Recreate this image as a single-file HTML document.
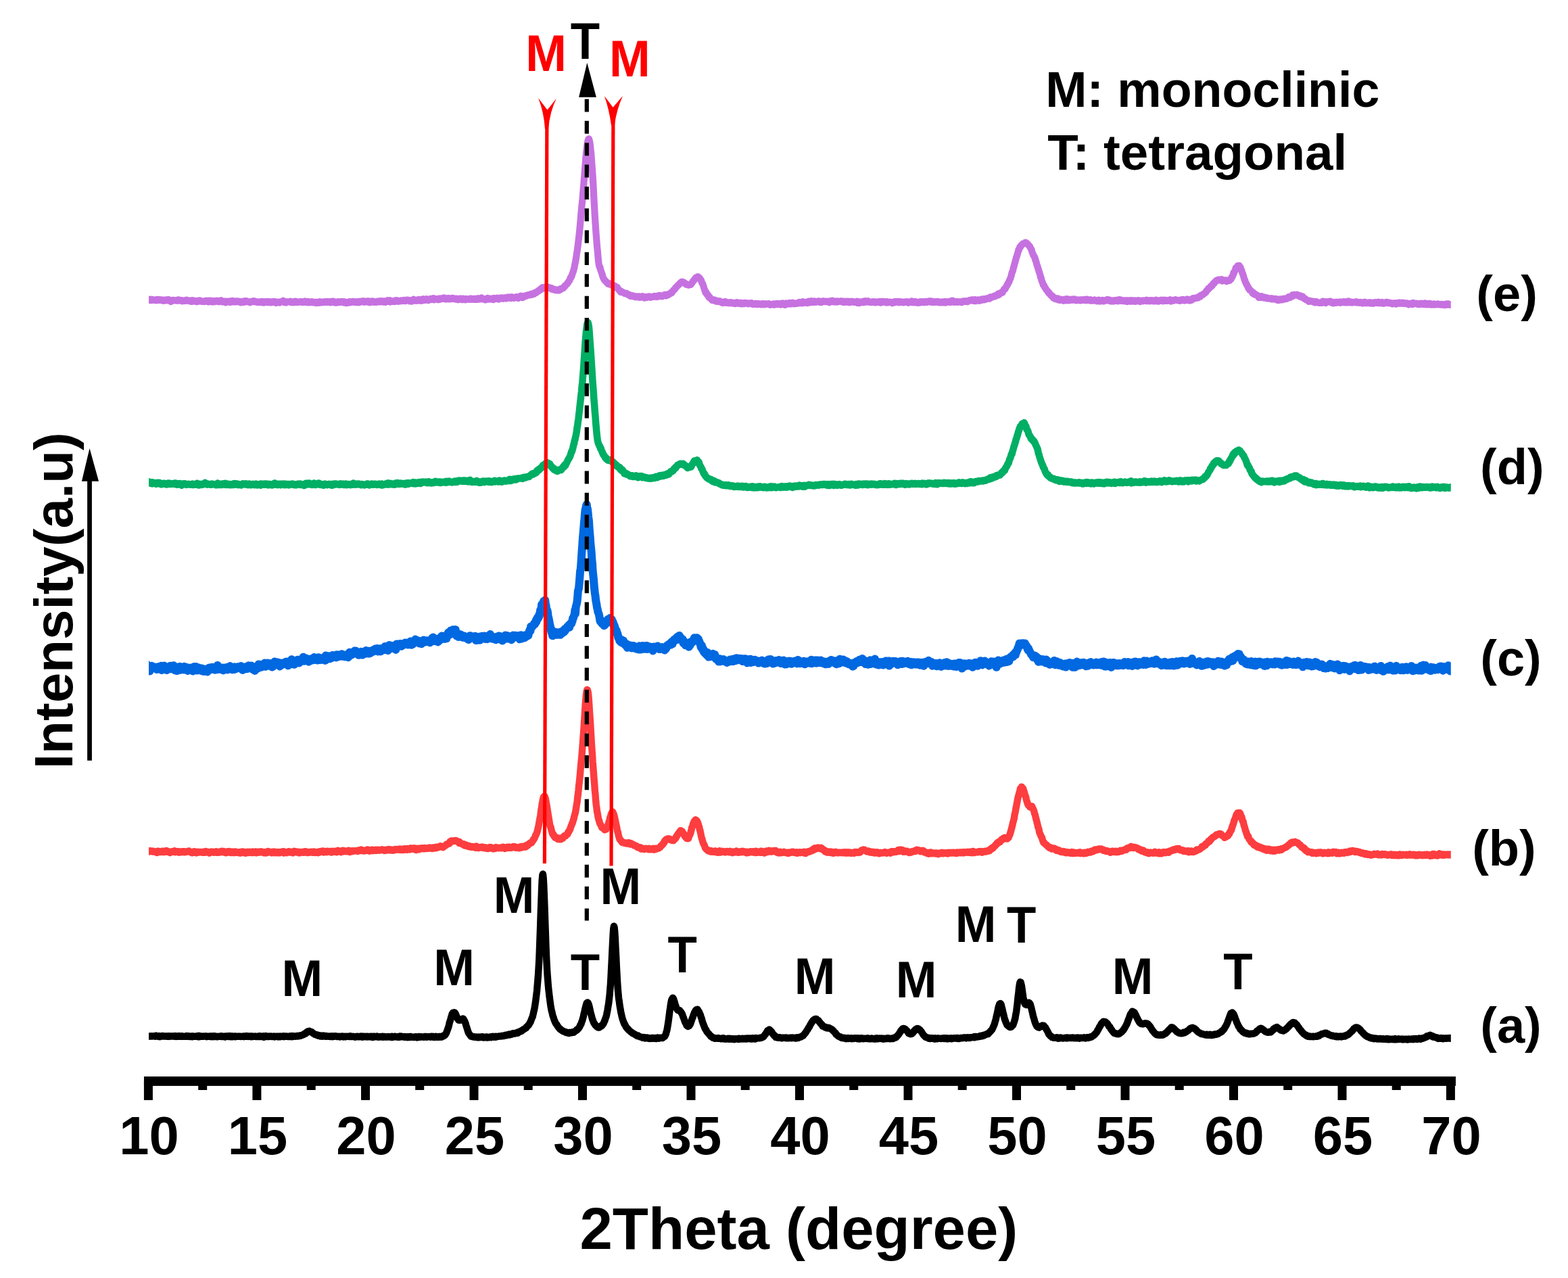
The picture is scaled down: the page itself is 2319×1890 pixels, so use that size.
<!DOCTYPE html>
<html lang="en"><head><meta charset="utf-8"><title>XRD patterns</title>
<style>html,body{margin:0;padding:0;background:#fff;}svg{display:block;}text{font-family:"Liberation Sans","Arial",sans-serif;font-weight:bold;}</style></head>
<body>
<svg width="2319" height="1890" viewBox="0 0 2319 1890">
<rect width="2319" height="1890" fill="#fff"/>
<defs><clipPath id="plotclip"><rect x="220" y="0" width="1925.8" height="1890"/></clipPath></defs>
<g fill="none" stroke-linejoin="round" stroke-linecap="butt" clip-path="url(#plotclip)">
<polyline stroke="#000000" stroke-width="10.4" points="215.5,1532.5 216.1,1532.6 216.8,1532.5 217.4,1532 218.1,1532.7 218.7,1532.5 219.3,1532.2 220,1532.6 220.6,1532.5 221.3,1532.5 221.9,1532.4 222.5,1532.6 223.2,1532.2 223.8,1532.4 224.5,1532.3 225.1,1532.6 225.7,1532.4 226.4,1532.3 227,1532.2 227.7,1532.4 228.3,1532.4 228.9,1532.4 229.6,1532.8 230.2,1532.7 230.9,1531.6 231.5,1531.9 232.1,1532.4 232.8,1532.3 233.4,1532.5 234.1,1532.5 234.7,1533.1 235.3,1532.1 236,1532.4 236.6,1533.1 237.3,1532.7 237.9,1532.7 238.5,1532.3 239.2,1532 239.8,1532.5 240.5,1532.5 241.1,1532.1 241.7,1532.3 242.4,1532.5 243,1532.2 243.7,1532.5 244.3,1532.5 244.9,1532.5 245.6,1532.3 246.2,1532.7 246.9,1532.8 247.5,1532.6 248.1,1532.3 248.8,1532.7 249.4,1532.4 250.1,1532.8 250.7,1532.2 251.3,1532.8 252,1532.5 252.6,1532.2 253.3,1532.4 253.9,1532.5 254.5,1532.6 255.2,1532.2 255.8,1532.2 256.5,1532.6 257.1,1532.4 257.7,1532.6 258.4,1532.8 259,1532.1 259.7,1532.6 260.3,1532.9 260.9,1532.5 261.6,1532.3 262.2,1532.8 262.9,1532.6 263.5,1532.8 264.1,1532.5 264.8,1532.1 265.4,1532.5 266.1,1532.4 266.7,1532.8 267.3,1532.6 268,1532.1 268.6,1532.2 269.3,1532.8 269.9,1532.8 270.5,1532.4 271.2,1532.6 271.8,1532.7 272.5,1532.7 273.1,1532.9 273.7,1532.7 274.4,1532.6 275,1532.5 275.7,1532.9 276.3,1531.9 276.9,1532.6 277.6,1532.6 278.2,1532.2 278.9,1532.7 279.5,1532.4 280.1,1532.9 280.8,1532.6 281.4,1532.8 282.1,1533 282.7,1532.7 283.3,1532.4 284,1532.2 284.6,1533.2 285.3,1532.6 285.9,1532.4 286.5,1532.7 287.2,1532.6 287.8,1532.9 288.5,1532.7 289.1,1532.6 289.7,1532.4 290.4,1532.8 291,1532.3 291.7,1532.9 292.3,1533.1 292.9,1532.2 293.6,1531.9 294.2,1532.8 294.9,1533.4 295.5,1532.4 296.1,1532.3 296.8,1532.8 297.4,1532.4 298.1,1532.5 298.7,1532.6 299.3,1532.8 300,1532.6 300.6,1532.8 301.3,1532.6 301.9,1532.4 302.5,1532.6 303.2,1532.4 303.8,1532.7 304.5,1532.3 305.1,1532.4 305.7,1533.1 306.4,1532.7 307,1532.7 307.7,1532.8 308.3,1532.6 308.9,1532.6 309.6,1532.8 310.2,1532.8 310.9,1532.4 311.5,1533 312.1,1532.5 312.8,1532.4 313.4,1532.4 314.1,1532.6 314.7,1533.2 315.3,1532.4 316,1532.8 316.6,1532.1 317.3,1532.7 317.9,1533 318.5,1532.6 319.2,1532.5 319.8,1532.8 320.5,1532.9 321.1,1532.9 321.7,1533.3 322.4,1532.8 323,1532.6 323.7,1532.7 324.3,1532.7 324.9,1532.8 325.6,1532.7 326.2,1532.8 326.9,1532.2 327.5,1533 328.1,1532.6 328.8,1532.4 329.4,1532.9 330.1,1533.1 330.7,1532.9 331.3,1532.8 332,1532.5 332.6,1533.6 333.3,1533 333.9,1532.4 334.5,1532.5 335.2,1532.8 335.8,1532.3 336.5,1532.8 337.1,1532.6 337.7,1533.1 338.4,1533.1 339,1532 339.7,1532.8 340.3,1532.3 340.9,1533.1 341.6,1532.8 342.2,1532.9 342.9,1532.5 343.5,1533.3 344.1,1533.4 344.8,1532.5 345.4,1532.9 346.1,1532.6 346.7,1532.8 347.3,1532.4 348,1533.3 348.6,1532.5 349.3,1532.7 349.9,1532.9 350.5,1532.6 351.2,1532.7 351.8,1532.6 352.5,1532.8 353.1,1532.4 353.7,1532.7 354.4,1532.7 355,1532.7 355.7,1532.8 356.3,1532.7 356.9,1533 357.6,1532.7 358.2,1532.8 358.9,1532.6 359.5,1532.6 360.1,1532.4 360.8,1533 361.4,1532.5 362.1,1532.6 362.7,1532.9 363.3,1532.9 364,1532.7 364.6,1532.2 365.3,1532.9 365.9,1532.9 366.5,1532.4 367.2,1533 367.8,1532.6 368.5,1532.5 369.1,1532.8 369.7,1532.8 370.4,1532.9 371,1532.3 371.7,1533.4 372.3,1532.6 372.9,1532.4 373.6,1533 374.2,1532.7 374.9,1532.9 375.5,1532.7 376.1,1532.8 376.8,1532.9 377.4,1532.6 378.1,1533 378.7,1532.7 379.3,1532.6 380,1532.9 380.6,1533 381.3,1532.8 381.9,1532.6 382.5,1533 383.2,1532.3 383.8,1532.5 384.5,1532.9 385.1,1532.4 385.7,1532.8 386.4,1532.8 387,1533.1 387.7,1532.6 388.3,1532.7 388.9,1532.9 389.6,1532.1 390.2,1533.8 390.9,1532.6 391.5,1532.6 392.1,1533.1 392.8,1532.8 393.4,1532.3 394.1,1533 394.7,1533.1 395.3,1532.7 396,1532.8 396.6,1533 397.3,1532.6 397.9,1533 398.5,1532.9 399.2,1532.6 399.8,1532.4 400.5,1532.8 401.1,1532.6 401.7,1533.1 402.4,1532.9 403,1533.1 403.7,1532.9 404.3,1532.9 404.9,1532.6 405.6,1533 406.2,1533.4 406.9,1532.7 407.5,1532.7 408.1,1532.8 408.8,1532.7 409.4,1532.6 410.1,1532.9 410.7,1532.7 411.3,1533.3 412,1532.8 412.6,1532.9 413.3,1533.1 413.9,1532.7 414.5,1533.3 415.2,1532.6 415.8,1532.6 416.5,1532.7 417.1,1532.8 417.7,1532.4 418.4,1532.8 419,1532.3 419.7,1533.2 420.3,1532.8 420.9,1532.6 421.6,1532.5 422.2,1532.7 422.9,1532.7 423.5,1532.5 424.1,1532.5 424.8,1532.7 425.4,1532.6 426.1,1533 426.7,1533.1 427.3,1532.7 428,1532.9 428.6,1532.3 429.3,1532.9 429.9,1532.7 430.5,1532.8 431.2,1533.2 431.8,1532 432.5,1532.7 433.1,1532.3 433.7,1532.8 434.4,1532.2 435,1532.4 435.7,1532.6 436.3,1532.7 436.9,1532.5 437.6,1532.2 438.2,1532.2 438.9,1532.6 439.5,1532.3 440.1,1531.7 440.8,1532.4 441.4,1532.2 442.1,1532.3 442.7,1531.8 443.3,1532 444,1531.3 444.6,1531.7 445.3,1531.2 445.9,1531.3 446.5,1531.2 447.2,1530.4 447.8,1530.4 448.5,1530.1 449.1,1530.1 449.7,1529.6 450.4,1528.6 451,1528.7 451.7,1528.3 452.3,1528.3 452.9,1526.7 453.6,1526.5 454.2,1526.7 454.9,1525.4 455.5,1525.2 456.1,1525.4 456.8,1525.4 457.4,1524.8 458.1,1525.2 458.7,1525.2 459.3,1525.9 460,1525.8 460.6,1526.5 461.3,1526.3 461.9,1527 462.5,1527.5 463.2,1528.3 463.8,1528.6 464.5,1528.6 465.1,1529.4 465.7,1529.8 466.4,1529.9 467,1530.2 467.7,1530.5 468.3,1530.3 468.9,1531.1 469.6,1531.3 470.2,1531.1 470.9,1531.7 471.5,1531.2 472.1,1531.6 472.8,1531.7 473.4,1532.5 474.1,1531.5 474.7,1532.2 475.3,1532.4 476,1532.3 476.6,1532.6 477.3,1531.9 477.9,1531.6 478.5,1532.5 479.2,1532 479.8,1532.3 480.5,1532 481.1,1532.7 481.7,1532.7 482.4,1532.2 483,1532.7 483.7,1532.5 484.3,1532.4 484.9,1532.5 485.6,1532.5 486.2,1532.7 486.9,1532.6 487.5,1532.4 488.1,1532.9 488.8,1532.4 489.4,1532.7 490.1,1532.7 490.7,1533 491.3,1532.5 492,1533.1 492.6,1532.7 493.3,1532.6 493.9,1532.4 494.5,1532.8 495.2,1532.7 495.8,1532.3 496.5,1532.3 497.1,1532.5 497.7,1532.5 498.4,1533 499,1533.1 499.7,1533 500.3,1532.8 500.9,1532.6 501.6,1532.8 502.2,1533 502.9,1533.4 503.5,1533 504.1,1532.7 504.8,1532.8 505.4,1532.6 506.1,1532.5 506.7,1532.7 507.3,1532.9 508,1533.4 508.6,1532.8 509.3,1533.2 509.9,1533.3 510.5,1532.8 511.2,1533.3 511.8,1533.1 512.5,1532.7 513.1,1532.9 513.7,1532.9 514.4,1532.8 515,1532.8 515.7,1532.9 516.3,1533 516.9,1532.6 517.6,1532.9 518.2,1532.4 518.9,1533 519.5,1533.1 520.1,1533 520.8,1533 521.4,1533.1 522.1,1532.7 522.7,1532.9 523.3,1533.1 524,1533.2 524.6,1533.1 525.3,1533.7 525.9,1532.9 526.5,1533.3 527.2,1533.4 527.8,1532.9 528.5,1532.7 529.1,1532.6 529.7,1533 530.4,1533.3 531,1533.1 531.7,1533.1 532.3,1532.9 532.9,1533.2 533.6,1532.4 534.2,1533.1 534.9,1533 535.5,1532.6 536.1,1533.7 536.8,1532.6 537.4,1532.7 538.1,1532.7 538.7,1533.4 539.3,1532.8 540,1533.3 540.6,1533.3 541.3,1533.2 541.9,1532.7 542.5,1532.9 543.2,1533.6 543.8,1532.7 544.5,1532.9 545.1,1533.1 545.7,1533.4 546.4,1533.2 547,1533.4 547.7,1532.8 548.3,1533.4 548.9,1533.3 549.6,1532.7 550.2,1533.6 550.9,1533.9 551.5,1532.9 552.1,1533.2 552.8,1533.6 553.4,1532.7 554.1,1532.6 554.7,1532.8 555.3,1533 556,1533 556.6,1533.4 557.3,1533.3 557.9,1532.8 558.5,1533.4 559.2,1533.8 559.8,1533.6 560.5,1533.5 561.1,1533.2 561.7,1533.5 562.4,1533 563,1533.5 563.7,1533.2 564.3,1533.6 564.9,1533.4 565.6,1532.9 566.2,1533.3 566.9,1533.6 567.5,1532.9 568.1,1533.1 568.8,1533.1 569.4,1532.9 570.1,1533.6 570.7,1533.7 571.3,1533.6 572,1533.4 572.6,1533.3 573.3,1533.4 573.9,1533.1 574.5,1533.6 575.2,1533.6 575.8,1533.6 576.5,1533.2 577.1,1533.4 577.7,1533.3 578.4,1533.9 579,1533.4 579.7,1532.8 580.3,1533.5 580.9,1533.9 581.6,1533.6 582.2,1533.6 582.9,1533.4 583.5,1532.8 584.1,1532.8 584.8,1533 585.4,1533.3 586.1,1533.5 586.7,1533.6 587.3,1533.3 588,1533.7 588.6,1533.3 589.3,1533.2 589.9,1533.7 590.5,1533.1 591.2,1532.6 591.8,1533.1 592.5,1533.4 593.1,1532.5 593.7,1533.3 594.4,1533.3 595,1533 595.7,1533 596.3,1533.3 596.9,1533.3 597.6,1533.8 598.2,1533.5 598.9,1533 599.5,1533.2 600.1,1533.6 600.8,1534 601.4,1533.5 602.1,1533.5 602.7,1534 603.3,1533.4 604,1533.3 604.6,1533 605.3,1533.3 605.9,1534.1 606.5,1533 607.2,1533.4 607.8,1533 608.5,1533.5 609.1,1533.7 609.7,1533.4 610.4,1533.7 611,1533.7 611.7,1533.6 612.3,1534 612.9,1533.7 613.6,1533.4 614.2,1533.2 614.9,1533.2 615.5,1533.6 616.1,1533.3 616.8,1534.3 617.4,1534 618.1,1533.4 618.7,1533.3 619.3,1534 620,1532.9 620.6,1533.3 621.3,1533.7 621.9,1533.2 622.5,1533.3 623.2,1533.3 623.8,1533.6 624.5,1533.5 625.1,1533.6 625.7,1533.6 626.4,1533.5 627,1533.8 627.7,1533.2 628.3,1533 628.9,1532.9 629.6,1533 630.2,1533.3 630.9,1533.8 631.5,1533.5 632.1,1533.3 632.8,1533.1 633.4,1533.3 634.1,1533.3 634.7,1533.3 635.3,1533 636,1533.3 636.6,1533.7 637.3,1532.8 637.9,1533.4 638.5,1532.8 639.2,1533.5 639.8,1533.2 640.5,1532.8 641.1,1533.5 641.7,1534 642.4,1533.5 643,1533.8 643.7,1533.4 644.3,1532.8 644.9,1533.6 645.6,1533.3 646.2,1533 646.9,1533.7 647.5,1533.5 648.1,1533.2 648.8,1533.7 649.4,1533.1 650.1,1533.6 650.7,1533.1 651.3,1533.5 652,1532.9 652.6,1533.6 653.3,1533.2 653.9,1533.4 654.5,1532.6 655.2,1532.4 655.8,1532.5 656.5,1531.1 657.1,1531.1 657.7,1531.2 658.4,1530.3 659,1529.6 659.7,1528.2 660.3,1527.2 660.9,1525.4 661.6,1523.6 662.2,1521.7 662.9,1520.1 663.5,1518 664.1,1515.7 664.8,1512.4 665.4,1510.5 666.1,1508.5 666.7,1506.4 667.3,1503.9 668,1501.9 668.6,1499.7 669.3,1499.6 669.9,1497.6 670.5,1497.8 671.2,1497.5 671.8,1497.2 672.5,1497.5 673.1,1498.5 673.7,1499.2 674.4,1500.9 675,1502.3 675.7,1503.9 676.3,1505.4 676.9,1506.9 677.6,1507.3 678.2,1508.6 678.9,1508.5 679.5,1508.7 680.1,1508.7 680.8,1508.4 681.4,1508.5 682.1,1508 682.7,1507.6 683.3,1506.8 684,1506.7 684.6,1506.5 685.3,1506.7 685.9,1507.9 686.5,1508.9 687.2,1509.9 687.8,1512 688.5,1513.2 689.1,1515.7 689.7,1517.6 690.4,1519.7 691,1521.6 691.7,1524.1 692.3,1525.7 692.9,1527.5 693.6,1528.5 694.2,1529.2 694.9,1530.4 695.5,1530.9 696.1,1532 696.8,1532.7 697.4,1532.8 698.1,1532.8 698.7,1533.1 699.3,1533.4 700,1533.1 700.6,1533.6 701.3,1533.7 701.9,1533.5 702.5,1533.6 703.2,1533.8 703.8,1533.5 704.5,1533.6 705.1,1534.1 705.7,1533.9 706.4,1534.4 707,1533.6 707.7,1533.4 708.3,1534.2 708.9,1534.2 709.6,1533.7 710.2,1533.5 710.9,1534 711.5,1533.5 712.1,1533.9 712.8,1533.4 713.4,1533.9 714.1,1533.4 714.7,1534 715.3,1534.5 716,1534 716.6,1534.3 717.3,1533.8 717.9,1533.8 718.5,1533.6 719.2,1534.3 719.8,1534 720.5,1534.5 721.1,1533.6 721.7,1533.9 722.4,1534 723,1534.3 723.7,1534.4 724.3,1533.7 724.9,1533.5 725.6,1533.3 726.2,1534.2 726.9,1533.7 727.5,1533.5 728.1,1533.6 728.8,1532.8 729.4,1533 730.1,1533.8 730.7,1533.6 731.3,1533.4 732,1533 732.6,1533.4 733.3,1533.7 733.9,1532.8 734.5,1533.1 735.2,1532.9 735.8,1533 736.5,1532.9 737.1,1532.7 737.7,1532.4 738.4,1532.6 739,1532.4 739.7,1532.4 740.3,1532.4 740.9,1532.5 741.6,1532 742.2,1532 742.9,1532.3 743.5,1531.8 744.1,1531.7 744.8,1532 745.4,1531.7 746.1,1531.5 746.7,1531.5 747.3,1530.9 748,1531.3 748.6,1531.4 749.3,1531.1 749.9,1530.3 750.5,1530.8 751.2,1530.3 751.8,1530.4 752.5,1530.3 753.1,1529.8 753.7,1530.4 754.4,1529.9 755,1530 755.7,1529.8 756.3,1529.8 756.9,1529.6 757.6,1528.7 758.2,1529 758.9,1528.2 759.5,1528.5 760.1,1528.7 760.8,1528.6 761.4,1528.5 762.1,1527.8 762.7,1527.8 763.3,1527.5 764,1527.7 764.6,1527.6 765.3,1526.8 765.9,1527.8 766.5,1526.4 767.2,1526 767.8,1526.1 768.5,1525.9 769.1,1525.5 769.7,1524.9 770.4,1525.2 771,1524.5 771.7,1524.6 772.3,1524.2 772.9,1523 773.6,1522.7 774.2,1522.3 774.9,1522.3 775.5,1521.8 776.1,1521.4 776.8,1520.6 777.4,1520.4 778.1,1520.1 778.7,1518.7 779.3,1518.4 780,1517.8 780.6,1517 781.3,1516.2 781.9,1515.9 782.5,1514.8 783.2,1513.6 783.8,1512.1 784.5,1511.8 785.1,1509.9 785.7,1508.1 786.4,1506.6 787,1504.8 787.7,1503.6 788.3,1500.9 788.9,1498.4 789.6,1495.1 790.2,1492.9 790.9,1488.9 791.5,1485 792.1,1481.1 792.8,1475.7 793.4,1470.6 794.1,1464.8 794.7,1457.5 795.3,1450.7 796,1441.7 796.6,1431.8 797.3,1419.7 797.9,1404.1 798.5,1387.8 799.2,1368.3 799.8,1348.6 800.5,1330.6 801.1,1314.5 801.7,1301 802.4,1293.9 803,1292.5 803.7,1298.8 804.3,1309.8 804.9,1325.1 805.6,1343.4 806.2,1361.9 806.9,1381.4 807.5,1399.9 808.1,1415 808.8,1428.6 809.4,1439.2 810.1,1448 810.7,1455.9 811.3,1462.6 812,1468.4 812.6,1474 813.3,1479.2 813.9,1483.6 814.5,1488.1 815.2,1491.7 815.8,1495 816.5,1497.1 817.1,1500.4 817.7,1502.5 818.4,1504.1 819,1506.4 819.7,1508.4 820.3,1509.8 820.9,1511.3 821.6,1512.7 822.2,1513.9 822.9,1514.7 823.5,1515.2 824.1,1516.5 824.8,1517.7 825.4,1518.3 826.1,1519.5 826.7,1520.2 827.3,1520.7 828,1521.9 828.6,1521.6 829.3,1522.8 829.9,1522.9 830.5,1523.3 831.2,1524.1 831.8,1524.2 832.5,1525 833.1,1524.8 833.7,1525.5 834.4,1525.5 835,1526 835.7,1526.2 836.3,1526.2 836.9,1526.9 837.6,1526.5 838.2,1526.7 838.9,1527.4 839.5,1527.5 840.1,1527.5 840.8,1527.4 841.4,1528 842.1,1527 842.7,1527.1 843.3,1526.9 844,1527.4 844.6,1527.2 845.3,1527.3 845.9,1527.1 846.5,1526.6 847.2,1526.3 847.8,1526 848.5,1526.8 849.1,1526.1 849.7,1525.7 850.4,1525.1 851,1524.8 851.7,1524.4 852.3,1523.9 852.9,1522.8 853.6,1523 854.2,1522.3 854.9,1521.8 855.5,1521 856.1,1520.4 856.8,1519.2 857.4,1518.4 858.1,1516.2 858.7,1515.4 859.3,1514.8 860,1512.3 860.6,1510.8 861.3,1509.1 861.9,1506.5 862.5,1504.6 863.2,1501.4 863.8,1498.5 864.5,1495.8 865.1,1492.8 865.7,1490.5 866.4,1487.8 867,1485.7 867.7,1483.5 868.3,1483.5 868.9,1482.5 869.6,1483 870.2,1484.4 870.9,1486.1 871.5,1488.3 872.1,1491.2 872.8,1494.2 873.4,1496.9 874.1,1499.7 874.7,1501.8 875.3,1504.1 876,1507.1 876.6,1508.3 877.3,1510.3 877.9,1511.9 878.5,1513.5 879.2,1513.8 879.8,1515.1 880.5,1516 881.1,1516.8 881.7,1516.9 882.4,1518.1 883,1517.7 883.7,1519 884.3,1519.3 884.9,1519.5 885.6,1519 886.2,1519.6 886.9,1518.9 887.5,1518.5 888.1,1518.2 888.8,1517.8 889.4,1517.6 890.1,1517.1 890.7,1515.5 891.3,1515.1 892,1514.6 892.6,1513.2 893.3,1512.1 893.9,1510.1 894.5,1509.3 895.2,1506.7 895.8,1505.3 896.5,1503.4 897.1,1501 897.7,1497.7 898.4,1494.5 899,1490.4 899.7,1486.6 900.3,1482.9 900.9,1477.6 901.6,1471.7 902.2,1464.1 902.9,1455.8 903.5,1445.4 904.1,1433 904.8,1419.9 905.4,1406.8 906.1,1393.1 906.7,1381.5 907.3,1373 908,1369.6 908.6,1371.4 909.3,1378.5 909.9,1388.3 910.5,1401.8 911.2,1414.6 911.8,1428.2 912.5,1441 913.1,1451.9 913.7,1461.3 914.4,1469.2 915,1475.7 915.7,1480.2 916.3,1485.1 916.9,1489 917.6,1492.8 918.2,1496.7 918.9,1499.5 919.5,1502.3 920.1,1504.9 920.8,1507.3 921.4,1509 922.1,1511.2 922.7,1512.1 923.3,1514.2 924,1514.8 924.6,1516.2 925.3,1517.4 925.9,1518.9 926.5,1519.5 927.2,1520 927.8,1521.3 928.5,1521.6 929.1,1522.1 929.7,1523.2 930.4,1523.7 931,1524.5 931.7,1524.6 932.3,1525.5 932.9,1526 933.6,1526.4 934.2,1526.8 934.9,1527.1 935.5,1528 936.1,1528.2 936.8,1528.7 937.4,1528.8 938.1,1529.3 938.7,1529.3 939.3,1530 940,1530.6 940.6,1530.7 941.3,1531.2 941.9,1531.4 942.5,1532 943.2,1531.8 943.8,1531.6 944.5,1532.5 945.1,1532.6 945.7,1532.6 946.4,1533.3 947,1533.4 947.7,1533.6 948.3,1533.6 948.9,1533.9 949.6,1534.1 950.2,1534.7 950.9,1534.1 951.5,1534.5 952.1,1534.7 952.8,1534.2 953.4,1534.3 954.1,1535.5 954.7,1534.4 955.3,1535.2 956,1534.8 956.6,1534.9 957.3,1534.6 957.9,1535 958.5,1535.5 959.2,1534.9 959.8,1535.5 960.5,1535.4 961.1,1536 961.7,1535.2 962.4,1535.8 963,1535.7 963.7,1535.3 964.3,1534.9 964.9,1535.8 965.6,1535 966.2,1535.2 966.9,1535.6 967.5,1535.7 968.1,1535.1 968.8,1535.3 969.4,1535.2 970.1,1535.7 970.7,1536 971.3,1534.7 972,1535.5 972.6,1534.4 973.3,1535.2 973.9,1534.8 974.5,1535.7 975.2,1535.2 975.8,1534.8 976.5,1534.9 977.1,1534.8 977.7,1535 978.4,1534.8 979,1535 979.7,1535.1 980.3,1534.7 980.9,1533.9 981.6,1533.5 982.2,1533.3 982.9,1533.2 983.5,1531.8 984.1,1530.6 984.8,1529.3 985.4,1526.8 986.1,1524.5 986.7,1522 987.3,1518.3 988,1514.2 988.6,1510 989.3,1505 989.9,1500 990.5,1495.1 991.2,1490.7 991.8,1486.2 992.5,1482.1 993.1,1479.4 993.7,1477.6 994.4,1476.8 995,1475.6 995.7,1476.6 996.3,1477.7 996.9,1479.8 997.6,1481.8 998.2,1484.3 998.9,1486.2 999.5,1487.9 1000.1,1489.7 1000.8,1491.4 1001.4,1492.5 1002.1,1493.8 1002.7,1494.1 1003.3,1493.6 1004,1494.3 1004.6,1494.1 1005.3,1494.3 1005.9,1495.5 1006.5,1496 1007.2,1496.4 1007.8,1498.2 1008.5,1498.7 1009.1,1500 1009.7,1502.2 1010.4,1503.8 1011,1505.4 1011.7,1507.3 1012.3,1509.2 1012.9,1510.8 1013.6,1512.4 1014.2,1513.3 1014.9,1514.7 1015.5,1516.3 1016.1,1516.7 1016.8,1517.6 1017.4,1518 1018.1,1517.4 1018.7,1517.3 1019.3,1517.2 1020,1515.9 1020.6,1515.1 1021.3,1513.7 1021.9,1511.9 1022.5,1510 1023.2,1508 1023.8,1506.1 1024.5,1504.7 1025.1,1502.8 1025.7,1500.9 1026.4,1499.5 1027,1497.5 1027.7,1496.6 1028.3,1495.1 1028.9,1494.2 1029.6,1493.5 1030.2,1493.1 1030.9,1493.7 1031.5,1492.7 1032.1,1493.7 1032.8,1494.8 1033.4,1495.7 1034.1,1496.6 1034.7,1498.7 1035.3,1499.6 1036,1501.3 1036.6,1503.8 1037.3,1505.2 1037.9,1506.9 1038.5,1509.9 1039.2,1511.8 1039.8,1513.7 1040.5,1515.2 1041.1,1517 1041.7,1518.3 1042.4,1520.5 1043,1521.5 1043.7,1522.7 1044.3,1523 1044.9,1524.8 1045.6,1525.9 1046.2,1526.7 1046.9,1527.4 1047.5,1528 1048.1,1528.7 1048.8,1529.7 1049.4,1530.4 1050.1,1531.1 1050.7,1531.6 1051.3,1532.8 1052,1532.5 1052.6,1533.3 1053.3,1533.6 1053.9,1534.4 1054.5,1534.9 1055.2,1535.1 1055.8,1535.1 1056.5,1534.7 1057.1,1535.8 1057.7,1535.5 1058.4,1535.4 1059,1535.5 1059.7,1535.4 1060.3,1535.7 1060.9,1535.7 1061.6,1535.5 1062.2,1534.9 1062.9,1535.7 1063.5,1535.9 1064.1,1535.9 1064.8,1535.8 1065.4,1536 1066.1,1536.2 1066.7,1535.8 1067.3,1536.4 1068,1535.4 1068.6,1535.6 1069.3,1535.7 1069.9,1535.3 1070.5,1535.8 1071.2,1536.5 1071.8,1536.5 1072.5,1536.2 1073.1,1536.7 1073.7,1536.3 1074.4,1536.1 1075,1536.3 1075.7,1536.2 1076.3,1536.5 1076.9,1535.8 1077.6,1536.6 1078.2,1536.2 1078.9,1536.6 1079.5,1535.9 1080.1,1536.2 1080.8,1536.4 1081.4,1536.7 1082.1,1536 1082.7,1536.9 1083.3,1536.5 1084,1536.2 1084.6,1536.8 1085.3,1536.4 1085.9,1536.7 1086.5,1537.1 1087.2,1536.6 1087.8,1536.2 1088.5,1536.3 1089.1,1536.6 1089.7,1536.5 1090.4,1536.1 1091,1536.2 1091.7,1536.6 1092.3,1537.1 1092.9,1535.6 1093.6,1536.6 1094.2,1536.3 1094.9,1536.6 1095.5,1536.6 1096.1,1536.3 1096.8,1536 1097.4,1535.9 1098.1,1535.7 1098.7,1536.6 1099.3,1536.2 1100,1536.1 1100.6,1536.1 1101.3,1535.8 1101.9,1536.3 1102.5,1536.6 1103.2,1536.5 1103.8,1535.7 1104.5,1536.5 1105.1,1535.9 1105.7,1535.5 1106.4,1535.7 1107,1535.7 1107.7,1536 1108.3,1535.7 1108.9,1535.5 1109.6,1535.9 1110.2,1536.5 1110.9,1535.7 1111.5,1536 1112.1,1535.9 1112.8,1536.6 1113.4,1535.2 1114.1,1536.1 1114.7,1535.4 1115.3,1535.5 1116,1535.7 1116.6,1536.6 1117.3,1535.4 1117.9,1535 1118.5,1535.9 1119.2,1535.3 1119.8,1535.4 1120.5,1535.4 1121.1,1535.4 1121.7,1535.3 1122.4,1535.3 1123,1535.3 1123.7,1535.3 1124.3,1534.8 1124.9,1534.6 1125.6,1534.4 1126.2,1534.7 1126.9,1534.2 1127.5,1534.1 1128.1,1533.7 1128.8,1533.6 1129.4,1532.7 1130.1,1532.2 1130.7,1531 1131.3,1530.2 1132,1529.6 1132.6,1528.4 1133.3,1528 1133.9,1526.4 1134.5,1525.8 1135.2,1524.2 1135.8,1523.8 1136.5,1523.4 1137.1,1523.1 1137.7,1522.5 1138.4,1523.2 1139,1523.8 1139.7,1524.4 1140.3,1524.8 1140.9,1525.7 1141.6,1526.5 1142.2,1528 1142.9,1529.2 1143.5,1529.5 1144.1,1529.9 1144.8,1531.3 1145.4,1532.1 1146.1,1531.6 1146.7,1533 1147.3,1534 1148,1533.9 1148.6,1534.1 1149.3,1534.3 1149.9,1534.6 1150.5,1534.2 1151.2,1534.3 1151.8,1534.8 1152.5,1534.5 1153.1,1534.8 1153.7,1534.2 1154.4,1535.1 1155,1535.1 1155.7,1534.9 1156.3,1534.9 1156.9,1535.4 1157.6,1534.6 1158.2,1534.7 1158.9,1534.6 1159.5,1534.8 1160.1,1534.7 1160.8,1535 1161.4,1534.8 1162.1,1534.5 1162.7,1534.5 1163.3,1535.4 1164,1535 1164.6,1534.9 1165.3,1535 1165.9,1535 1166.5,1535.2 1167.2,1535.2 1167.8,1534.8 1168.5,1534.8 1169.1,1534.7 1169.7,1534.6 1170.4,1535.4 1171,1534.7 1171.7,1534.4 1172.3,1534.7 1172.9,1534.7 1173.6,1535.1 1174.2,1534.7 1174.9,1535.1 1175.5,1535 1176.1,1535.2 1176.8,1535.5 1177.4,1535.6 1178.1,1535.1 1178.7,1534.3 1179.3,1534.5 1180,1534.6 1180.6,1535 1181.3,1534.4 1181.9,1534.4 1182.5,1533.8 1183.2,1533.9 1183.8,1533.7 1184.5,1533 1185.1,1533.1 1185.7,1532.8 1186.4,1532.1 1187,1532 1187.7,1531.7 1188.3,1530.7 1188.9,1530.1 1189.6,1529.3 1190.2,1528.5 1190.9,1528 1191.5,1527 1192.1,1526.1 1192.8,1525 1193.4,1523.8 1194.1,1523 1194.7,1522.3 1195.3,1520.7 1196,1519.7 1196.6,1519.3 1197.3,1518 1197.9,1516.3 1198.5,1515.5 1199.2,1514 1199.8,1513.6 1200.5,1511.9 1201.1,1511.1 1201.7,1510.6 1202.4,1509.1 1203,1509.1 1203.7,1507.9 1204.3,1507.7 1204.9,1507.2 1205.6,1507 1206.2,1507 1206.9,1507 1207.5,1506.9 1208.1,1507.8 1208.8,1508.2 1209.4,1508.8 1210.1,1509.5 1210.7,1509.3 1211.3,1510.9 1212,1511.6 1212.6,1511.9 1213.3,1513.2 1213.9,1514.1 1214.5,1514.3 1215.2,1514.8 1215.8,1515.9 1216.5,1517.5 1217.1,1517.3 1217.7,1517.4 1218.4,1518.2 1219,1518.4 1219.7,1518.9 1220.3,1519.3 1220.9,1518.7 1221.6,1519.8 1222.2,1520.2 1222.9,1519.8 1223.5,1519.9 1224.1,1520.4 1224.8,1519.8 1225.4,1519.9 1226.1,1520 1226.7,1520.5 1227.3,1520.9 1228,1521 1228.6,1521.5 1229.3,1522 1229.9,1522.4 1230.5,1522.5 1231.2,1523.2 1231.8,1524.3 1232.5,1524.3 1233.1,1525.2 1233.7,1525.9 1234.4,1526.7 1235,1527.1 1235.7,1527.8 1236.3,1529.6 1236.9,1529.9 1237.6,1530 1238.2,1530.8 1238.9,1531.6 1239.5,1531.9 1240.1,1532.6 1240.8,1532.7 1241.4,1533.2 1242.1,1533.6 1242.7,1533.8 1243.3,1533.5 1244,1534.5 1244.6,1534.8 1245.3,1535 1245.9,1534.7 1246.5,1535.2 1247.2,1535.3 1247.8,1534.8 1248.5,1534.7 1249.1,1535.6 1249.7,1535.2 1250.4,1535.8 1251,1536.2 1251.7,1535.4 1252.3,1535.4 1252.9,1535.6 1253.6,1535.8 1254.2,1535.3 1254.9,1536 1255.5,1535.9 1256.1,1535.9 1256.8,1535.5 1257.4,1535.9 1258.1,1535.9 1258.7,1535.3 1259.3,1536.3 1260,1535.6 1260.6,1535.8 1261.3,1535.5 1261.9,1535.8 1262.5,1536 1263.2,1535.5 1263.8,1535.2 1264.5,1535.6 1265.1,1535.3 1265.7,1535.5 1266.4,1535.7 1267,1535.7 1267.7,1536.1 1268.3,1535.4 1268.9,1535.8 1269.6,1535.6 1270.2,1536.2 1270.9,1536.5 1271.5,1535.8 1272.1,1536.3 1272.8,1535.6 1273.4,1535.3 1274.1,1535.4 1274.7,1535.3 1275.3,1535.5 1276,1535.7 1276.6,1536.2 1277.3,1536 1277.9,1536 1278.5,1535.7 1279.2,1535.6 1279.8,1535.9 1280.5,1535.9 1281.1,1535.9 1281.7,1536 1282.4,1535.8 1283,1535.3 1283.7,1535.6 1284.3,1535.6 1284.9,1536.4 1285.6,1535.8 1286.2,1536.1 1286.9,1536.4 1287.5,1536 1288.1,1535.8 1288.8,1535.9 1289.4,1535.6 1290.1,1536 1290.7,1536.3 1291.3,1536.1 1292,1536.2 1292.6,1536.2 1293.3,1536.6 1293.9,1535.8 1294.5,1536 1295.2,1536.2 1295.8,1536.4 1296.5,1535.3 1297.1,1535.8 1297.7,1535.9 1298.4,1535.7 1299,1536.3 1299.7,1536.1 1300.3,1535.9 1300.9,1535.5 1301.6,1535.6 1302.2,1535.7 1302.9,1536.1 1303.5,1535.6 1304.1,1535.4 1304.8,1535.6 1305.4,1535.8 1306.1,1536.5 1306.7,1536.7 1307.3,1535.8 1308,1536.2 1308.6,1536.4 1309.3,1536.3 1309.9,1535.9 1310.5,1535.6 1311.2,1535.8 1311.8,1535.4 1312.5,1536 1313.1,1536.1 1313.7,1535.3 1314.4,1535.9 1315,1536 1315.7,1536.2 1316.3,1536.3 1316.9,1536.1 1317.6,1535.6 1318.2,1535.7 1318.9,1536.1 1319.5,1535.5 1320.1,1535.6 1320.8,1536 1321.4,1535.4 1322.1,1534.8 1322.7,1535 1323.3,1535 1324,1534.5 1324.6,1534.5 1325.3,1534.2 1325.9,1533.1 1326.5,1532.6 1327.2,1532 1327.8,1531 1328.5,1530.6 1329.1,1529.6 1329.7,1528.9 1330.4,1527.5 1331,1526.4 1331.7,1526.3 1332.3,1524.5 1332.9,1523.6 1333.6,1522.8 1334.2,1522.2 1334.9,1521.4 1335.5,1521.3 1336.1,1520.9 1336.8,1520.9 1337.4,1521.2 1338.1,1521.6 1338.7,1522 1339.3,1522.2 1340,1523.2 1340.6,1523.8 1341.3,1524.6 1341.9,1524.9 1342.5,1526.4 1343.2,1526.9 1343.8,1528.1 1344.5,1528.4 1345.1,1528.3 1345.7,1528.5 1346.4,1529.3 1347,1528.7 1347.7,1529 1348.3,1528.4 1348.9,1528.7 1349.6,1527.5 1350.2,1527.3 1350.9,1526.5 1351.5,1525.2 1352.1,1524.5 1352.8,1524.3 1353.4,1523.1 1354.1,1522.2 1354.7,1522.3 1355.3,1522.3 1356,1521.2 1356.6,1521.4 1357.3,1521 1357.9,1521.6 1358.5,1521.4 1359.2,1522.3 1359.8,1522.6 1360.5,1523.1 1361.1,1524 1361.7,1524.6 1362.4,1525.3 1363,1526.3 1363.7,1527.5 1364.3,1528.1 1364.9,1529.4 1365.6,1530.3 1366.2,1531 1366.9,1531.5 1367.5,1532.3 1368.1,1532.8 1368.8,1533.7 1369.4,1533.5 1370.1,1534 1370.7,1534.4 1371.3,1534.7 1372,1534.7 1372.6,1534.9 1373.3,1535.6 1373.9,1535.2 1374.5,1535.7 1375.2,1536.1 1375.8,1536 1376.5,1535.1 1377.1,1535.9 1377.7,1535.8 1378.4,1535.9 1379,1535.2 1379.7,1536 1380.3,1535.4 1380.9,1536.1 1381.6,1536.1 1382.2,1536.5 1382.9,1535.7 1383.5,1535.3 1384.1,1536.1 1384.8,1536 1385.4,1535.7 1386.1,1536.2 1386.7,1536 1387.3,1535.4 1388,1535.7 1388.6,1535.7 1389.3,1535.8 1389.9,1535.9 1390.5,1535.6 1391.2,1535.7 1391.8,1536 1392.5,1535.8 1393.1,1535.7 1393.7,1535.7 1394.4,1535.8 1395,1535.2 1395.7,1535.9 1396.3,1535.5 1396.9,1535.8 1397.6,1535.4 1398.2,1536.1 1398.9,1535.9 1399.5,1535.4 1400.1,1535.8 1400.8,1535.5 1401.4,1536.3 1402.1,1535.9 1402.7,1535.5 1403.3,1535.8 1404,1535.7 1404.6,1536.1 1405.3,1535.8 1405.9,1535.9 1406.5,1535.4 1407.2,1535.9 1407.8,1536.3 1408.5,1535.8 1409.1,1535.6 1409.7,1535.7 1410.4,1535.3 1411,1535.6 1411.7,1535.2 1412.3,1535.6 1412.9,1535.4 1413.6,1535.3 1414.2,1535.7 1414.9,1535 1415.5,1535.4 1416.1,1535 1416.8,1536 1417.4,1536 1418.1,1535.6 1418.7,1535.9 1419.3,1535.5 1420,1535.4 1420.6,1535.1 1421.3,1535 1421.9,1535.2 1422.5,1535 1423.2,1535 1423.8,1535.3 1424.5,1535 1425.1,1534.6 1425.7,1534.9 1426.4,1534.7 1427,1534.9 1427.7,1534.6 1428.3,1535.2 1428.9,1535.4 1429.6,1534.5 1430.2,1534.9 1430.9,1534.9 1431.5,1534.3 1432.1,1534.6 1432.8,1535 1433.4,1534.8 1434.1,1535 1434.7,1534.1 1435.3,1534.1 1436,1534.4 1436.6,1534.4 1437.3,1534.2 1437.9,1534 1438.5,1534 1439.2,1533.8 1439.8,1534.1 1440.5,1533.1 1441.1,1534.3 1441.7,1533.6 1442.4,1533.2 1443,1533.8 1443.7,1533.1 1444.3,1533.5 1444.9,1533.2 1445.6,1533.4 1446.2,1533.4 1446.9,1533.4 1447.5,1532.8 1448.1,1532.8 1448.8,1532.7 1449.4,1532.2 1450.1,1532.7 1450.7,1532.4 1451.3,1531.8 1452,1532.4 1452.6,1532.3 1453.3,1531.3 1453.9,1531.7 1454.5,1531.7 1455.2,1531.4 1455.8,1530.6 1456.5,1530.3 1457.1,1530.4 1457.7,1530 1458.4,1529.9 1459,1529.6 1459.7,1529.4 1460.3,1528.7 1460.9,1528.5 1461.6,1529 1462.2,1527.6 1462.9,1527.3 1463.5,1526.7 1464.1,1526 1464.8,1525 1465.4,1524.7 1466.1,1523.7 1466.7,1523.1 1467.3,1522.5 1468,1520.8 1468.6,1519.7 1469.3,1517.8 1469.9,1516.6 1470.5,1515.4 1471.2,1513 1471.8,1510.7 1472.5,1508.6 1473.1,1506 1473.7,1503.2 1474.4,1500.2 1475,1497.9 1475.7,1494 1476.3,1491.2 1476.9,1488.4 1477.6,1486.7 1478.2,1484.7 1478.9,1484.3 1479.5,1484 1480.1,1484.7 1480.8,1485.9 1481.4,1488.9 1482.1,1491.2 1482.7,1494 1483.3,1496.7 1484,1499.4 1484.6,1501.8 1485.3,1504.9 1485.9,1507 1486.5,1508.8 1487.2,1510.5 1487.8,1512.3 1488.5,1513.6 1489.1,1515.3 1489.7,1516 1490.4,1516.5 1491,1517 1491.7,1517.8 1492.3,1518 1492.9,1518.6 1493.6,1518.9 1494.2,1519 1494.9,1518.9 1495.5,1518.4 1496.1,1518.3 1496.8,1517.3 1497.4,1516.8 1498.1,1516.1 1498.7,1514.7 1499.3,1512.7 1500,1510.9 1500.6,1508.5 1501.3,1506.8 1501.9,1502.6 1502.5,1499.3 1503.2,1495.7 1503.8,1490.7 1504.5,1485.4 1505.1,1479.1 1505.7,1473.5 1506.4,1468.2 1507,1461.7 1507.7,1457.1 1508.3,1453.6 1508.9,1452.2 1509.6,1452.6 1510.2,1455 1510.9,1457.7 1511.5,1461.7 1512.1,1466.6 1512.8,1471 1513.4,1475.3 1514.1,1478.5 1514.7,1480.9 1515.3,1483.4 1516,1485 1516.6,1485.6 1517.3,1485.8 1517.9,1486 1518.5,1485.3 1519.2,1484.2 1519.8,1484.5 1520.5,1483 1521.1,1482.9 1521.7,1482.8 1522.4,1483.2 1523,1484 1523.7,1485 1524.3,1487.3 1524.9,1489.3 1525.6,1491.8 1526.2,1494.7 1526.9,1497.4 1527.5,1500.2 1528.1,1503 1528.8,1505.1 1529.4,1506.9 1530.1,1509.7 1530.7,1511.6 1531.3,1513.4 1532,1514.8 1532.6,1516 1533.3,1517.5 1533.9,1518.4 1534.5,1518.4 1535.2,1519.3 1535.8,1519.3 1536.5,1519.3 1537.1,1519.6 1537.7,1519.1 1538.4,1518.6 1539,1518.4 1539.7,1517.4 1540.3,1517.4 1540.9,1517 1541.6,1516.5 1542.2,1516.8 1542.9,1516.8 1543.5,1516.8 1544.1,1517.3 1544.8,1518.1 1545.4,1519 1546.1,1519.4 1546.7,1520.7 1547.3,1522.1 1548,1523 1548.6,1524.1 1549.3,1525.3 1549.9,1526.7 1550.5,1527.7 1551.2,1529.6 1551.8,1529.8 1552.5,1531 1553.1,1531.7 1553.7,1532.4 1554.4,1532.6 1555,1532.8 1555.7,1534 1556.3,1533.8 1556.9,1534 1557.6,1534.2 1558.2,1534.7 1558.9,1534.7 1559.5,1534.9 1560.1,1534.9 1560.8,1534.7 1561.4,1534.8 1562.1,1534.5 1562.7,1534.2 1563.3,1534.8 1564,1534.6 1564.6,1535.7 1565.3,1535.4 1565.9,1535.3 1566.5,1534.8 1567.2,1535.6 1567.8,1534.5 1568.5,1534.6 1569.1,1534.8 1569.7,1534.7 1570.4,1535.1 1571,1535.1 1571.7,1535.6 1572.3,1535.3 1572.9,1535.4 1573.6,1535.2 1574.2,1535 1574.9,1534.8 1575.5,1534.6 1576.1,1534.8 1576.8,1534.9 1577.4,1535.3 1578.1,1534.5 1578.7,1534.6 1579.3,1535.1 1580,1534.7 1580.6,1535.1 1581.3,1534.9 1581.9,1534.8 1582.5,1534.6 1583.2,1535 1583.8,1534.8 1584.5,1534.8 1585.1,1534.8 1585.7,1535.1 1586.4,1535 1587,1534.5 1587.7,1535 1588.3,1535.1 1588.9,1535.3 1589.6,1535.2 1590.2,1535.1 1590.9,1534.7 1591.5,1534.8 1592.1,1535.3 1592.8,1534.8 1593.4,1535.3 1594.1,1535.4 1594.7,1534.7 1595.3,1535.1 1596,1534.9 1596.6,1535.6 1597.3,1535.2 1597.9,1534.8 1598.5,1535.1 1599.2,1534.7 1599.8,1534.9 1600.5,1535 1601.1,1535 1601.7,1535 1602.4,1534.6 1603,1534.3 1603.7,1534.8 1604.3,1534.6 1604.9,1534.6 1605.6,1535.5 1606.2,1535.1 1606.9,1534.7 1607.5,1534.3 1608.1,1534.3 1608.8,1534.7 1609.4,1534.9 1610.1,1534.4 1610.7,1534.4 1611.3,1534.3 1612,1534.4 1612.6,1533.4 1613.3,1533.8 1613.9,1533.6 1614.5,1533.5 1615.2,1533 1615.8,1532.2 1616.5,1532 1617.1,1531.2 1617.7,1531.2 1618.4,1530.6 1619,1530.1 1619.7,1528.9 1620.3,1528.1 1620.9,1528 1621.6,1526.7 1622.2,1526.2 1622.9,1524.8 1623.5,1523.2 1624.1,1522.7 1624.8,1521.7 1625.4,1520.1 1626.1,1518.5 1626.7,1518.2 1627.3,1516.9 1628,1515.9 1628.6,1514.1 1629.3,1514.1 1629.9,1512.4 1630.5,1512.2 1631.2,1512.2 1631.8,1510.9 1632.5,1510.6 1633.1,1510.9 1633.7,1511.5 1634.4,1511.6 1635,1511.2 1635.7,1512.1 1636.3,1512.5 1636.9,1513 1637.6,1513.8 1638.2,1514.3 1638.9,1515.6 1639.5,1516.6 1640.1,1518.1 1640.8,1518.6 1641.4,1518.6 1642.1,1520 1642.7,1521.4 1643.3,1522.3 1644,1522.7 1644.6,1524.1 1645.3,1524.8 1645.9,1525.6 1646.5,1526.3 1647.2,1527.2 1647.8,1527.9 1648.5,1528.1 1649.1,1528 1649.7,1528.3 1650.4,1528.6 1651,1529 1651.7,1529 1652.3,1529 1652.9,1528.8 1653.6,1529.3 1654.2,1529.2 1654.9,1529 1655.5,1528.4 1656.1,1528.3 1656.8,1527.5 1657.4,1527.1 1658.1,1526.7 1658.7,1526.5 1659.3,1525.7 1660,1524.7 1660.6,1524.3 1661.3,1523.6 1661.9,1522.6 1662.5,1521.4 1663.2,1520.6 1663.8,1519.3 1664.5,1518.2 1665.1,1517 1665.7,1515.9 1666.4,1514.8 1667,1513.2 1667.7,1511.4 1668.3,1509.4 1668.9,1507.8 1669.6,1506.2 1670.2,1505 1670.9,1502.2 1671.5,1501.6 1672.1,1499.5 1672.8,1498.8 1673.4,1498.2 1674.1,1496.6 1674.7,1495.7 1675.3,1496.4 1676,1496.5 1676.6,1496.5 1677.3,1497.2 1677.9,1497.4 1678.5,1499 1679.2,1500.3 1679.8,1501.3 1680.5,1502.6 1681.1,1504.3 1681.7,1505.6 1682.4,1506.4 1683,1508.3 1683.7,1509.3 1684.3,1510.3 1684.9,1511.6 1685.6,1512.3 1686.2,1513 1686.9,1513.2 1687.5,1514 1688.1,1513.7 1688.8,1514.2 1689.4,1513.8 1690.1,1513.8 1690.7,1514.4 1691.3,1514.1 1692,1514 1692.6,1513.9 1693.3,1513.7 1693.9,1513.2 1694.5,1513.5 1695.2,1513.5 1695.8,1513.4 1696.5,1513.8 1697.1,1514 1697.7,1514.4 1698.4,1515.1 1699,1515.9 1699.7,1517.2 1700.3,1517.2 1700.9,1518.5 1701.6,1518.8 1702.2,1520.7 1702.9,1521.2 1703.5,1522.3 1704.1,1523.6 1704.8,1524.5 1705.4,1524.6 1706.1,1526.1 1706.7,1526.6 1707.3,1527.6 1708,1528.1 1708.6,1528.9 1709.3,1529.2 1709.9,1529.5 1710.5,1530.3 1711.2,1529.7 1711.8,1530.3 1712.5,1530.3 1713.1,1530.7 1713.7,1530.7 1714.4,1530.9 1715,1530.8 1715.7,1530.8 1716.3,1530.4 1716.9,1530.8 1717.6,1530.8 1718.2,1530.4 1718.9,1530.2 1719.5,1530.1 1720.1,1530.5 1720.8,1529.9 1721.4,1529.7 1722.1,1529.1 1722.7,1528.7 1723.3,1528.2 1724,1528.5 1724.6,1527.1 1725.3,1527.2 1725.9,1526.5 1726.5,1525.8 1727.2,1524.7 1727.8,1524.1 1728.5,1523.9 1729.1,1522.6 1729.7,1522.3 1730.4,1521.5 1731,1520.8 1731.7,1520.3 1732.3,1519.3 1732.9,1519.4 1733.6,1519.7 1734.2,1519.4 1734.9,1520.6 1735.5,1520.5 1736.1,1521.3 1736.8,1521.7 1737.4,1522.8 1738.1,1523.2 1738.7,1524 1739.3,1524.4 1740,1525.6 1740.6,1525.3 1741.3,1526.4 1741.9,1526.7 1742.5,1527.1 1743.2,1527 1743.8,1527.8 1744.5,1528 1745.1,1527.9 1745.7,1528 1746.4,1528 1747,1528.2 1747.7,1527.8 1748.3,1528.2 1748.9,1528.1 1749.6,1527.4 1750.2,1526.9 1750.9,1527.5 1751.5,1527.3 1752.1,1527.4 1752.8,1526.8 1753.4,1526.3 1754.1,1525.7 1754.7,1525.7 1755.3,1525.1 1756,1524.5 1756.6,1524.3 1757.3,1524.2 1757.9,1523.3 1758.5,1522.5 1759.2,1522.3 1759.8,1521.4 1760.5,1520.7 1761.1,1520.9 1761.7,1520.3 1762.4,1520.5 1763,1520.1 1763.7,1519.8 1764.3,1520.2 1764.9,1520.7 1765.6,1520.5 1766.2,1520.7 1766.9,1521.3 1767.5,1521.8 1768.1,1522.2 1768.8,1522.8 1769.4,1523.9 1770.1,1524.6 1770.7,1524.8 1771.3,1525.6 1772,1526.2 1772.6,1526.9 1773.3,1526.8 1773.9,1527.1 1774.5,1527.7 1775.2,1528 1775.8,1528.4 1776.5,1528.9 1777.1,1528.7 1777.7,1529.1 1778.4,1529 1779,1529.4 1779.7,1529.4 1780.3,1529.6 1780.9,1529.9 1781.6,1529.9 1782.2,1530.3 1782.9,1530.5 1783.5,1529.9 1784.1,1530.7 1784.8,1529.8 1785.4,1530.6 1786.1,1530.8 1786.7,1530.4 1787.3,1530.6 1788,1530.4 1788.6,1530.9 1789.3,1529.7 1789.9,1530.4 1790.5,1530.1 1791.2,1530.7 1791.8,1531 1792.5,1530.9 1793.1,1530.7 1793.7,1530.5 1794.4,1530.1 1795,1530.6 1795.7,1530.3 1796.3,1529.7 1796.9,1529.5 1797.6,1529.5 1798.2,1529.9 1798.9,1529.8 1799.5,1529.7 1800.1,1528.8 1800.8,1528.7 1801.4,1529 1802.1,1528.4 1802.7,1528.2 1803.3,1527.3 1804,1527.2 1804.6,1527 1805.3,1526.5 1805.9,1526 1806.5,1525.2 1807.2,1525.6 1807.8,1524.6 1808.5,1523.5 1809.1,1523.5 1809.7,1522.4 1810.4,1521.8 1811,1520.6 1811.7,1519.4 1812.3,1518.3 1812.9,1517.5 1813.6,1516.3 1814.2,1514.9 1814.9,1513.4 1815.5,1512 1816.1,1510 1816.8,1508.5 1817.4,1506.8 1818.1,1504.8 1818.7,1503 1819.3,1501.3 1820,1499.6 1820.6,1498.4 1821.3,1498.4 1821.9,1497.6 1822.5,1497.4 1823.2,1498.4 1823.8,1498.9 1824.5,1499.7 1825.1,1501.3 1825.7,1502.5 1826.4,1504.3 1827,1506.5 1827.7,1508.1 1828.3,1509.4 1828.9,1511.4 1829.6,1513.1 1830.2,1514.2 1830.9,1515.6 1831.5,1517.5 1832.1,1518.1 1832.8,1518.9 1833.4,1520.4 1834.1,1521.9 1834.7,1522.3 1835.3,1523.1 1836,1522.9 1836.6,1524 1837.3,1525.1 1837.9,1525.2 1838.5,1526.2 1839.2,1526.4 1839.8,1526.7 1840.5,1527.5 1841.1,1527.1 1841.7,1527.4 1842.4,1527.9 1843,1528.1 1843.7,1527.8 1844.3,1528.8 1844.9,1528.7 1845.6,1528.7 1846.2,1529 1846.9,1528.8 1847.5,1529.4 1848.1,1529.1 1848.8,1529.3 1849.4,1528.8 1850.1,1529 1850.7,1529.1 1851.3,1528.6 1852,1528.6 1852.6,1528.7 1853.3,1528.9 1853.9,1528.6 1854.5,1528.4 1855.2,1527.9 1855.8,1527.8 1856.5,1527.6 1857.1,1526.8 1857.7,1526.4 1858.4,1525.9 1859,1524.6 1859.7,1524.6 1860.3,1524.1 1860.9,1523.6 1861.6,1522.7 1862.2,1522.5 1862.9,1521.5 1863.5,1521.3 1864.1,1521.6 1864.8,1520.6 1865.4,1521.1 1866.1,1521.3 1866.7,1521.7 1867.3,1522.1 1868,1523 1868.6,1523 1869.3,1523.5 1869.9,1524.6 1870.5,1524.6 1871.2,1525.5 1871.8,1525.7 1872.5,1525.8 1873.1,1526.2 1873.7,1526.5 1874.4,1526.8 1875,1526.5 1875.7,1526.7 1876.3,1526.3 1876.9,1526.5 1877.6,1525.9 1878.2,1526.3 1878.9,1525.9 1879.5,1526.3 1880.1,1525.7 1880.8,1524.8 1881.4,1524.7 1882.1,1523.9 1882.7,1522.9 1883.3,1521.9 1884,1522.4 1884.6,1521.5 1885.3,1520.3 1885.9,1520.5 1886.5,1520.2 1887.2,1519.5 1887.8,1519.8 1888.5,1519 1889.1,1519.6 1889.7,1520 1890.4,1520.6 1891,1520.9 1891.7,1521.4 1892.3,1522 1892.9,1522.1 1893.6,1523.2 1894.2,1523.1 1894.9,1523.8 1895.5,1523.8 1896.1,1523.9 1896.8,1524.3 1897.4,1524.3 1898.1,1524.5 1898.7,1524.2 1899.3,1523.5 1900,1523.6 1900.6,1523.1 1901.3,1522.4 1901.9,1521.8 1902.5,1521.7 1903.2,1520.8 1903.8,1519.9 1904.5,1519.6 1905.1,1519 1905.7,1518.3 1906.4,1517.1 1907,1516.6 1907.7,1516.5 1908.3,1515.1 1908.9,1514.6 1909.6,1514.8 1910.2,1513.7 1910.9,1513 1911.5,1512.3 1912.1,1512.7 1912.8,1512.1 1913.4,1512.5 1914.1,1512.4 1914.7,1512.4 1915.3,1513.8 1916,1513.7 1916.6,1514.6 1917.3,1515.2 1917.9,1515.5 1918.5,1516.5 1919.2,1517.3 1919.8,1518.5 1920.5,1519.3 1921.1,1520 1921.7,1521.5 1922.4,1522.1 1923,1522.9 1923.7,1523.4 1924.3,1524.6 1924.9,1524.9 1925.6,1526.2 1926.2,1526.5 1926.9,1527.5 1927.5,1528 1928.1,1528.8 1928.8,1529.4 1929.4,1529.7 1930.1,1530.2 1930.7,1530.2 1931.3,1530.4 1932,1531.7 1932.6,1531.8 1933.3,1531.4 1933.9,1532.7 1934.5,1532.1 1935.2,1532.6 1935.8,1532.7 1936.5,1532.7 1937.1,1533 1937.7,1532.5 1938.4,1532.9 1939,1532.9 1939.7,1533 1940.3,1532.9 1940.9,1532.8 1941.6,1532.8 1942.2,1533.2 1942.9,1532.7 1943.5,1533 1944.1,1532.9 1944.8,1532.7 1945.4,1532.8 1946.1,1532.7 1946.7,1532.3 1947.3,1532.4 1948,1532.7 1948.6,1531.7 1949.3,1531.7 1949.9,1531.4 1950.5,1532 1951.2,1530.8 1951.8,1530.9 1952.5,1530.9 1953.1,1530.1 1953.7,1530 1954.4,1529.5 1955,1529 1955.7,1529.1 1956.3,1529 1956.9,1528.4 1957.6,1528.4 1958.2,1528.4 1958.9,1528.4 1959.5,1527.6 1960.1,1528.2 1960.8,1527.9 1961.4,1527.7 1962.1,1528.3 1962.7,1529 1963.3,1529.1 1964,1529 1964.6,1530.1 1965.3,1530.1 1965.9,1530.2 1966.5,1530.4 1967.2,1530.9 1967.8,1531 1968.5,1531.6 1969.1,1531.6 1969.7,1531.9 1970.4,1531.8 1971,1531.6 1971.7,1532.3 1972.3,1532 1972.9,1532.4 1973.6,1532.5 1974.2,1532.4 1974.9,1532.9 1975.5,1532.3 1976.1,1533.2 1976.8,1532.7 1977.4,1533.2 1978.1,1533.3 1978.7,1532.7 1979.3,1532.8 1980,1533.3 1980.6,1533.1 1981.3,1533.1 1981.9,1532.5 1982.5,1532.5 1983.2,1533.1 1983.8,1533.4 1984.5,1532.7 1985.1,1532.6 1985.7,1532.8 1986.4,1532.8 1987,1532.8 1987.7,1532.3 1988.3,1531.7 1988.9,1532.6 1989.6,1531.8 1990.2,1532.1 1990.9,1530.9 1991.5,1531.3 1992.1,1530.7 1992.8,1530.2 1993.4,1530.5 1994.1,1530.1 1994.7,1529.1 1995.3,1529 1996,1528 1996.6,1527.5 1997.3,1527 1997.9,1526.4 1998.5,1526 1999.2,1524.8 1999.8,1524.8 2000.5,1524.1 2001.1,1523 2001.7,1522.1 2002.4,1521.1 2003,1521.2 2003.7,1520.4 2004.3,1520.2 2004.9,1519.5 2005.6,1519.6 2006.2,1519.5 2006.9,1519.5 2007.5,1519.8 2008.1,1520 2008.8,1520.6 2009.4,1520.6 2010.1,1521.6 2010.7,1522.1 2011.3,1522.6 2012,1523.1 2012.6,1524.6 2013.3,1525 2013.9,1525.5 2014.5,1526.4 2015.2,1527.1 2015.8,1527.7 2016.5,1528.1 2017.1,1529.2 2017.7,1529.7 2018.4,1530.2 2019,1531.1 2019.7,1530.9 2020.3,1531.5 2020.9,1532.2 2021.6,1532.8 2022.2,1533.1 2022.9,1533.5 2023.5,1532.9 2024.1,1534 2024.8,1534.2 2025.4,1534.5 2026.1,1534.3 2026.7,1534.8 2027.3,1535.1 2028,1535.5 2028.6,1535.2 2029.3,1534.8 2029.9,1535.4 2030.5,1535.6 2031.2,1535.7 2031.8,1536.2 2032.5,1535.7 2033.1,1535.5 2033.7,1535.7 2034.4,1536.1 2035,1535.8 2035.7,1535.7 2036.3,1535.9 2036.9,1536.5 2037.6,1536.3 2038.2,1536.1 2038.9,1536.5 2039.5,1536.5 2040.1,1536.1 2040.8,1536.6 2041.4,1536.5 2042.1,1535.9 2042.7,1536.1 2043.3,1536.6 2044,1536.7 2044.6,1536.5 2045.3,1536.3 2045.9,1536.7 2046.5,1536.1 2047.2,1536.8 2047.8,1536.6 2048.5,1536.7 2049.1,1536.5 2049.7,1537 2050.4,1536 2051,1536.5 2051.7,1536.9 2052.3,1536.5 2052.9,1537.2 2053.6,1536.9 2054.2,1536.5 2054.9,1537.1 2055.5,1536.8 2056.1,1537 2056.8,1536.6 2057.4,1536.6 2058.1,1537 2058.7,1536.8 2059.3,1536.6 2060,1536.6 2060.6,1537 2061.3,1537.3 2061.9,1536.6 2062.5,1537 2063.2,1536 2063.8,1536.4 2064.5,1537 2065.1,1537.3 2065.7,1536.8 2066.4,1537 2067,1536.9 2067.7,1537.1 2068.3,1536.5 2068.9,1537 2069.6,1536.7 2070.2,1536.7 2070.9,1536.8 2071.5,1536.7 2072.1,1536.6 2072.8,1536.7 2073.4,1536.5 2074.1,1537.2 2074.7,1537 2075.3,1536.7 2076,1537.3 2076.6,1537.2 2077.3,1536.9 2077.9,1536.6 2078.5,1536.8 2079.2,1536.9 2079.8,1537.2 2080.5,1536.7 2081.1,1536.6 2081.7,1537.4 2082.4,1537.1 2083,1536.8 2083.7,1536.4 2084.3,1536.8 2084.9,1537 2085.6,1536.9 2086.2,1536.9 2086.9,1536.7 2087.5,1537 2088.1,1536.4 2088.8,1536.5 2089.4,1536.5 2090.1,1536.4 2090.7,1537.2 2091.3,1536.1 2092,1536.6 2092.6,1536.2 2093.3,1536.2 2093.9,1536.5 2094.5,1536 2095.2,1536.4 2095.8,1537.1 2096.5,1536.4 2097.1,1536.5 2097.7,1536.1 2098.4,1536.5 2099,1535.8 2099.7,1536.3 2100.3,1536.1 2100.9,1536.7 2101.6,1536 2102.2,1535.8 2102.9,1535.6 2103.5,1535.3 2104.1,1535.7 2104.8,1535.7 2105.4,1534.9 2106.1,1535 2106.7,1534.5 2107.3,1534.4 2108,1534.1 2108.6,1533.3 2109.3,1533.2 2109.9,1533.4 2110.5,1532.2 2111.2,1532.5 2111.8,1532.2 2112.5,1531.8 2113.1,1531.9 2113.7,1531.8 2114.4,1531.8 2115,1530.8 2115.7,1532.1 2116.3,1531.5 2116.9,1532.1 2117.6,1531.9 2118.2,1532 2118.9,1532.3 2119.5,1533.6 2120.1,1533.3 2120.8,1533.1 2121.4,1533.5 2122.1,1534 2122.7,1534.1 2123.3,1534.2 2124,1534.4 2124.6,1534.3 2125.3,1535 2125.9,1535.3 2126.5,1535.8 2127.2,1535.1 2127.8,1535.5 2128.5,1535.4 2129.1,1535.8 2129.7,1535.5 2130.4,1535.4 2131,1535.1 2131.7,1535.8 2132.3,1535.6 2132.9,1535.9 2133.6,1535.4 2134.2,1536.4 2134.9,1535.4 2135.5,1535.7 2136.1,1535.7 2136.8,1535.9 2137.4,1535.5 2138.1,1535.2 2138.7,1535.2 2139.3,1535.7 2140,1535.5 2140.6,1535.5 2141.3,1535.2 2141.9,1535.5 2142.5,1535.5 2143.2,1535.6 2143.8,1534.9 2144.5,1535.1 2145.1,1535.8 2145.7,1535.2 2146.4,1535.3 2147,1535.2 2147.7,1534.9 2148.3,1535 2148.9,1535.4 2149.6,1535.1 2150.2,1535.9"/>
<polyline stroke="#FD3D3F" stroke-width="10.4" points="215.5,1259.8 216.1,1259.2 216.8,1259.3 217.4,1258.2 218.1,1260 218.7,1259.4 219.3,1258.5 220,1259 220.6,1258.9 221.3,1258.3 221.9,1259.2 222.5,1258.7 223.2,1258.7 223.8,1258.5 224.5,1259.1 225.1,1259.1 225.7,1259.5 226.4,1258.6 227,1259.1 227.7,1258.9 228.3,1259.8 228.9,1259.7 229.6,1259.9 230.2,1260.1 230.9,1259.6 231.5,1260.4 232.1,1261 232.8,1259 233.4,1258.6 234.1,1258.7 234.7,1259.7 235.3,1259.4 236,1260 236.6,1259.8 237.3,1259.7 237.9,1259.9 238.5,1259.4 239.2,1259.9 239.8,1258.6 240.5,1258.9 241.1,1259.3 241.7,1260.2 242.4,1259.1 243,1258.7 243.7,1259 244.3,1259.9 244.9,1259.1 245.6,1259.6 246.2,1258 246.9,1259.8 247.5,1259.8 248.1,1258.6 248.8,1259.5 249.4,1260.1 250.1,1259.9 250.7,1260.2 251.3,1261.1 252,1260.1 252.6,1259.8 253.3,1259.4 253.9,1259.8 254.5,1259.3 255.2,1259.2 255.8,1259.4 256.5,1259.7 257.1,1258.8 257.7,1258.8 258.4,1258.3 259,1260.2 259.7,1259.3 260.3,1260 260.9,1259.5 261.6,1259.2 262.2,1259.9 262.9,1259.7 263.5,1259.1 264.1,1259.3 264.8,1260.7 265.4,1260 266.1,1260 266.7,1259.6 267.3,1259.5 268,1260.3 268.6,1259.6 269.3,1259.2 269.9,1259.6 270.5,1259.3 271.2,1259.7 271.8,1260.2 272.5,1259.2 273.1,1260.4 273.7,1259.4 274.4,1259.8 275,1259.4 275.7,1259.5 276.3,1259.7 276.9,1259.3 277.6,1258.9 278.2,1258.7 278.9,1259 279.5,1258.7 280.1,1259.5 280.8,1259.7 281.4,1260.1 282.1,1260.2 282.7,1261 283.3,1260.2 284,1260 284.6,1261.2 285.3,1259.8 285.9,1260.8 286.5,1259.8 287.2,1260.5 287.8,1259.2 288.5,1260.9 289.1,1260.5 289.7,1260.1 290.4,1261.4 291,1260.7 291.7,1260.3 292.3,1259.8 292.9,1260 293.6,1259.9 294.2,1260.4 294.9,1260.5 295.5,1260 296.1,1260.2 296.8,1260.3 297.4,1259.9 298.1,1260.3 298.7,1260.6 299.3,1260.7 300,1260.7 300.6,1259.7 301.3,1260.4 301.9,1259.8 302.5,1260.9 303.2,1259.8 303.8,1260.1 304.5,1259.2 305.1,1259.5 305.7,1259.9 306.4,1260 307,1260.3 307.7,1259.6 308.3,1260.9 308.9,1260.1 309.6,1261.6 310.2,1260.1 310.9,1261.1 311.5,1259.9 312.1,1260.6 312.8,1259.6 313.4,1259.8 314.1,1260.2 314.7,1259.8 315.3,1260.1 316,1260.5 316.6,1260.8 317.3,1260.3 317.9,1259.9 318.5,1260.4 319.2,1260.5 319.8,1259.3 320.5,1260.7 321.1,1260.1 321.7,1260.1 322.4,1260.7 323,1260.5 323.7,1260.4 324.3,1259.6 324.9,1260.4 325.6,1260.1 326.2,1259.3 326.9,1260.2 327.5,1259.9 328.1,1258.7 328.8,1259.7 329.4,1258.9 330.1,1260.4 330.7,1260.1 331.3,1259.2 332,1259.5 332.6,1260.1 333.3,1260.4 333.9,1261.3 334.5,1261.1 335.2,1260.6 335.8,1260.9 336.5,1259.2 337.1,1260 337.7,1260.1 338.4,1259.6 339,1259.2 339.7,1259.9 340.3,1260.9 340.9,1260.2 341.6,1259.9 342.2,1261.1 342.9,1259.4 343.5,1260.8 344.1,1260.2 344.8,1260.9 345.4,1259.9 346.1,1261 346.7,1260.7 347.3,1259.5 348,1259.4 348.6,1260.3 349.3,1260.9 349.9,1260.2 350.5,1260.1 351.2,1260.2 351.8,1261 352.5,1260.7 353.1,1260.8 353.7,1260.1 354.4,1261.4 355,1261.3 355.7,1259.9 356.3,1261.5 356.9,1260.8 357.6,1260.3 358.2,1259.5 358.9,1260.9 359.5,1260.7 360.1,1260.3 360.8,1259.7 361.4,1261 362.1,1260.2 362.7,1260.2 363.3,1261.7 364,1261.6 364.6,1261 365.3,1260.6 365.9,1261.1 366.5,1259.7 367.2,1261 367.8,1260.3 368.5,1260 369.1,1259.8 369.7,1260.7 370.4,1260.4 371,1260.4 371.7,1261 372.3,1260.1 372.9,1259.8 373.6,1259.5 374.2,1260.3 374.9,1261 375.5,1260.3 376.1,1260.7 376.8,1259.8 377.4,1260.3 378.1,1259.9 378.7,1259.5 379.3,1261.4 380,1260.8 380.6,1260 381.3,1259.8 381.9,1260.4 382.5,1260.2 383.2,1260.6 383.8,1259.9 384.5,1260.3 385.1,1260 385.7,1260.2 386.4,1259.3 387,1259.6 387.7,1259.9 388.3,1259.9 388.9,1260.1 389.6,1260.2 390.2,1261.4 390.9,1260.9 391.5,1260.1 392.1,1260.8 392.8,1260.2 393.4,1261.5 394.1,1260.7 394.7,1259.6 395.3,1260.9 396,1260.6 396.6,1258.9 397.3,1260.1 397.9,1260.2 398.5,1259.7 399.2,1259.9 399.8,1260.2 400.5,1260.6 401.1,1260.1 401.7,1261.3 402.4,1259.8 403,1260.8 403.7,1260.6 404.3,1261 404.9,1260.1 405.6,1259.6 406.2,1260.2 406.9,1261 407.5,1261.2 408.1,1260.4 408.8,1260.8 409.4,1260 410.1,1261.1 410.7,1261.3 411.3,1260.2 412,1260.6 412.6,1260.1 413.3,1261.4 413.9,1260.7 414.5,1260.3 415.2,1260.3 415.8,1260.2 416.5,1259.9 417.1,1259.5 417.7,1259.6 418.4,1259.4 419,1260.7 419.7,1261.6 420.3,1259.5 420.9,1260.4 421.6,1260.8 422.2,1260.2 422.9,1260.7 423.5,1260.3 424.1,1261.2 424.8,1260.5 425.4,1260.5 426.1,1260.4 426.7,1260.1 427.3,1259.1 428,1259.9 428.6,1260.4 429.3,1260 429.9,1260.3 430.5,1259.6 431.2,1260.4 431.8,1260.6 432.5,1260.3 433.1,1261.4 433.7,1260.2 434.4,1259.4 435,1258.8 435.7,1260.1 436.3,1259.4 436.9,1259.7 437.6,1259.3 438.2,1260.2 438.9,1260.5 439.5,1259.7 440.1,1260.2 440.8,1260.7 441.4,1259.8 442.1,1261.4 442.7,1261.1 443.3,1261.3 444,1260.6 444.6,1260.7 445.3,1259.9 445.9,1260.5 446.5,1260.1 447.2,1260.3 447.8,1260 448.5,1260.5 449.1,1260.9 449.7,1259.4 450.4,1260.5 451,1259.2 451.7,1259.2 452.3,1260.4 452.9,1260.5 453.6,1260.8 454.2,1259.7 454.9,1260.3 455.5,1260.4 456.1,1260.9 456.8,1260.3 457.4,1260.6 458.1,1260 458.7,1260.2 459.3,1260.1 460,1260.6 460.6,1259.6 461.3,1259.7 461.9,1260.1 462.5,1260.9 463.2,1260 463.8,1259.8 464.5,1259.6 465.1,1260.4 465.7,1260.3 466.4,1261 467,1260.6 467.7,1260.2 468.3,1260.5 468.9,1260.2 469.6,1260.3 470.2,1261.2 470.9,1260.6 471.5,1259.4 472.1,1260.8 472.8,1259.9 473.4,1259.3 474.1,1259.9 474.7,1259.5 475.3,1259.1 476,1258.6 476.6,1259.8 477.3,1259.7 477.9,1258.5 478.5,1260.4 479.2,1260.5 479.8,1259.7 480.5,1259.9 481.1,1259.4 481.7,1259.2 482.4,1259.3 483,1260.2 483.7,1258.8 484.3,1259.8 484.9,1259.8 485.6,1259.4 486.2,1259.6 486.9,1259.1 487.5,1259.3 488.1,1259.6 488.8,1259.7 489.4,1258.9 490.1,1260.6 490.7,1258.9 491.3,1259.2 492,1258.8 492.6,1258.9 493.3,1259.8 493.9,1259 494.5,1259.6 495.2,1259.7 495.8,1258.8 496.5,1259.6 497.1,1258.8 497.7,1260.3 498.4,1258.9 499,1258.5 499.7,1257.8 500.3,1258.4 500.9,1258.8 501.6,1259.1 502.2,1259 502.9,1259.4 503.5,1259.5 504.1,1260.2 504.8,1258.4 505.4,1258.6 506.1,1258.3 506.7,1257.9 507.3,1258.4 508,1258.6 508.6,1259.2 509.3,1258.7 509.9,1258.4 510.5,1259 511.2,1258.8 511.8,1258.7 512.5,1259.3 513.1,1258.6 513.7,1259.3 514.4,1259 515,1258.4 515.7,1257.8 516.3,1259 516.9,1258.5 517.6,1260.1 518.2,1258.5 518.9,1259.2 519.5,1258.6 520.1,1258.9 520.8,1259.2 521.4,1258.3 522.1,1258.4 522.7,1258.6 523.3,1258.4 524,1258.4 524.6,1258.6 525.3,1258.4 525.9,1258.3 526.5,1258.3 527.2,1258 527.8,1258.4 528.5,1258.4 529.1,1258.8 529.7,1258.1 530.4,1257.5 531,1258.3 531.7,1257.5 532.3,1257.4 532.9,1257.8 533.6,1258.1 534.2,1256.5 534.9,1257.3 535.5,1258 536.1,1257.5 536.8,1257.4 537.4,1257.6 538.1,1258.6 538.7,1257.6 539.3,1258.2 540,1258.2 540.6,1257.6 541.3,1257.7 541.9,1257.1 542.5,1256.9 543.2,1256.4 543.8,1257.6 544.5,1257 545.1,1257 545.7,1257 546.4,1258.7 547,1258.4 547.7,1257.9 548.3,1257.3 548.9,1257 549.6,1258 550.2,1257.8 550.9,1256.7 551.5,1258 552.1,1258.1 552.8,1257.4 553.4,1257.3 554.1,1257.3 554.7,1257.8 555.3,1257.6 556,1256.7 556.6,1257.9 557.3,1257.3 557.9,1257.7 558.5,1257.6 559.2,1256.8 559.8,1257 560.5,1257.4 561.1,1257.6 561.7,1257.2 562.4,1256.9 563,1257.3 563.7,1257 564.3,1257.1 564.9,1256.3 565.6,1257.1 566.2,1256.5 566.9,1256.9 567.5,1257.2 568.1,1257.3 568.8,1258 569.4,1257.6 570.1,1256.9 570.7,1257.4 571.3,1257 572,1257.4 572.6,1256.7 573.3,1256.3 573.9,1256.3 574.5,1256.6 575.2,1256.1 575.8,1256.5 576.5,1257 577.1,1257.5 577.7,1256.7 578.4,1256.5 579,1257 579.7,1257.1 580.3,1257.6 580.9,1257.3 581.6,1256.9 582.2,1257.6 582.9,1257.4 583.5,1256.2 584.1,1256.6 584.8,1256 585.4,1256.4 586.1,1256.1 586.7,1256.6 587.3,1256.6 588,1256.4 588.6,1256.1 589.3,1256.6 589.9,1256.4 590.5,1255.8 591.2,1255.6 591.8,1256.9 592.5,1257.1 593.1,1256.3 593.7,1256.8 594.4,1255.8 595,1255.6 595.7,1256.3 596.3,1257.1 596.9,1255.6 597.6,1255.4 598.2,1256.7 598.9,1255 599.5,1256.2 600.1,1255.9 600.8,1255.5 601.4,1255.7 602.1,1256.8 602.7,1255 603.3,1255.3 604,1255.4 604.6,1255.2 605.3,1254.9 605.9,1256.5 606.5,1255.6 607.2,1254.5 607.8,1254.8 608.5,1255.5 609.1,1255.6 609.7,1254.4 610.4,1255.2 611,1255.5 611.7,1255.6 612.3,1255.4 612.9,1254.3 613.6,1256.4 614.2,1255.7 614.9,1256.3 615.5,1257 616.1,1255.5 616.8,1254.8 617.4,1255.8 618.1,1255.2 618.7,1255.4 619.3,1254.8 620,1256.2 620.6,1255.4 621.3,1254.7 621.9,1255.1 622.5,1254.4 623.2,1255.1 623.8,1254.8 624.5,1254.3 625.1,1254.9 625.7,1254.4 626.4,1255 627,1255.2 627.7,1254.2 628.3,1254 628.9,1254.7 629.6,1255.1 630.2,1254.7 630.9,1254.8 631.5,1254.7 632.1,1254.9 632.8,1254.9 633.4,1254 634.1,1253.9 634.7,1254.1 635.3,1253.7 636,1254.3 636.6,1254.5 637.3,1254.1 637.9,1253.9 638.5,1253.7 639.2,1255 639.8,1254.5 640.5,1253.5 641.1,1253.5 641.7,1254.6 642.4,1254.4 643,1254 643.7,1254.2 644.3,1252.7 644.9,1253.5 645.6,1254.1 646.2,1252.9 646.9,1252.8 647.5,1253.4 648.1,1253.2 648.8,1252.2 649.4,1252.3 650.1,1252.5 650.7,1251.5 651.3,1251.1 652,1252 652.6,1251.8 653.3,1252.7 653.9,1252 654.5,1251.6 655.2,1253.2 655.8,1251.4 656.5,1251.7 657.1,1251.5 657.7,1251.3 658.4,1250.6 659,1250.3 659.7,1249.5 660.3,1248.4 660.9,1248.8 661.6,1248.8 662.2,1248.1 662.9,1247.8 663.5,1247.1 664.1,1247.7 664.8,1247.2 665.4,1244.8 666.1,1245.6 666.7,1244.7 667.3,1243.5 668,1244.6 668.6,1243.7 669.3,1243.5 669.9,1243.4 670.5,1244 671.2,1243.9 671.8,1243.4 672.5,1243.7 673.1,1243.1 673.7,1243.4 674.4,1243.2 675,1243.8 675.7,1243.6 676.3,1244.6 676.9,1245 677.6,1244.8 678.2,1245.6 678.9,1246.9 679.5,1245 680.1,1246.4 680.8,1246.8 681.4,1247.2 682.1,1247.2 682.7,1248.1 683.3,1248.2 684,1248.1 684.6,1248.7 685.3,1248.9 685.9,1248.2 686.5,1250.2 687.2,1249.8 687.8,1249.7 688.5,1250.5 689.1,1250.1 689.7,1249.6 690.4,1251.2 691,1250.2 691.7,1250.9 692.3,1251.4 692.9,1252.1 693.6,1252.2 694.2,1251.8 694.9,1251.3 695.5,1251.7 696.1,1252.2 696.8,1252.7 697.4,1252.2 698.1,1252 698.7,1252.7 699.3,1252 700,1252.3 700.6,1252.4 701.3,1252.9 701.9,1252.6 702.5,1253.3 703.2,1253.7 703.8,1253 704.5,1251.5 705.1,1251.8 705.7,1253.1 706.4,1252.9 707,1254.1 707.7,1253.1 708.3,1253 708.9,1253.7 709.6,1253.5 710.2,1253 710.9,1253.3 711.5,1252.7 712.1,1252.8 712.8,1253.7 713.4,1252.4 714.1,1253.6 714.7,1253.8 715.3,1253.9 716,1254.2 716.6,1254.2 717.3,1253.2 717.9,1253.8 718.5,1254 719.2,1254.9 719.8,1253.9 720.5,1254.2 721.1,1254.3 721.7,1255.1 722.4,1253.7 723,1253.5 723.7,1254.3 724.3,1253 724.9,1254.2 725.6,1253.6 726.2,1253.2 726.9,1254 727.5,1253.9 728.1,1254.2 728.8,1254.5 729.4,1255.4 730.1,1254.6 730.7,1254.5 731.3,1254.1 732,1254.5 732.6,1254.8 733.3,1253 733.9,1254.1 734.5,1253.4 735.2,1253.7 735.8,1253.9 736.5,1254.3 737.1,1253.9 737.7,1253.8 738.4,1254 739,1253.9 739.7,1253.6 740.3,1253.7 740.9,1254.2 741.6,1253.6 742.2,1253.9 742.9,1252.8 743.5,1253.3 744.1,1252.6 744.8,1253.9 745.4,1253.2 746.1,1254 746.7,1255 747.3,1253.4 748,1254.1 748.6,1253.6 749.3,1253.2 749.9,1252.9 750.5,1253.6 751.2,1253.9 751.8,1253.4 752.5,1252.4 753.1,1252.4 753.7,1253 754.4,1253.9 755,1253.3 755.7,1253.5 756.3,1253.7 756.9,1253.1 757.6,1252.9 758.2,1252.8 758.9,1252 759.5,1253 760.1,1252.9 760.8,1253.1 761.4,1252.2 762.1,1252.5 762.7,1253.8 763.3,1253.3 764,1253.8 764.6,1252.9 765.3,1253.6 765.9,1253.5 766.5,1253.6 767.2,1253.7 767.8,1254.3 768.5,1254.2 769.1,1253.8 769.7,1252.1 770.4,1253.5 771,1252.9 771.7,1251.8 772.3,1252.3 772.9,1252.9 773.6,1253 774.2,1252.2 774.9,1251.7 775.5,1252.4 776.1,1251.8 776.8,1252.7 777.4,1250.4 778.1,1252.1 778.7,1251 779.3,1250.2 780,1250.6 780.6,1249.3 781.3,1249.5 781.9,1248.1 782.5,1248.4 783.2,1247.5 783.8,1246.7 784.5,1247 785.1,1246.3 785.7,1246.4 786.4,1246.1 787,1244.5 787.7,1243.8 788.3,1243.1 788.9,1241.2 789.6,1241.4 790.2,1240.1 790.9,1238.9 791.5,1237.1 792.1,1235.1 792.8,1234.5 793.4,1233 794.1,1231.3 794.7,1229.1 795.3,1226.8 796,1223.4 796.6,1221 797.3,1216.9 797.9,1213.8 798.5,1210.1 799.2,1207.1 799.8,1201.8 800.5,1196.6 801.1,1193.9 801.7,1188.6 802.4,1185.3 803,1182 803.7,1179.1 804.3,1178.6 804.9,1177.5 805.6,1177.6 806.2,1179.3 806.9,1181.6 807.5,1185.1 808.1,1188.5 808.8,1192.2 809.4,1196.1 810.1,1200.6 810.7,1205 811.3,1208.3 812,1212.3 812.6,1216.1 813.3,1220.4 813.9,1222.5 814.5,1222.9 815.2,1226.6 815.8,1228.5 816.5,1230.9 817.1,1233.1 817.7,1233.9 818.4,1233.7 819,1235.9 819.7,1236.9 820.3,1237.6 820.9,1238.7 821.6,1237.8 822.2,1239.3 822.9,1238.4 823.5,1239.7 824.1,1239.8 824.8,1241 825.4,1240 826.1,1239.5 826.7,1240.9 827.3,1240 828,1241.3 828.6,1240 829.3,1239.8 829.9,1241 830.5,1240 831.2,1240.2 831.8,1238.5 832.5,1239.7 833.1,1237.9 833.7,1238.1 834.4,1236.4 835,1235.8 835.7,1236.2 836.3,1236.1 836.9,1236.1 837.6,1234.8 838.2,1234.3 838.9,1233.4 839.5,1233.6 840.1,1230.7 840.8,1230.9 841.4,1229.2 842.1,1228.5 842.7,1226.6 843.3,1226.3 844,1223.3 844.6,1221.7 845.3,1220.6 845.9,1218.2 846.5,1217.5 847.2,1215.5 847.8,1212.8 848.5,1211.4 849.1,1208.2 849.7,1206 850.4,1203.4 851,1201.7 851.7,1197.4 852.3,1193.6 852.9,1189.4 853.6,1185.9 854.2,1179.7 854.9,1174.7 855.5,1169.3 856.1,1162.1 856.8,1156.8 857.4,1150.9 858.1,1143.3 858.7,1135.6 859.3,1129.2 860,1122.2 860.6,1115.7 861.3,1106.8 861.9,1099 862.5,1090.6 863.2,1081.2 863.8,1071.5 864.5,1061.2 865.1,1051.1 865.7,1041.5 866.4,1033.8 867,1026.7 867.7,1022.1 868.3,1020 868.9,1020.3 869.6,1023 870.2,1027.5 870.9,1035.7 871.5,1045.1 872.1,1054.6 872.8,1064.2 873.4,1074.5 874.1,1086.4 874.7,1096.9 875.3,1106.7 876,1115.7 876.6,1126.3 877.3,1135.1 877.9,1143.2 878.5,1151.8 879.2,1159.4 879.8,1168.6 880.5,1175 881.1,1183.5 881.7,1189.6 882.4,1194.6 883,1200 883.7,1203 884.3,1207 884.9,1210 885.6,1212.6 886.2,1214.3 886.9,1217.1 887.5,1218.4 888.1,1219.4 888.8,1220.7 889.4,1221.7 890.1,1223.9 890.7,1223.4 891.3,1224.1 892,1224.6 892.6,1225 893.3,1225.5 893.9,1227 894.5,1227.2 895.2,1226.7 895.8,1226.2 896.5,1226.2 897.1,1224.7 897.7,1223.1 898.4,1222.6 899,1220.8 899.7,1218.5 900.3,1216.8 900.9,1214.1 901.6,1212.8 902.2,1209.1 902.9,1207.5 903.5,1205.6 904.1,1203.3 904.8,1202.5 905.4,1200.8 906.1,1200.5 906.7,1201.8 907.3,1202.9 908,1205.4 908.6,1207.2 909.3,1210.2 909.9,1213.1 910.5,1216.1 911.2,1219.4 911.8,1222 912.5,1225.2 913.1,1229.3 913.7,1230.2 914.4,1233.5 915,1236.5 915.7,1238.4 916.3,1240.8 916.9,1241.8 917.6,1242.1 918.2,1243.4 918.9,1243.4 919.5,1245.2 920.1,1245.8 920.8,1245.5 921.4,1246.4 922.1,1246.4 922.7,1246 923.3,1246.8 924,1246.2 924.6,1246.5 925.3,1246.9 925.9,1247.1 926.5,1247.6 927.2,1246.8 927.8,1247.2 928.5,1247.4 929.1,1247.6 929.7,1246.1 930.4,1247.2 931,1248.3 931.7,1247.5 932.3,1248.2 932.9,1248.6 933.6,1247.3 934.2,1248.2 934.9,1248.5 935.5,1248.9 936.1,1248.5 936.8,1249.7 937.4,1249.6 938.1,1250.5 938.7,1250.6 939.3,1250.2 940,1251.1 940.6,1251 941.3,1251.3 941.9,1251.4 942.5,1252.5 943.2,1253.2 943.8,1253 944.5,1253.2 945.1,1253.1 945.7,1253.4 946.4,1254.1 947,1253.2 947.7,1255.2 948.3,1254.2 948.9,1255.6 949.6,1255.1 950.2,1254.4 950.9,1255.2 951.5,1255.1 952.1,1255.6 952.8,1255.9 953.4,1255.2 954.1,1255.3 954.7,1255.3 955.3,1254.6 956,1255.2 956.6,1255.4 957.3,1255.6 957.9,1255.6 958.5,1255.4 959.2,1256.3 959.8,1254.7 960.5,1255.6 961.1,1255.5 961.7,1256 962.4,1256.2 963,1256 963.7,1255.8 964.3,1256.1 964.9,1255.1 965.6,1255.9 966.2,1254.6 966.9,1256.6 967.5,1256.5 968.1,1255.5 968.8,1255.5 969.4,1254.7 970.1,1255 970.7,1255.7 971.3,1255.4 972,1254.7 972.6,1254.6 973.3,1254.4 973.9,1254.6 974.5,1254.4 975.2,1253.5 975.8,1253.1 976.5,1252.9 977.1,1251 977.7,1251.4 978.4,1250.5 979,1250.4 979.7,1248.4 980.3,1248.8 980.9,1247.1 981.6,1246.8 982.2,1246.5 982.9,1243.9 983.5,1243.1 984.1,1243.4 984.8,1241.8 985.4,1241.3 986.1,1241.6 986.7,1240.8 987.3,1241 988,1240.4 988.6,1240.3 989.3,1240.8 989.9,1241.4 990.5,1240.7 991.2,1241.8 991.8,1242.1 992.5,1241.9 993.1,1242.5 993.7,1242 994.4,1242.2 995,1242.8 995.7,1242.7 996.3,1243 996.9,1241.3 997.6,1241.3 998.2,1240.6 998.9,1239.9 999.5,1239.4 1000.1,1237.2 1000.8,1237.2 1001.4,1235.4 1002.1,1234.3 1002.7,1233.9 1003.3,1232.5 1004,1232.2 1004.6,1230.8 1005.3,1229.9 1005.9,1229.2 1006.5,1228.3 1007.2,1228.4 1007.8,1229.1 1008.5,1229.6 1009.1,1229.6 1009.7,1231.8 1010.4,1232.6 1011,1232.9 1011.7,1234 1012.3,1236.3 1012.9,1236 1013.6,1237.5 1014.2,1238.4 1014.9,1239.1 1015.5,1239.8 1016.1,1240 1016.8,1239.2 1017.4,1239.1 1018.1,1240.1 1018.7,1237.2 1019.3,1236.4 1020,1235.3 1020.6,1233.5 1021.3,1232.2 1021.9,1229.4 1022.5,1227.6 1023.2,1223.7 1023.8,1223.1 1024.5,1221 1025.1,1218.2 1025.7,1217.2 1026.4,1215.1 1027,1214.2 1027.7,1214.1 1028.3,1212.7 1028.9,1212.3 1029.6,1213.2 1030.2,1213.2 1030.9,1214.3 1031.5,1215.5 1032.1,1216.8 1032.8,1219.4 1033.4,1221.3 1034.1,1222.9 1034.7,1226.6 1035.3,1227.8 1036,1231.1 1036.6,1234 1037.3,1237.6 1037.9,1239.7 1038.5,1241.5 1039.2,1244.2 1039.8,1246.1 1040.5,1248.2 1041.1,1248.7 1041.7,1249.8 1042.4,1251.9 1043,1254 1043.7,1254.4 1044.3,1255.6 1044.9,1256 1045.6,1256.8 1046.2,1257.3 1046.9,1256.9 1047.5,1258.4 1048.1,1257.5 1048.8,1258.5 1049.4,1257.9 1050.1,1259.2 1050.7,1258.1 1051.3,1259.7 1052,1258.5 1052.6,1259.1 1053.3,1259.2 1053.9,1258.8 1054.5,1259.9 1055.2,1258.9 1055.8,1259.9 1056.5,1258.8 1057.1,1258.8 1057.7,1258.4 1058.4,1260 1059,1260.3 1059.7,1259.9 1060.3,1259.8 1060.9,1259.5 1061.6,1260.9 1062.2,1260 1062.9,1258.7 1063.5,1259.4 1064.1,1258.3 1064.8,1260.3 1065.4,1260.6 1066.1,1260.3 1066.7,1259.5 1067.3,1259.5 1068,1258.8 1068.6,1259.9 1069.3,1259.4 1069.9,1259.7 1070.5,1259.4 1071.2,1259.3 1071.8,1260.1 1072.5,1260.5 1073.1,1259.4 1073.7,1259.4 1074.4,1259.1 1075,1259 1075.7,1259.1 1076.3,1259.9 1076.9,1259.5 1077.6,1260.1 1078.2,1259.7 1078.9,1259.3 1079.5,1258.7 1080.1,1259.5 1080.8,1259.3 1081.4,1260.8 1082.1,1260 1082.7,1259.9 1083.3,1261.2 1084,1259.9 1084.6,1260.1 1085.3,1259.8 1085.9,1260.3 1086.5,1259.7 1087.2,1260.1 1087.8,1260.4 1088.5,1259.1 1089.1,1258.5 1089.7,1260.2 1090.4,1259.8 1091,1260.2 1091.7,1259.6 1092.3,1260.8 1092.9,1260.8 1093.6,1259.5 1094.2,1260.2 1094.9,1259.7 1095.5,1259.3 1096.1,1259.9 1096.8,1260.1 1097.4,1258.9 1098.1,1258.7 1098.7,1259.9 1099.3,1259.2 1100,1259.4 1100.6,1259.2 1101.3,1259.6 1101.9,1260.3 1102.5,1260.4 1103.2,1260.5 1103.8,1261.4 1104.5,1260.6 1105.1,1259.6 1105.7,1260.1 1106.4,1260.4 1107,1261 1107.7,1259.7 1108.3,1259.6 1108.9,1259.7 1109.6,1259.3 1110.2,1259.2 1110.9,1259.6 1111.5,1260.4 1112.1,1260.3 1112.8,1260 1113.4,1260.1 1114.1,1259.2 1114.7,1260.5 1115.3,1260.2 1116,1259.9 1116.6,1259.1 1117.3,1261.1 1117.9,1258.7 1118.5,1259.5 1119.2,1259.8 1119.8,1260.7 1120.5,1259.5 1121.1,1260.6 1121.7,1260.2 1122.4,1259.9 1123,1260.4 1123.7,1260.7 1124.3,1260.2 1124.9,1259.7 1125.6,1258.6 1126.2,1260.8 1126.9,1259.6 1127.5,1259 1128.1,1260.2 1128.8,1260.7 1129.4,1260.1 1130.1,1259.5 1130.7,1261.6 1131.3,1260.6 1132,1260.1 1132.6,1260.2 1133.3,1258.5 1133.9,1259.4 1134.5,1259 1135.2,1260 1135.8,1258.6 1136.5,1258.5 1137.1,1257.9 1137.7,1258.2 1138.4,1258.3 1139,1258.6 1139.7,1258.3 1140.3,1259.7 1140.9,1258.8 1141.6,1258.7 1142.2,1259.3 1142.9,1258.7 1143.5,1258.5 1144.1,1257.9 1144.8,1258.8 1145.4,1258.4 1146.1,1259.5 1146.7,1258.9 1147.3,1257.9 1148,1259.5 1148.6,1260.6 1149.3,1259.9 1149.9,1260.5 1150.5,1260.5 1151.2,1261.5 1151.8,1260.6 1152.5,1260.4 1153.1,1260.3 1153.7,1259.6 1154.4,1261.3 1155,1261.2 1155.7,1260.3 1156.3,1261 1156.9,1260.8 1157.6,1260.3 1158.2,1260.3 1158.9,1260.9 1159.5,1259.8 1160.1,1260.2 1160.8,1260.8 1161.4,1260.8 1162.1,1260.8 1162.7,1261 1163.3,1261.4 1164,1260.9 1164.6,1261.2 1165.3,1261.1 1165.9,1262 1166.5,1260.5 1167.2,1261 1167.8,1261.3 1168.5,1260.6 1169.1,1260.4 1169.7,1260.3 1170.4,1260.7 1171,1259.8 1171.7,1260.4 1172.3,1260.5 1172.9,1259.8 1173.6,1260.7 1174.2,1260.5 1174.9,1260.8 1175.5,1261 1176.1,1261.1 1176.8,1260.4 1177.4,1261.3 1178.1,1260.2 1178.7,1260.6 1179.3,1261.9 1180,1260.8 1180.6,1261.3 1181.3,1260.5 1181.9,1260.8 1182.5,1260.2 1183.2,1261.2 1183.8,1260.3 1184.5,1260.9 1185.1,1260.8 1185.7,1260.8 1186.4,1260.7 1187,1260.7 1187.7,1260.8 1188.3,1260.4 1188.9,1259.7 1189.6,1261 1190.2,1261.9 1190.9,1261.3 1191.5,1262 1192.1,1260.9 1192.8,1259.8 1193.4,1259.7 1194.1,1260.3 1194.7,1259.9 1195.3,1259.6 1196,1260 1196.6,1259.1 1197.3,1259.4 1197.9,1258.6 1198.5,1258.6 1199.2,1258.6 1199.8,1257.8 1200.5,1258.3 1201.1,1257.8 1201.7,1256.5 1202.4,1257.6 1203,1255.6 1203.7,1255.9 1204.3,1256 1204.9,1254.3 1205.6,1255.8 1206.2,1255.7 1206.9,1254.7 1207.5,1254.3 1208.1,1254.2 1208.8,1253.8 1209.4,1254.3 1210.1,1253.6 1210.7,1253.8 1211.3,1254.3 1212,1254.7 1212.6,1255 1213.3,1253.9 1213.9,1253.7 1214.5,1255.1 1215.2,1255.3 1215.8,1254.8 1216.5,1255.9 1217.1,1256.6 1217.7,1256.6 1218.4,1257.7 1219,1257 1219.7,1258.1 1220.3,1259.4 1220.9,1259.2 1221.6,1258.7 1222.2,1259.5 1222.9,1260.3 1223.5,1260.7 1224.1,1259.9 1224.8,1260.3 1225.4,1259.4 1226.1,1260.1 1226.7,1260.9 1227.3,1259.9 1228,1260.4 1228.6,1259.4 1229.3,1261.3 1229.9,1260.4 1230.5,1260.8 1231.2,1259.9 1231.8,1260.3 1232.5,1261.8 1233.1,1260.7 1233.7,1260.7 1234.4,1260.9 1235,1261 1235.7,1259.7 1236.3,1260.5 1236.9,1260.9 1237.6,1260.8 1238.2,1261.3 1238.9,1260.9 1239.5,1260.8 1240.1,1261.2 1240.8,1260.6 1241.4,1260.6 1242.1,1260.7 1242.7,1260.8 1243.3,1261 1244,1260.6 1244.6,1260.8 1245.3,1260.8 1245.9,1261 1246.5,1261.4 1247.2,1260.4 1247.8,1261.4 1248.5,1260.2 1249.1,1261.3 1249.7,1260.8 1250.4,1261.3 1251,1261.6 1251.7,1260.3 1252.3,1261.5 1252.9,1261.3 1253.6,1260.9 1254.2,1261.4 1254.9,1260.7 1255.5,1261.1 1256.1,1260.4 1256.8,1261.4 1257.4,1261.2 1258.1,1261.2 1258.7,1260.7 1259.3,1261.9 1260,1261.9 1260.6,1261.1 1261.3,1260.9 1261.9,1260.9 1262.5,1261.6 1263.2,1261.8 1263.8,1260.9 1264.5,1260 1265.1,1261.2 1265.7,1260.9 1266.4,1260.8 1267,1260.8 1267.7,1260.1 1268.3,1260.5 1268.9,1260.4 1269.6,1260.6 1270.2,1260.9 1270.9,1260.2 1271.5,1259.6 1272.1,1260.5 1272.8,1259.7 1273.4,1258.7 1274.1,1257.5 1274.7,1257.7 1275.3,1257.6 1276,1257.3 1276.6,1256.7 1277.3,1257.2 1277.9,1256.6 1278.5,1256.7 1279.2,1257.6 1279.8,1257.7 1280.5,1258.3 1281.1,1258.8 1281.7,1259.3 1282.4,1258.6 1283,1258.8 1283.7,1258.4 1284.3,1258.6 1284.9,1259.7 1285.6,1259.1 1286.2,1258.9 1286.9,1260.6 1287.5,1260.1 1288.1,1260.4 1288.8,1260.7 1289.4,1260.9 1290.1,1260.9 1290.7,1259.7 1291.3,1261 1292,1260.5 1292.6,1260.2 1293.3,1260.1 1293.9,1261.6 1294.5,1261.2 1295.2,1261.1 1295.8,1261.3 1296.5,1260.8 1297.1,1260.1 1297.7,1261.4 1298.4,1261.6 1299,1261.5 1299.7,1262.1 1300.3,1262.4 1300.9,1260.9 1301.6,1260.8 1302.2,1261.5 1302.9,1261.1 1303.5,1261.1 1304.1,1261.6 1304.8,1261.4 1305.4,1261 1306.1,1261.3 1306.7,1260.6 1307.3,1261.1 1308,1260.5 1308.6,1260.2 1309.3,1261.1 1309.9,1260.8 1310.5,1261.7 1311.2,1261.8 1311.8,1261.2 1312.5,1261.4 1313.1,1260.6 1313.7,1260.7 1314.4,1261.1 1315,1261.1 1315.7,1261 1316.3,1260.8 1316.9,1261.7 1317.6,1260.4 1318.2,1259.3 1318.9,1260.1 1319.5,1259.6 1320.1,1260.1 1320.8,1260.2 1321.4,1259.2 1322.1,1259.8 1322.7,1260.2 1323.3,1259.4 1324,1259.8 1324.6,1259.9 1325.3,1259.8 1325.9,1259.4 1326.5,1258.8 1327.2,1258.6 1327.8,1257.7 1328.5,1256.9 1329.1,1257.7 1329.7,1259 1330.4,1258.2 1331,1256.7 1331.7,1257.3 1332.3,1257.7 1332.9,1256.6 1333.6,1257.8 1334.2,1256.9 1334.9,1258.4 1335.5,1258.4 1336.1,1259.8 1336.8,1257.8 1337.4,1258.8 1338.1,1258.3 1338.7,1259.7 1339.3,1258.9 1340,1259.5 1340.6,1259.3 1341.3,1258.8 1341.9,1259.3 1342.5,1259.4 1343.2,1259.5 1343.8,1260.4 1344.5,1261 1345.1,1261 1345.7,1260.6 1346.4,1260 1347,1260.5 1347.7,1259.8 1348.3,1260.1 1348.9,1260 1349.6,1259.5 1350.2,1259 1350.9,1259.1 1351.5,1259.3 1352.1,1258.7 1352.8,1258.1 1353.4,1258.4 1354.1,1257.8 1354.7,1258.8 1355.3,1257.7 1356,1256.7 1356.6,1257.4 1357.3,1257.5 1357.9,1257.3 1358.5,1257.2 1359.2,1257.7 1359.8,1257.9 1360.5,1258.3 1361.1,1258.1 1361.7,1259.4 1362.4,1258.1 1363,1259.1 1363.7,1258.6 1364.3,1257.8 1364.9,1258.3 1365.6,1258.1 1366.2,1258.7 1366.9,1260.4 1367.5,1259.7 1368.1,1260.6 1368.8,1260.2 1369.4,1260.8 1370.1,1260.5 1370.7,1261.8 1371.3,1261.5 1372,1261.4 1372.6,1261.5 1373.3,1262.7 1373.9,1261.6 1374.5,1261.8 1375.2,1260.6 1375.8,1261.1 1376.5,1261.6 1377.1,1260.5 1377.7,1262.3 1378.4,1261.5 1379,1261.6 1379.7,1261.4 1380.3,1261.5 1380.9,1261.5 1381.6,1262.3 1382.2,1262.2 1382.9,1262.2 1383.5,1261.6 1384.1,1261.4 1384.8,1262.6 1385.4,1261.6 1386.1,1262.1 1386.7,1262.9 1387.3,1263.1 1388,1261.8 1388.6,1262.3 1389.3,1262.2 1389.9,1261.9 1390.5,1261.4 1391.2,1262.2 1391.8,1262 1392.5,1262 1393.1,1260.8 1393.7,1261.8 1394.4,1261.1 1395,1262.3 1395.7,1261.7 1396.3,1261.3 1396.9,1261.8 1397.6,1261.8 1398.2,1261.6 1398.9,1261.7 1399.5,1261.5 1400.1,1261.5 1400.8,1261 1401.4,1262.6 1402.1,1261.5 1402.7,1261.5 1403.3,1261.7 1404,1260.8 1404.6,1261 1405.3,1261.2 1405.9,1261.5 1406.5,1261.5 1407.2,1260.8 1407.8,1261.4 1408.5,1261.2 1409.1,1261.4 1409.7,1260.7 1410.4,1260.6 1411,1261.1 1411.7,1261 1412.3,1260.9 1412.9,1261.3 1413.6,1262.1 1414.2,1261.3 1414.9,1261.7 1415.5,1260.5 1416.1,1261.7 1416.8,1261.4 1417.4,1260.8 1418.1,1261 1418.7,1260.6 1419.3,1260.8 1420,1260.5 1420.6,1261.3 1421.3,1260.6 1421.9,1260.3 1422.5,1261 1423.2,1261.2 1423.8,1260.6 1424.5,1261.3 1425.1,1260.3 1425.7,1260.1 1426.4,1261.2 1427,1260.5 1427.7,1260.7 1428.3,1260.5 1428.9,1260.5 1429.6,1260.2 1430.2,1260 1430.9,1260.6 1431.5,1260.1 1432.1,1260.5 1432.8,1260.7 1433.4,1260.5 1434.1,1259.6 1434.7,1260.8 1435.3,1261 1436,1260.4 1436.6,1259.5 1437.3,1260.2 1437.9,1261.3 1438.5,1259.6 1439.2,1259 1439.8,1260.3 1440.5,1260.5 1441.1,1261 1441.7,1260.8 1442.4,1260.3 1443,1260.6 1443.7,1260.4 1444.3,1260.3 1444.9,1260 1445.6,1259.8 1446.2,1260.3 1446.9,1259.8 1447.5,1259.4 1448.1,1260 1448.8,1259.1 1449.4,1259.5 1450.1,1259.7 1450.7,1259 1451.3,1259.9 1452,1260.7 1452.6,1260.7 1453.3,1259.6 1453.9,1259.4 1454.5,1259.2 1455.2,1259.3 1455.8,1259.3 1456.5,1258.6 1457.1,1259.5 1457.7,1259.6 1458.4,1259.3 1459,1258.9 1459.7,1259 1460.3,1258.1 1460.9,1258.8 1461.6,1258.4 1462.2,1257.9 1462.9,1257.2 1463.5,1258.1 1464.1,1257.3 1464.8,1255.5 1465.4,1256.3 1466.1,1255.9 1466.7,1254 1467.3,1254.9 1468,1254.7 1468.6,1254.3 1469.3,1253.1 1469.9,1251.9 1470.5,1251.6 1471.2,1251.4 1471.8,1250.9 1472.5,1249.3 1473.1,1249.1 1473.7,1249 1474.4,1246.9 1475,1247.5 1475.7,1246.7 1476.3,1245.3 1476.9,1246.3 1477.6,1244.9 1478.2,1245.2 1478.9,1245.1 1479.5,1243.2 1480.1,1242.6 1480.8,1242.7 1481.4,1241.2 1482.1,1242.1 1482.7,1241.2 1483.3,1241.2 1484,1239.4 1484.6,1239.9 1485.3,1240 1485.9,1238.8 1486.5,1240.2 1487.2,1239.2 1487.8,1240.2 1488.5,1239.4 1489.1,1240.4 1489.7,1240.6 1490.4,1239.7 1491,1239.2 1491.7,1238.8 1492.3,1236.8 1492.9,1235.4 1493.6,1234 1494.2,1231.5 1494.9,1229.6 1495.5,1227.3 1496.1,1225.3 1496.8,1222.1 1497.4,1220.2 1498.1,1216.6 1498.7,1214.7 1499.3,1212.1 1500,1209.7 1500.6,1204.7 1501.3,1201.9 1501.9,1199.2 1502.5,1195.1 1503.2,1192.4 1503.8,1188.8 1504.5,1185.1 1505.1,1182.1 1505.7,1178.8 1506.4,1176.6 1507,1174.4 1507.7,1171.6 1508.3,1170.5 1508.9,1166.5 1509.6,1165.4 1510.2,1164.9 1510.9,1163.6 1511.5,1164.3 1512.1,1165.1 1512.8,1165.7 1513.4,1166.9 1514.1,1169.2 1514.7,1171 1515.3,1173.3 1516,1175.4 1516.6,1177.2 1517.3,1179.4 1517.9,1182.3 1518.5,1184.5 1519.2,1186.3 1519.8,1188.7 1520.5,1189.7 1521.1,1191.2 1521.7,1191.5 1522.4,1191.9 1523,1193.2 1523.7,1193.1 1524.3,1192.7 1524.9,1193.1 1525.6,1194.8 1526.2,1192.2 1526.9,1194.8 1527.5,1195.5 1528.1,1196.6 1528.8,1198.2 1529.4,1200 1530.1,1203.5 1530.7,1204.3 1531.3,1206.9 1532,1209.9 1532.6,1212.2 1533.3,1214.6 1533.9,1217.3 1534.5,1219.4 1535.2,1223 1535.8,1224.5 1536.5,1226.4 1537.1,1230.3 1537.7,1231.9 1538.4,1233.6 1539,1234.7 1539.7,1237.1 1540.3,1237.5 1540.9,1238.5 1541.6,1241.3 1542.2,1243.4 1542.9,1244.4 1543.5,1246.4 1544.1,1246.6 1544.8,1246.8 1545.4,1247.5 1546.1,1248.4 1546.7,1248.9 1547.3,1249.4 1548,1249.4 1548.6,1250.5 1549.3,1250.8 1549.9,1252.1 1550.5,1252.4 1551.2,1252.9 1551.8,1253.7 1552.5,1253.3 1553.1,1254.2 1553.7,1253.2 1554.4,1254.1 1555,1254.9 1555.7,1255.5 1556.3,1254.3 1556.9,1254.9 1557.6,1255.2 1558.2,1255.1 1558.9,1254.5 1559.5,1254.7 1560.1,1255.2 1560.8,1256.1 1561.4,1255.8 1562.1,1257.6 1562.7,1257.9 1563.3,1256.3 1564,1256.9 1564.6,1258.1 1565.3,1258.2 1565.9,1258.4 1566.5,1257.4 1567.2,1258.3 1567.8,1259.4 1568.5,1259 1569.1,1259.3 1569.7,1260 1570.4,1260 1571,1259.6 1571.7,1259.5 1572.3,1260.1 1572.9,1259.1 1573.6,1259.3 1574.2,1260.7 1574.9,1259.8 1575.5,1261 1576.1,1260.5 1576.8,1261.2 1577.4,1260 1578.1,1261.2 1578.7,1260.8 1579.3,1260.6 1580,1260.5 1580.6,1261 1581.3,1261 1581.9,1260.6 1582.5,1261.8 1583.2,1261.7 1583.8,1261.8 1584.5,1260.6 1585.1,1260.1 1585.7,1260.6 1586.4,1262.1 1587,1261.8 1587.7,1260.4 1588.3,1262 1588.9,1261.2 1589.6,1260.8 1590.2,1261.1 1590.9,1261.7 1591.5,1261.5 1592.1,1261.4 1592.8,1261.1 1593.4,1260.9 1594.1,1261.4 1594.7,1260.7 1595.3,1261.6 1596,1260.7 1596.6,1261.9 1597.3,1260.3 1597.9,1262 1598.5,1260.9 1599.2,1260.9 1599.8,1261.7 1600.5,1261.8 1601.1,1261.4 1601.7,1261.2 1602.4,1262.4 1603,1261.5 1603.7,1260.6 1604.3,1261.2 1604.9,1262.1 1605.6,1261.3 1606.2,1261.3 1606.9,1261.9 1607.5,1260.5 1608.1,1260.8 1608.8,1260 1609.4,1260.4 1610.1,1260.8 1610.7,1259.8 1611.3,1260.3 1612,1260.1 1612.6,1260.6 1613.3,1259.5 1613.9,1259 1614.5,1259.5 1615.2,1258.7 1615.8,1259.2 1616.5,1259.3 1617.1,1258.3 1617.7,1258.4 1618.4,1257.9 1619,1256.5 1619.7,1257.2 1620.3,1256.5 1620.9,1257.4 1621.6,1256.6 1622.2,1256.8 1622.9,1256.8 1623.5,1256.7 1624.1,1255.8 1624.8,1255.5 1625.4,1255.8 1626.1,1256.4 1626.7,1255.4 1627.3,1256.1 1628,1255.9 1628.6,1255.9 1629.3,1255.6 1629.9,1256.2 1630.5,1256.6 1631.2,1256.7 1631.8,1257.9 1632.5,1256.9 1633.1,1257.2 1633.7,1257.4 1634.4,1258.2 1635,1257.6 1635.7,1258.9 1636.3,1258.1 1636.9,1259 1637.6,1259.1 1638.2,1258.6 1638.9,1259.2 1639.5,1259.3 1640.1,1259.3 1640.8,1259.3 1641.4,1260 1642.1,1260.8 1642.7,1259.7 1643.3,1260.2 1644,1258.9 1644.6,1259.8 1645.3,1258.8 1645.9,1259.2 1646.5,1259.6 1647.2,1259 1647.8,1259.7 1648.5,1260.1 1649.1,1259.9 1649.7,1259.4 1650.4,1258.9 1651,1259.3 1651.7,1260.1 1652.3,1259.7 1652.9,1259.4 1653.6,1259.8 1654.2,1259.9 1654.9,1259.8 1655.5,1258.9 1656.1,1258.4 1656.8,1257.9 1657.4,1258.3 1658.1,1258.4 1658.7,1258.8 1659.3,1258.4 1660,1257.8 1660.6,1258.2 1661.3,1257.1 1661.9,1256.9 1662.5,1256.9 1663.2,1256.7 1663.8,1256.8 1664.5,1256.1 1665.1,1255.8 1665.7,1256.7 1666.4,1254.6 1667,1254.3 1667.7,1254.4 1668.3,1254.6 1668.9,1254.4 1669.6,1253.5 1670.2,1253.4 1670.9,1253.5 1671.5,1254 1672.1,1252.9 1672.8,1251.8 1673.4,1253 1674.1,1252.6 1674.7,1253 1675.3,1253.6 1676,1253.1 1676.6,1254.1 1677.3,1252.6 1677.9,1253.3 1678.5,1253.3 1679.2,1253.7 1679.8,1253.1 1680.5,1254 1681.1,1254.2 1681.7,1254.5 1682.4,1254.3 1683,1254.6 1683.7,1256.2 1684.3,1256.2 1684.9,1256.3 1685.6,1256.9 1686.2,1257.3 1686.9,1256.5 1687.5,1257.7 1688.1,1258.4 1688.8,1258.1 1689.4,1258.2 1690.1,1258.5 1690.7,1257.5 1691.3,1258.2 1692,1259.4 1692.6,1260.2 1693.3,1260.1 1693.9,1259.7 1694.5,1259.9 1695.2,1260.5 1695.8,1261.2 1696.5,1260.8 1697.1,1260.2 1697.7,1261.1 1698.4,1261.2 1699,1262.2 1699.7,1261.3 1700.3,1261.1 1700.9,1261.1 1701.6,1260.5 1702.2,1260.9 1702.9,1261.1 1703.5,1261.1 1704.1,1261.4 1704.8,1261.4 1705.4,1261.7 1706.1,1261.7 1706.7,1260.8 1707.3,1260.4 1708,1259.8 1708.6,1260.7 1709.3,1261.3 1709.9,1260.8 1710.5,1261 1711.2,1260.9 1711.8,1261.8 1712.5,1261.7 1713.1,1261.7 1713.7,1260.2 1714.4,1262.4 1715,1260.8 1715.7,1260.8 1716.3,1261.5 1716.9,1261.1 1717.6,1262.4 1718.2,1260.9 1718.9,1260.6 1719.5,1261.3 1720.1,1261.1 1720.8,1259.9 1721.4,1260.2 1722.1,1260.3 1722.7,1260.2 1723.3,1261.2 1724,1260.7 1724.6,1260.8 1725.3,1260.7 1725.9,1259.9 1726.5,1260.2 1727.2,1259.8 1727.8,1259.7 1728.5,1260.8 1729.1,1258.9 1729.7,1259.8 1730.4,1259.1 1731,1258.2 1731.7,1258.4 1732.3,1258.1 1732.9,1258.1 1733.6,1257.2 1734.2,1257.8 1734.9,1257.5 1735.5,1257.4 1736.1,1256.1 1736.8,1256.7 1737.4,1256.3 1738.1,1256.8 1738.7,1255.8 1739.3,1255.8 1740,1255.2 1740.6,1254.9 1741.3,1255.1 1741.9,1255.9 1742.5,1255 1743.2,1254.9 1743.8,1256.6 1744.5,1256.6 1745.1,1257.1 1745.7,1257.2 1746.4,1257.1 1747,1257.1 1747.7,1257.1 1748.3,1257.5 1748.9,1257.3 1749.6,1258.2 1750.2,1258.9 1750.9,1257.9 1751.5,1258.2 1752.1,1258.3 1752.8,1258.9 1753.4,1258.8 1754.1,1259.2 1754.7,1258.7 1755.3,1258.6 1756,1258.9 1756.6,1258.2 1757.3,1259.2 1757.9,1259.1 1758.5,1260.3 1759.2,1260 1759.8,1258.8 1760.5,1259 1761.1,1259.9 1761.7,1258.4 1762.4,1259 1763,1259.5 1763.7,1259.7 1764.3,1259.4 1764.9,1260 1765.6,1259.2 1766.2,1259.3 1766.9,1259 1767.5,1258.3 1768.1,1258.8 1768.8,1258.1 1769.4,1258 1770.1,1256.5 1770.7,1257.6 1771.3,1257 1772,1256.6 1772.6,1256.6 1773.3,1256 1773.9,1256.2 1774.5,1255.9 1775.2,1255.2 1775.8,1254.7 1776.5,1254 1777.1,1253.2 1777.7,1252 1778.4,1252 1779,1252.6 1779.7,1251.8 1780.3,1250.8 1780.9,1250.6 1781.6,1250.5 1782.2,1249.5 1782.9,1249.6 1783.5,1247.7 1784.1,1248 1784.8,1247.4 1785.4,1246.8 1786.1,1246.2 1786.7,1245.7 1787.3,1243.8 1788,1244.6 1788.6,1244.6 1789.3,1243.5 1789.9,1243 1790.5,1241.2 1791.2,1241.3 1791.8,1240.6 1792.5,1239.3 1793.1,1239.3 1793.7,1238.5 1794.4,1237.7 1795,1237.8 1795.7,1237.6 1796.3,1236.6 1796.9,1236.7 1797.6,1236.1 1798.2,1235.4 1798.9,1234.4 1799.5,1235.2 1800.1,1234.6 1800.8,1234.2 1801.4,1234.1 1802.1,1233.9 1802.7,1233.1 1803.3,1232.9 1804,1233.4 1804.6,1233.1 1805.3,1233.5 1805.9,1233.5 1806.5,1234.4 1807.2,1235.6 1807.8,1235.6 1808.5,1236.2 1809.1,1236.6 1809.7,1237 1810.4,1237.1 1811,1238.8 1811.7,1237.6 1812.3,1237.1 1812.9,1238 1813.6,1237.6 1814.2,1236.8 1814.9,1235.8 1815.5,1235.3 1816.1,1236.1 1816.8,1234.4 1817.4,1233.1 1818.1,1233.5 1818.7,1231.2 1819.3,1230.1 1820,1229.3 1820.6,1228 1821.3,1227.4 1821.9,1224 1822.5,1223.1 1823.2,1220.1 1823.8,1219.3 1824.5,1216.6 1825.1,1214.6 1825.7,1212.5 1826.4,1211.5 1827,1209.9 1827.7,1207.4 1828.3,1205.8 1828.9,1204.3 1829.6,1203.9 1830.2,1202.3 1830.9,1204.3 1831.5,1202 1832.1,1202.9 1832.8,1202.3 1833.4,1202 1834.1,1202.8 1834.7,1204.6 1835.3,1206 1836,1207.7 1836.6,1208.9 1837.3,1212.7 1837.9,1214.6 1838.5,1214.4 1839.2,1217.8 1839.8,1220.7 1840.5,1222.5 1841.1,1224.4 1841.7,1227.3 1842.4,1229.2 1843,1230.3 1843.7,1233.4 1844.3,1234 1844.9,1236.9 1845.6,1236.7 1846.2,1237 1846.9,1239.5 1847.5,1241.1 1848.1,1241.7 1848.8,1242.6 1849.4,1243 1850.1,1245 1850.7,1244.3 1851.3,1246.3 1852,1246.1 1852.6,1246.7 1853.3,1247 1853.9,1247.7 1854.5,1249.5 1855.2,1248.7 1855.8,1250 1856.5,1249.9 1857.1,1251 1857.7,1250.2 1858.4,1251.1 1859,1251.8 1859.7,1252.8 1860.3,1251.4 1860.9,1251.9 1861.6,1252.5 1862.2,1253.5 1862.9,1252.5 1863.5,1253.7 1864.1,1253.2 1864.8,1253.2 1865.4,1253.3 1866.1,1254.3 1866.7,1255.2 1867.3,1255 1868,1254.3 1868.6,1255.2 1869.3,1256.2 1869.9,1256.2 1870.5,1256.1 1871.2,1256.7 1871.8,1255.4 1872.5,1255.7 1873.1,1257.7 1873.7,1257.2 1874.4,1256.8 1875,1256.6 1875.7,1255.8 1876.3,1257.5 1876.9,1256.3 1877.6,1256.1 1878.2,1257.4 1878.9,1258.3 1879.5,1257.3 1880.1,1257.9 1880.8,1257.3 1881.4,1258.1 1882.1,1256.7 1882.7,1258.8 1883.3,1257.4 1884,1258.1 1884.6,1256.6 1885.3,1258.5 1885.9,1257.9 1886.5,1258.4 1887.2,1256.7 1887.8,1257.4 1888.5,1256.7 1889.1,1256.7 1889.7,1257.3 1890.4,1256.1 1891,1257 1891.7,1257.6 1892.3,1257.4 1892.9,1256.9 1893.6,1256.3 1894.2,1255.5 1894.9,1256.8 1895.5,1255.3 1896.1,1256.2 1896.8,1254.9 1897.4,1254.9 1898.1,1254.4 1898.7,1254.2 1899.3,1253.8 1900,1253.7 1900.6,1253.2 1901.3,1253.3 1901.9,1253 1902.5,1252.8 1903.2,1251.4 1903.8,1251.5 1904.5,1250.7 1905.1,1250.6 1905.7,1249.9 1906.4,1248.7 1907,1249.2 1907.7,1247.9 1908.3,1248.2 1908.9,1246.5 1909.6,1247.2 1910.2,1246.8 1910.9,1245.4 1911.5,1246.1 1912.1,1245.5 1912.8,1246.2 1913.4,1246 1914.1,1245.1 1914.7,1245.6 1915.3,1244.8 1916,1245.5 1916.6,1245.9 1917.3,1246 1917.9,1245.9 1918.5,1246.3 1919.2,1246.8 1919.8,1246.7 1920.5,1247.7 1921.1,1248.9 1921.7,1249 1922.4,1249.9 1923,1249.5 1923.7,1250.4 1924.3,1251.4 1924.9,1252.8 1925.6,1252.8 1926.2,1253.4 1926.9,1253.3 1927.5,1254.6 1928.1,1253.5 1928.8,1255.3 1929.4,1254.8 1930.1,1257.1 1930.7,1257.2 1931.3,1258.1 1932,1258.4 1932.6,1258.3 1933.3,1258.2 1933.9,1259 1934.5,1260.2 1935.2,1260.1 1935.8,1259.6 1936.5,1259.8 1937.1,1260 1937.7,1260.4 1938.4,1260.5 1939,1260.6 1939.7,1260.8 1940.3,1260.3 1940.9,1261.9 1941.6,1261.1 1942.2,1261.7 1942.9,1261 1943.5,1261 1944.1,1261 1944.8,1261.2 1945.4,1261.2 1946.1,1261 1946.7,1262.2 1947.3,1261.7 1948,1260.8 1948.6,1261.4 1949.3,1260.7 1949.9,1261.8 1950.5,1260.4 1951.2,1261.2 1951.8,1260.8 1952.5,1260.9 1953.1,1260.3 1953.7,1260.9 1954.4,1260.8 1955,1260.9 1955.7,1261.4 1956.3,1262.3 1956.9,1261 1957.6,1261.5 1958.2,1261 1958.9,1260.7 1959.5,1261.5 1960.1,1261.5 1960.8,1261.8 1961.4,1261.4 1962.1,1261.4 1962.7,1260.9 1963.3,1261.7 1964,1262.3 1964.6,1260.3 1965.3,1261.5 1965.9,1261.9 1966.5,1261.5 1967.2,1261.4 1967.8,1260.9 1968.5,1261.6 1969.1,1261.5 1969.7,1260.9 1970.4,1261.7 1971,1260.5 1971.7,1259.6 1972.3,1261 1972.9,1261 1973.6,1260.6 1974.2,1260.7 1974.9,1260.7 1975.5,1260 1976.1,1261.4 1976.8,1260.8 1977.4,1262.4 1978.1,1261.3 1978.7,1261.5 1979.3,1260.8 1980,1262.2 1980.6,1261.5 1981.3,1262.2 1981.9,1262.3 1982.5,1262.2 1983.2,1261.2 1983.8,1260.9 1984.5,1261.5 1985.1,1261.6 1985.7,1261.5 1986.4,1260.8 1987,1260.7 1987.7,1261.8 1988.3,1260.3 1988.9,1260.7 1989.6,1260.6 1990.2,1259.9 1990.9,1260 1991.5,1260.6 1992.1,1260.6 1992.8,1260.9 1993.4,1260.1 1994.1,1259.9 1994.7,1260 1995.3,1259.6 1996,1258.6 1996.6,1259.1 1997.3,1260 1997.9,1258.5 1998.5,1259 1999.2,1258.6 1999.8,1258.9 2000.5,1257.9 2001.1,1257.9 2001.7,1258.9 2002.4,1258.5 2003,1258.8 2003.7,1258.7 2004.3,1260 2004.9,1259.5 2005.6,1259.4 2006.2,1259.1 2006.9,1258.9 2007.5,1259.5 2008.1,1259.9 2008.8,1260 2009.4,1260.2 2010.1,1259.8 2010.7,1259.9 2011.3,1261.1 2012,1261 2012.6,1261.5 2013.3,1260.9 2013.9,1261.3 2014.5,1261.9 2015.2,1262.2 2015.8,1261.5 2016.5,1262.2 2017.1,1261.6 2017.7,1262.8 2018.4,1262.4 2019,1263.5 2019.7,1263.1 2020.3,1262.1 2020.9,1262.6 2021.6,1262.6 2022.2,1263.4 2022.9,1263.9 2023.5,1263.6 2024.1,1263.7 2024.8,1263.3 2025.4,1264.1 2026.1,1264 2026.7,1264.2 2027.3,1264.6 2028,1264.1 2028.6,1264.5 2029.3,1264 2029.9,1264.3 2030.5,1263.8 2031.2,1263.3 2031.8,1263.5 2032.5,1262.9 2033.1,1263.2 2033.7,1263.5 2034.4,1263.6 2035,1263.6 2035.7,1263.5 2036.3,1263.5 2036.9,1262.4 2037.6,1263.5 2038.2,1264.1 2038.9,1264.4 2039.5,1264.4 2040.1,1263.9 2040.8,1264.2 2041.4,1264.1 2042.1,1263.9 2042.7,1264.1 2043.3,1264.5 2044,1262.9 2044.6,1263.5 2045.3,1263.7 2045.9,1263.1 2046.5,1263.8 2047.2,1263.1 2047.8,1263.7 2048.5,1263.1 2049.1,1264.1 2049.7,1263.7 2050.4,1264.4 2051,1264.3 2051.7,1264 2052.3,1264.4 2052.9,1264.8 2053.6,1264.5 2054.2,1264.1 2054.9,1263.8 2055.5,1263.8 2056.1,1264.2 2056.8,1263.6 2057.4,1264.1 2058.1,1263.5 2058.7,1265 2059.3,1264.8 2060,1264.4 2060.6,1264.5 2061.3,1263.9 2061.9,1265 2062.5,1264.4 2063.2,1263.7 2063.8,1264.4 2064.5,1264.9 2065.1,1264.6 2065.7,1264.1 2066.4,1264.1 2067,1265.2 2067.7,1264.7 2068.3,1264.7 2068.9,1265.4 2069.6,1263.5 2070.2,1264.1 2070.9,1264.3 2071.5,1263.8 2072.1,1264.7 2072.8,1263.9 2073.4,1265 2074.1,1264.4 2074.7,1264 2075.3,1263.8 2076,1264.2 2076.6,1264.1 2077.3,1264.3 2077.9,1264.1 2078.5,1264.5 2079.2,1264.2 2079.8,1264.6 2080.5,1263.7 2081.1,1264.8 2081.7,1264.9 2082.4,1264 2083,1263.8 2083.7,1264.1 2084.3,1264.5 2084.9,1263.3 2085.6,1264.3 2086.2,1264.6 2086.9,1264.1 2087.5,1264.5 2088.1,1264.3 2088.8,1263.9 2089.4,1264.5 2090.1,1264.5 2090.7,1263.7 2091.3,1264.6 2092,1264.9 2092.6,1264 2093.3,1265.2 2093.9,1264.7 2094.5,1264.2 2095.2,1264.5 2095.8,1264.5 2096.5,1265.2 2097.1,1264.5 2097.7,1264.4 2098.4,1263.9 2099,1264.5 2099.7,1263.8 2100.3,1264.1 2100.9,1264.8 2101.6,1264.8 2102.2,1264.2 2102.9,1264.4 2103.5,1265 2104.1,1264.5 2104.8,1265.1 2105.4,1265 2106.1,1264.4 2106.7,1263.8 2107.3,1264 2108,1265 2108.6,1264.6 2109.3,1264.7 2109.9,1264.5 2110.5,1263.7 2111.2,1264.1 2111.8,1264.4 2112.5,1264.4 2113.1,1264.9 2113.7,1264.3 2114.4,1264.1 2115,1265.8 2115.7,1265.2 2116.3,1265 2116.9,1265.2 2117.6,1265.1 2118.2,1265.5 2118.9,1262.9 2119.5,1264.3 2120.1,1264.9 2120.8,1263 2121.4,1263.2 2122.1,1263.9 2122.7,1265 2123.3,1264.7 2124,1264.9 2124.6,1264.4 2125.3,1265 2125.9,1265.5 2126.5,1264.8 2127.2,1264.3 2127.8,1264.4 2128.5,1262.3 2129.1,1264.1 2129.7,1263 2130.4,1263.5 2131,1264.3 2131.7,1264.1 2132.3,1263.1 2132.9,1264.7 2133.6,1264.6 2134.2,1264.5 2134.9,1264.8 2135.5,1264.6 2136.1,1263.5 2136.8,1264.1 2137.4,1264.4 2138.1,1263.7 2138.7,1264 2139.3,1263.7 2140,1263.8 2140.6,1263.5 2141.3,1264.1 2141.9,1264.5 2142.5,1263.5 2143.2,1264.1 2143.8,1264.1 2144.5,1264.2 2145.1,1264.2 2145.7,1263.4 2146.4,1264.8 2147,1264.7 2147.7,1264.5 2148.3,1264.9 2148.9,1264.8 2149.6,1265.2 2150.2,1264.8"/>
<polyline stroke="#0068E0" stroke-width="12.0" points="215.5,988 216.1,981.6 216.8,985.7 217.4,984.9 218.1,985 218.7,986.3 219.3,984.2 220,987.4 220.6,986.5 221.3,992.6 221.9,988.6 222.5,986.6 223.2,986.3 223.8,985.9 224.5,984.9 225.1,985.2 225.7,986.8 226.4,986.2 227,987.5 227.7,986.5 228.3,986.9 228.9,988.4 229.6,987.8 230.2,986.6 230.9,986.9 231.5,987.7 232.1,990 232.8,986.8 233.4,987.1 234.1,988.8 234.7,985.9 235.3,986.3 236,988.5 236.6,988.7 237.3,988.5 237.9,990.2 238.5,984.7 239.2,991 239.8,987.5 240.5,986.6 241.1,988.6 241.7,988 242.4,986.1 243,984.6 243.7,987.1 244.3,987.3 244.9,990.2 245.6,989.2 246.2,989 246.9,991.1 247.5,989.3 248.1,987.9 248.8,989.5 249.4,989 250.1,988.1 250.7,987.8 251.3,989.3 252,984.7 252.6,989.2 253.3,988.5 253.9,985.4 254.5,987.9 255.2,985.6 255.8,988.1 256.5,984.2 257.1,987.3 257.7,989.6 258.4,991.2 259,986 259.7,988.2 260.3,990 260.9,989.3 261.6,992.1 262.2,986.8 262.9,989.5 263.5,987.2 264.1,990.4 264.8,989.2 265.4,988.3 266.1,985.8 266.7,990.9 267.3,989.9 268,989.9 268.6,990.2 269.3,990.1 269.9,988 270.5,987.7 271.2,987.1 271.8,990.6 272.5,985.8 273.1,987.1 273.7,987.7 274.4,988 275,989.2 275.7,986.9 276.3,986.9 276.9,989.6 277.6,991.9 278.2,990.8 278.9,989.7 279.5,989.4 280.1,989.9 280.8,988.9 281.4,990.5 282.1,987.5 282.7,988.7 283.3,988.1 284,989.4 284.6,989 285.3,992.5 285.9,990.6 286.5,990.6 287.2,985.9 287.8,988.7 288.5,989 289.1,990.7 289.7,986 290.4,991.2 291,991.5 291.7,987.8 292.3,987.9 292.9,987.3 293.6,987.7 294.2,988.4 294.9,991.2 295.5,987.8 296.1,989.3 296.8,988.2 297.4,991.6 298.1,990.7 298.7,992.2 299.3,988.7 300,990 300.6,989.4 301.3,992.9 301.9,992.1 302.5,989.8 303.2,989.8 303.8,991.6 304.5,990 305.1,989.5 305.7,991.1 306.4,993.6 307,989.1 307.7,989.4 308.3,988.4 308.9,987.6 309.6,990 310.2,990.1 310.9,989.8 311.5,990.3 312.1,989.9 312.8,989.3 313.4,986.7 314.1,988.1 314.7,989.3 315.3,988.8 316,988.2 316.6,988 317.3,988.6 317.9,990.8 318.5,988.6 319.2,989.3 319.8,990.3 320.5,988.9 321.1,990.2 321.7,984 322.4,988 323,985.6 323.7,987.2 324.3,987.6 324.9,988.5 325.6,989.1 326.2,988 326.9,990.1 327.5,987.8 328.1,988.3 328.8,989.2 329.4,987.5 330.1,991.4 330.7,989.1 331.3,991.1 332,988.2 332.6,988.1 333.3,988.3 333.9,989 334.5,987.1 335.2,988.3 335.8,988 336.5,990.4 337.1,986.7 337.7,988.6 338.4,986.7 339,985.9 339.7,986.5 340.3,985.1 340.9,987.9 341.6,989.5 342.2,988.1 342.9,989.1 343.5,990.4 344.1,989 344.8,989 345.4,989.2 346.1,986.6 346.7,990 347.3,986.3 348,989.4 348.6,988.1 349.3,989 349.9,987.5 350.5,986.5 351.2,987.8 351.8,986.3 352.5,987 353.1,986.6 353.7,986.4 354.4,986.9 355,985.9 355.7,987 356.3,985 356.9,987.9 357.6,986.6 358.2,990.4 358.9,991.1 359.5,986.6 360.1,988.6 360.8,987.9 361.4,986.6 362.1,989.5 362.7,988.2 363.3,986.3 364,988.3 364.6,988 365.3,989.3 365.9,986.8 366.5,988.7 367.2,987.6 367.8,984.3 368.5,985.4 369.1,986 369.7,985.2 370.4,988.1 371,986.5 371.7,984.5 372.3,985.4 372.9,986.4 373.6,989.9 374.2,986.8 374.9,987.7 375.5,988.4 376.1,987.6 376.8,991.9 377.4,987.7 378.1,989.6 378.7,988.1 379.3,988.3 380,985 380.6,988.8 381.3,985.3 381.9,984.5 382.5,982.5 383.2,982.5 383.8,984.9 384.5,985.3 385.1,985.3 385.7,986.9 386.4,986.4 387,985.5 387.7,986.3 388.3,985.7 388.9,984.2 389.6,984.7 390.2,984.7 390.9,981.9 391.5,980.4 392.1,982.9 392.8,985.8 393.4,982.5 394.1,982.7 394.7,982.7 395.3,984.7 396,980.6 396.6,984 397.3,984.4 397.9,980.9 398.5,984.5 399.2,983.6 399.8,982.1 400.5,984 401.1,981.3 401.7,982.7 402.4,986.6 403,981.7 403.7,985.6 404.3,982.2 404.9,983.8 405.6,982.1 406.2,978.4 406.9,980.3 407.5,981.1 408.1,979.6 408.8,979.2 409.4,982.1 410.1,980.9 410.7,979.4 411.3,981.4 412,983.8 412.6,982.6 413.3,984.3 413.9,985.5 414.5,983 415.2,981.1 415.8,980.5 416.5,981.8 417.1,983.3 417.7,981.6 418.4,982.7 419,980.7 419.7,981.8 420.3,980.6 420.9,980.7 421.6,979.3 422.2,978.9 422.9,979.9 423.5,978.4 424.1,978.9 424.8,980.9 425.4,979.7 426.1,984.3 426.7,981.1 427.3,979.1 428,981.5 428.6,981.7 429.3,979.5 429.9,982.1 430.5,978.7 431.2,975.2 431.8,981.6 432.5,979.1 433.1,982.2 433.7,978.8 434.4,978.6 435,982.8 435.7,979 436.3,980.2 436.9,981.6 437.6,980 438.2,979.4 438.9,978.4 439.5,979.1 440.1,975.8 440.8,978.4 441.4,978.2 442.1,980.5 442.7,975.7 443.3,975.6 444,978.6 444.6,976.1 445.3,977.3 445.9,976.5 446.5,977.8 447.2,975.1 447.8,975.6 448.5,971.7 449.1,974.3 449.7,977.7 450.4,975 451,975 451.7,974.6 452.3,977.1 452.9,976.2 453.6,973.7 454.2,976.1 454.9,976.7 455.5,977.7 456.1,975.2 456.8,978.7 457.4,977.2 458.1,975.7 458.7,974.7 459.3,975.1 460,976.9 460.6,974.4 461.3,976.4 461.9,975.5 462.5,976.2 463.2,976.2 463.8,975 464.5,972.1 465.1,974.5 465.7,975.6 466.4,974.4 467,974.9 467.7,973.4 468.3,973.7 468.9,972.8 469.6,976.5 470.2,974.8 470.9,973.5 471.5,972.2 472.1,974.1 472.8,976.1 473.4,974.5 474.1,973.3 474.7,975.8 475.3,975.5 476,974.8 476.6,974.6 477.3,975.7 477.9,974.8 478.5,974.9 479.2,972.1 479.8,975.8 480.5,974.4 481.1,976.7 481.7,969.6 482.4,973 483,973 483.7,971.4 484.3,972.3 484.9,972.3 485.6,971.6 486.2,970.2 486.9,971.3 487.5,973 488.1,974.2 488.8,971.6 489.4,972.4 490.1,972.7 490.7,973 491.3,970 492,969 492.6,971.2 493.3,969.7 493.9,970.9 494.5,970.8 495.2,970.9 495.8,969.3 496.5,972.2 497.1,968.6 497.7,972.3 498.4,968.3 499,968.3 499.7,971.4 500.3,970.6 500.9,969.4 501.6,968.9 502.2,970.8 502.9,969.8 503.5,969.2 504.1,970.5 504.8,967.4 505.4,967.2 506.1,967.4 506.7,970.7 507.3,970.3 508,970.4 508.6,968.9 509.3,969.1 509.9,971.2 510.5,969.1 511.2,971.2 511.8,970.7 512.5,968.2 513.1,969.3 513.7,969 514.4,971.2 515,972.2 515.7,968.7 516.3,969.2 516.9,964.8 517.6,968.6 518.2,967.6 518.9,965.9 519.5,968.7 520.1,965 520.8,966.1 521.4,966 522.1,964.4 522.7,967 523.3,966.9 524,962.9 524.6,962.5 525.3,965.7 525.9,964.5 526.5,962.7 527.2,963.9 527.8,964.8 528.5,965.1 529.1,967.2 529.7,966.8 530.4,968.7 531,968.7 531.7,967 532.3,967.7 532.9,968.2 533.6,967.2 534.2,963.8 534.9,967.5 535.5,966.2 536.1,968.6 536.8,965.9 537.4,966.4 538.1,965.3 538.7,967.3 539.3,965.5 540,964 540.6,964.6 541.3,962 541.9,963.9 542.5,964 543.2,964.5 543.8,966.6 544.5,962.7 545.1,963.7 545.7,963.6 546.4,966.5 547,963.1 547.7,962.8 548.3,963.8 548.9,965.2 549.6,963.9 550.2,962.8 550.9,961.7 551.5,962.5 552.1,963.7 552.8,961.7 553.4,961.3 554.1,961.3 554.7,959.5 555.3,960.1 556,960 556.6,960.6 557.3,959.7 557.9,958.9 558.5,963.2 559.2,963.4 559.8,959.8 560.5,961.3 561.1,961 561.7,962.4 562.4,959.3 563,963.4 563.7,959.5 564.3,962.2 564.9,960 565.6,959.1 566.2,959.6 566.9,960.6 567.5,957.7 568.1,958.6 568.8,957.7 569.4,955.9 570.1,961.1 570.7,959.5 571.3,958.8 572,960.2 572.6,957.4 573.3,958.5 573.9,962 574.5,960.7 575.2,955.7 575.8,953.9 576.5,956.5 577.1,959.6 577.7,956.7 578.4,957.1 579,957.2 579.7,954.9 580.3,956.4 580.9,957.6 581.6,957.7 582.2,958.3 582.9,956.5 583.5,957.6 584.1,956.4 584.8,959.3 585.4,960.9 586.1,955.1 586.7,952.4 587.3,953.8 588,955.5 588.6,956 589.3,955.8 589.9,952.9 590.5,952.9 591.2,955.6 591.8,952 592.5,955.6 593.1,953.2 593.7,955.7 594.4,955.5 595,954.7 595.7,953.9 596.3,951.9 596.9,953.7 597.6,952.9 598.2,952.7 598.9,953.2 599.5,950.6 600.1,950.6 600.8,950.7 601.4,951.2 602.1,953 602.7,950.4 603.3,953.6 604,952.9 604.6,952 605.3,950 605.9,952.8 606.5,952.8 607.2,948.4 607.8,952.8 608.5,953.7 609.1,950.9 609.7,951.1 610.4,952.9 611,951.1 611.7,948.3 612.3,949.3 612.9,950 613.6,948.9 614.2,945.6 614.9,949.7 615.5,949.3 616.1,949.2 616.8,947.9 617.4,949.4 618.1,947.3 618.7,947.6 619.3,949.7 620,951.4 620.6,948.5 621.3,951.6 621.9,950.4 622.5,950 623.2,952.2 623.8,948 624.5,950.9 625.1,948.8 625.7,948.9 626.4,946.6 627,947.6 627.7,949.7 628.3,949 628.9,949 629.6,947.6 630.2,949.2 630.9,947.2 631.5,947.9 632.1,948.5 632.8,947.6 633.4,947.5 634.1,948.4 634.7,948.4 635.3,947.4 636,950.3 636.6,948.4 637.3,948.6 637.9,946.4 638.5,945.4 639.2,943.3 639.8,944.7 640.5,942.5 641.1,944.1 641.7,946.2 642.4,948.1 643,946.7 643.7,944.5 644.3,947 644.9,944.7 645.6,946.6 646.2,945.1 646.9,947.2 647.5,949.4 648.1,947.2 648.8,948.4 649.4,944.3 650.1,943.8 650.7,945.7 651.3,946.2 652,942 652.6,942.6 653.3,940.5 653.9,942.6 654.5,944.7 655.2,942.9 655.8,942.7 656.5,941.5 657.1,944.4 657.7,945 658.4,943.7 659,942.3 659.7,939.7 660.3,944.3 660.9,940.5 661.6,940.2 662.2,940.6 662.9,935.4 663.5,938.6 664.1,938.1 664.8,937.8 665.4,938.4 666.1,936.7 666.7,932.4 667.3,934.5 668,934.3 668.6,933.7 669.3,932.1 669.9,931.3 670.5,934.7 671.2,934.4 671.8,933.2 672.5,931.2 673.1,937.9 673.7,931.3 674.4,934.9 675,940.2 675.7,937.6 676.3,939 676.9,938.2 677.6,941.9 678.2,937.7 678.9,940.7 679.5,940.9 680.1,939.1 680.8,941.8 681.4,938.4 682.1,939.3 682.7,940.6 683.3,940.7 684,942.1 684.6,942.8 685.3,941.2 685.9,940.7 686.5,940.6 687.2,941.1 687.8,943.1 688.5,941.6 689.1,942.6 689.7,942.7 690.4,941.8 691,944.6 691.7,942.4 692.3,944 692.9,946.1 693.6,942.3 694.2,943.6 694.9,940.3 695.5,941.6 696.1,940.2 696.8,941.6 697.4,941.3 698.1,941.8 698.7,943.2 699.3,941.5 700,942.9 700.6,942.1 701.3,941.9 701.9,941.7 702.5,940.7 703.2,943.9 703.8,947.1 704.5,945.2 705.1,943.6 705.7,946.9 706.4,944 707,943.1 707.7,941.8 708.3,942.4 708.9,943.6 709.6,946.7 710.2,943 710.9,941.3 711.5,942 712.1,942.5 712.8,940.8 713.4,943.1 714.1,943.9 714.7,943.5 715.3,943.9 716,941.7 716.6,940.6 717.3,945 717.9,944.7 718.5,941 719.2,943.8 719.8,944.6 720.5,945.3 721.1,944.5 721.7,943.1 722.4,943.9 723,943.8 723.7,943.6 724.3,940.5 724.9,938.1 725.6,941.3 726.2,939.6 726.9,943.3 727.5,944.5 728.1,944 728.8,942.9 729.4,943.7 730.1,945 730.7,942.4 731.3,945.4 732,944.9 732.6,944.6 733.3,946.2 733.9,941.9 734.5,944.1 735.2,941.4 735.8,942 736.5,941.6 737.1,943.5 737.7,940.6 738.4,941.7 739,940.7 739.7,944.5 740.3,945.9 740.9,943.2 741.6,945.6 742.2,944.9 742.9,947.5 743.5,944.5 744.1,942.1 744.8,945.8 745.4,942.9 746.1,941.2 746.7,941.5 747.3,939.5 748,942 748.6,940.4 749.3,944.6 749.9,943.5 750.5,940.1 751.2,941.1 751.8,942.8 752.5,940.9 753.1,944.1 753.7,944.8 754.4,943.2 755,943.8 755.7,945.2 756.3,946.2 756.9,945.6 757.6,942.8 758.2,942.9 758.9,939.6 759.5,942.2 760.1,940.6 760.8,942.6 761.4,939.7 762.1,940.2 762.7,941.1 763.3,942.2 764,939.9 764.6,940.5 765.3,941.6 765.9,942.2 766.5,940.4 767.2,942.2 767.8,942.6 768.5,945.3 769.1,944 769.7,941.3 770.4,939.2 771,942.4 771.7,944.6 772.3,943 772.9,944.1 773.6,942 774.2,940.4 774.9,942.8 775.5,942.2 776.1,943.2 776.8,939.2 777.4,941 778.1,939.3 778.7,941.2 779.3,939.2 780,938.4 780.6,937.6 781.3,940 781.9,937.4 782.5,934.3 783.2,932.6 783.8,931.1 784.5,932.9 785.1,926.7 785.7,926.6 786.4,927.6 787,927.3 787.7,925 788.3,925.6 788.9,924.8 789.6,924.1 790.2,921.7 790.9,923.2 791.5,920.3 792.1,921.4 792.8,917.2 793.4,919.3 794.1,914.9 794.7,913.5 795.3,915.6 796,913.5 796.6,913.3 797.3,909 797.9,910.5 798.5,906.1 799.2,902 799.8,901.5 800.5,899.9 801.1,894.1 801.7,894 802.4,894.9 803,892.5 803.7,890 804.3,888.8 804.9,890.9 805.6,888.3 806.2,887.5 806.9,893.3 807.5,895 808.1,901.1 808.8,901.6 809.4,902.9 810.1,906.1 810.7,912.3 811.3,913.6 812,916.9 812.6,920.8 813.3,924.1 813.9,926.4 814.5,929.2 815.2,933.3 815.8,936.1 816.5,932.2 817.1,940.2 817.7,937.2 818.4,939.2 819,936.8 819.7,938 820.3,937.5 820.9,937 821.6,938.8 822.2,937.5 822.9,935.1 823.5,936.7 824.1,938.4 824.8,938.7 825.4,937.5 826.1,938.1 826.7,937.3 827.3,936 828,934.9 828.6,938.8 829.3,935.1 829.9,935.5 830.5,933.9 831.2,936 831.8,936.5 832.5,933.3 833.1,934.3 833.7,931.9 834.4,934.7 835,933 835.7,929.9 836.3,932.3 836.9,930.6 837.6,929.4 838.2,928.7 838.9,926.9 839.5,926.6 840.1,927.9 840.8,925.8 841.4,924.2 842.1,927.8 842.7,923.9 843.3,922.7 844,921.7 844.6,922.9 845.3,922 845.9,919.4 846.5,918.6 847.2,914 847.8,914.3 848.5,911.8 849.1,910.2 849.7,908.7 850.4,902 851,907.3 851.7,897.2 852.3,895.3 852.9,892.9 853.6,889.2 854.2,882.9 854.9,873.7 855.5,872.2 856.1,869.2 856.8,861.2 857.4,854 858.1,844.3 858.7,842.2 859.3,834.4 860,823.8 860.6,814.8 861.3,805.8 861.9,795.8 862.5,789.3 863.2,781.6 863.8,773.6 864.5,767 865.1,758.8 865.7,753.2 866.4,751.3 867,747.7 867.7,746 868.3,751.3 868.9,752.5 869.6,758.2 870.2,765.1 870.9,769.7 871.5,779.5 872.1,787.8 872.8,795.3 873.4,804.3 874.1,811.1 874.7,816.8 875.3,827.3 876,833.4 876.6,843.8 877.3,850.5 877.9,856.3 878.5,864 879.2,871.8 879.8,877 880.5,881.2 881.1,887.2 881.7,890.4 882.4,894.1 883,898.5 883.7,900.7 884.3,904.7 884.9,906.1 885.6,907.8 886.2,910.5 886.9,914.7 887.5,918.5 888.1,919.6 888.8,917.8 889.4,917.7 890.1,922.2 890.7,922.1 891.3,919.6 892,923.5 892.6,922.9 893.3,925.2 893.9,923.6 894.5,924.5 895.2,922.8 895.8,920.7 896.5,921.4 897.1,920 897.7,921.4 898.4,917.8 899,915.9 899.7,918.2 900.3,918.3 900.9,919 901.6,918.2 902.2,914 902.9,915.6 903.5,916.4 904.1,918.1 904.8,916.1 905.4,919.8 906.1,921.1 906.7,919.9 907.3,923 908,925.7 908.6,924.9 909.3,927.2 909.9,929.2 910.5,931.1 911.2,931.9 911.8,932.5 912.5,937.3 913.1,936.4 913.7,938.5 914.4,943.5 915,942.4 915.7,945.4 916.3,948 916.9,947.5 917.6,947.8 918.2,949.6 918.9,950.2 919.5,946.3 920.1,947.1 920.8,951 921.4,949.8 922.1,947.4 922.7,949.1 923.3,951.9 924,951 924.6,954 925.3,953.2 925.9,954.7 926.5,952.3 927.2,955.2 927.8,957.8 928.5,954.1 929.1,956.9 929.7,956.5 930.4,956.6 931,955 931.7,954.3 932.3,954.6 932.9,956.8 933.6,957.8 934.2,958.4 934.9,957.7 935.5,957.8 936.1,956.2 936.8,954.9 937.4,958 938.1,958.6 938.7,958 939.3,956.2 940,958.8 940.6,957.3 941.3,959.7 941.9,957.8 942.5,958.6 943.2,959.8 943.8,959.7 944.5,960.6 945.1,956.7 945.7,955.3 946.4,960.1 947,960.5 947.7,960.5 948.3,957.8 948.9,958 949.6,957.6 950.2,955.1 950.9,955.9 951.5,957.7 952.1,955.9 952.8,959.8 953.4,955.3 954.1,957.1 954.7,959.8 955.3,957.2 956,955.8 956.6,955.1 957.3,957 957.9,959.9 958.5,957.9 959.2,957.5 959.8,956.1 960.5,957.6 961.1,957.8 961.7,956.6 962.4,957 963,958.2 963.7,960.5 964.3,958.6 964.9,959.5 965.6,962.4 966.2,957.2 966.9,956.4 967.5,959.8 968.1,959 968.8,957.4 969.4,958.2 970.1,956.8 970.7,957.7 971.3,957 972,958.4 972.6,955.5 973.3,956.5 973.9,958.5 974.5,958 975.2,960 975.8,959.5 976.5,958.4 977.1,960 977.7,958.5 978.4,957.2 979,957.1 979.7,957.3 980.3,957.6 980.9,958.5 981.6,960.2 982.2,959.1 982.9,961.6 983.5,960.4 984.1,957.8 984.8,960 985.4,958.6 986.1,955 986.7,955.5 987.3,955.9 988,953.7 988.6,953.7 989.3,952.7 989.9,953.5 990.5,951.9 991.2,953.1 991.8,951.8 992.5,953.4 993.1,949.2 993.7,951.9 994.4,952.6 995,950.4 995.7,948.9 996.3,948.8 996.9,945.7 997.6,945.4 998.2,945.6 998.9,945.6 999.5,946.6 1000.1,943.6 1000.8,946.3 1001.4,942 1002.1,942.1 1002.7,942.8 1003.3,944.6 1004,942.2 1004.6,939.9 1005.3,944.1 1005.9,943 1006.5,942.4 1007.2,943.5 1007.8,944.9 1008.5,946.4 1009.1,947.4 1009.7,945.5 1010.4,951.1 1011,948.4 1011.7,948.2 1012.3,950.3 1012.9,950.1 1013.6,954.3 1014.2,953.1 1014.9,950.9 1015.5,951.8 1016.1,952.3 1016.8,953.2 1017.4,955.3 1018.1,953.1 1018.7,956.7 1019.3,953.9 1020,953.8 1020.6,954.4 1021.3,949.4 1021.9,950 1022.5,951.6 1023.2,950.4 1023.8,948.9 1024.5,949.1 1025.1,946.8 1025.7,947.2 1026.4,944.3 1027,943.2 1027.7,947.7 1028.3,943.5 1028.9,943.6 1029.6,945.9 1030.2,945.5 1030.9,943.2 1031.5,944.4 1032.1,945.4 1032.8,944.9 1033.4,948 1034.1,948.1 1034.7,949.7 1035.3,951.8 1036,954 1036.6,956.9 1037.3,958.2 1037.9,954.7 1038.5,960 1039.2,958.2 1039.8,958.9 1040.5,963.6 1041.1,961.9 1041.7,963.4 1042.4,965.9 1043,963.4 1043.7,964 1044.3,966.6 1044.9,968.6 1045.6,968.2 1046.2,964.8 1046.9,966.3 1047.5,967.4 1048.1,971.6 1048.8,970.2 1049.4,970.3 1050.1,971.3 1050.7,969 1051.3,970.4 1052,970.7 1052.6,968 1053.3,968.4 1053.9,969.1 1054.5,966.8 1055.2,968.9 1055.8,969.5 1056.5,970.3 1057.1,968 1057.7,970.4 1058.4,974.3 1059,973.8 1059.7,972.6 1060.3,974.8 1060.9,976.2 1061.6,974.5 1062.2,975 1062.9,978.4 1063.5,974.7 1064.1,975.7 1064.8,974.3 1065.4,975 1066.1,978.2 1066.7,976.3 1067.3,975.5 1068,976.2 1068.6,977 1069.3,977.3 1069.9,975.1 1070.5,977.8 1071.2,976.9 1071.8,977.8 1072.5,978.3 1073.1,978.7 1073.7,978 1074.4,979.5 1075,980 1075.7,976.9 1076.3,978.6 1076.9,979.1 1077.6,978.7 1078.2,977.1 1078.9,976.3 1079.5,976.4 1080.1,975.4 1080.8,977 1081.4,977.9 1082.1,977.9 1082.7,977.4 1083.3,977.4 1084,974.7 1084.6,978 1085.3,976.4 1085.9,977 1086.5,974.3 1087.2,975.1 1087.8,975 1088.5,976.9 1089.1,973.2 1089.7,976.5 1090.4,973.7 1091,973.8 1091.7,975.8 1092.3,974.8 1092.9,974.9 1093.6,973.7 1094.2,975.5 1094.9,975.7 1095.5,975.9 1096.1,974 1096.8,974.7 1097.4,976.7 1098.1,978.1 1098.7,976.4 1099.3,977.8 1100,975.5 1100.6,974.3 1101.3,976.9 1101.9,974.3 1102.5,976 1103.2,977.1 1103.8,974.6 1104.5,976 1105.1,980.4 1105.7,977.5 1106.4,977.4 1107,978.8 1107.7,977.9 1108.3,978.3 1108.9,979 1109.6,974.7 1110.2,980 1110.9,976.2 1111.5,976.4 1112.1,978.7 1112.8,978.5 1113.4,976.7 1114.1,979 1114.7,976.2 1115.3,977.5 1116,975.7 1116.6,976.8 1117.3,978.5 1117.9,977.7 1118.5,977.4 1119.2,978.3 1119.8,977.8 1120.5,977.3 1121.1,978 1121.7,980.6 1122.4,978 1123,978.6 1123.7,978.7 1124.3,979 1124.9,978.4 1125.6,977.3 1126.2,977.1 1126.9,976.4 1127.5,977.5 1128.1,979.5 1128.8,979.9 1129.4,981.1 1130.1,980.3 1130.7,979.1 1131.3,981.6 1132,981.3 1132.6,978.1 1133.3,981 1133.9,980.5 1134.5,981 1135.2,976.5 1135.8,975.6 1136.5,978.6 1137.1,975.2 1137.7,976.7 1138.4,976 1139,976.2 1139.7,975.1 1140.3,977.7 1140.9,980 1141.6,979.3 1142.2,979.1 1142.9,977.5 1143.5,981.6 1144.1,980.2 1144.8,981.2 1145.4,977.2 1146.1,980.4 1146.7,978 1147.3,980.2 1148,979.7 1148.6,976.9 1149.3,978.5 1149.9,979.4 1150.5,978.3 1151.2,977.9 1151.8,976 1152.5,976.5 1153.1,976.7 1153.7,979.3 1154.4,981 1155,980 1155.7,980.2 1156.3,978.3 1156.9,981 1157.6,980.1 1158.2,976.7 1158.9,976.6 1159.5,979.4 1160.1,979 1160.8,982.5 1161.4,980.3 1162.1,978.5 1162.7,978.7 1163.3,982.3 1164,978.1 1164.6,979.9 1165.3,978.9 1165.9,980.8 1166.5,979.1 1167.2,977.6 1167.8,978.7 1168.5,977.8 1169.1,979.3 1169.7,978.1 1170.4,981.8 1171,978.7 1171.7,980 1172.3,978.2 1172.9,979.7 1173.6,979.2 1174.2,979.1 1174.9,980.1 1175.5,978 1176.1,977.5 1176.8,980.3 1177.4,978.6 1178.1,978.3 1178.7,981.4 1179.3,981.1 1180,976 1180.6,979 1181.3,980.1 1181.9,980 1182.5,977.4 1183.2,981.2 1183.8,978.2 1184.5,978.8 1185.1,979 1185.7,978.9 1186.4,980 1187,980.9 1187.7,979.6 1188.3,980.9 1188.9,977.7 1189.6,979.1 1190.2,982.3 1190.9,980.2 1191.5,981.6 1192.1,978.7 1192.8,978.6 1193.4,978.5 1194.1,978.8 1194.7,978.4 1195.3,978.4 1196,978.9 1196.6,980.6 1197.3,979.1 1197.9,980.2 1198.5,980.9 1199.2,977.8 1199.8,975.8 1200.5,981.3 1201.1,981.2 1201.7,979.1 1202.4,979.4 1203,977.4 1203.7,977.2 1204.3,979.3 1204.9,976.6 1205.6,979.1 1206.2,976.4 1206.9,977.6 1207.5,980.7 1208.1,980.3 1208.8,976.4 1209.4,979.1 1210.1,976.7 1210.7,977.7 1211.3,979.2 1212,980.1 1212.6,976.8 1213.3,979.4 1213.9,979.5 1214.5,976.6 1215.2,978.1 1215.8,980.6 1216.5,978.5 1217.1,979.9 1217.7,980.6 1218.4,978.3 1219,981 1219.7,981.9 1220.3,982.1 1220.9,982.3 1221.6,979.3 1222.2,979.3 1222.9,978.7 1223.5,978.6 1224.1,978.7 1224.8,981.4 1225.4,981.9 1226.1,978 1226.7,980.2 1227.3,977.3 1228,978.6 1228.6,977 1229.3,975.9 1229.9,978.4 1230.5,978.7 1231.2,978.4 1231.8,978 1232.5,976.9 1233.1,979.6 1233.7,979 1234.4,980.6 1235,978.4 1235.7,979.9 1236.3,980.8 1236.9,982.2 1237.6,981.9 1238.2,979.6 1238.9,978.2 1239.5,976.4 1240.1,978.5 1240.8,981.1 1241.4,981.2 1242.1,974.7 1242.7,977.2 1243.3,977.3 1244,976.7 1244.6,977.9 1245.3,977.6 1245.9,977.1 1246.5,977.6 1247.2,975.5 1247.8,976.7 1248.5,977.3 1249.1,980 1249.7,976.9 1250.4,978.9 1251,980.4 1251.7,978.5 1252.3,980.4 1252.9,978.2 1253.6,980 1254.2,980.5 1254.9,982.1 1255.5,980.9 1256.1,981.8 1256.8,981 1257.4,980.8 1258.1,983.3 1258.7,982.5 1259.3,984.1 1260,983.3 1260.6,984.7 1261.3,985.7 1261.9,980.6 1262.5,984.9 1263.2,982.5 1263.8,981.5 1264.5,979.9 1265.1,981.5 1265.7,979 1266.4,979.2 1267,977.9 1267.7,979.5 1268.3,980.3 1268.9,979.3 1269.6,978.6 1270.2,976.9 1270.9,975.7 1271.5,977.8 1272.1,977.7 1272.8,977.7 1273.4,979 1274.1,977.4 1274.7,977.4 1275.3,974.1 1276,977.4 1276.6,977.3 1277.3,976.4 1277.9,978.1 1278.5,976.5 1279.2,977.7 1279.8,981.9 1280.5,980.7 1281.1,980.9 1281.7,980.7 1282.4,981.1 1283,980.5 1283.7,982.7 1284.3,978.9 1284.9,979.9 1285.6,978.7 1286.2,979.1 1286.9,976.3 1287.5,976.5 1288.1,981.9 1288.8,981.8 1289.4,978.4 1290.1,979.1 1290.7,978.6 1291.3,976.6 1292,980.5 1292.6,977.2 1293.3,977 1293.9,974.6 1294.5,981.6 1295.2,979.4 1295.8,982.6 1296.5,978.6 1297.1,980.3 1297.7,979.4 1298.4,980.3 1299,983.5 1299.7,983.5 1300.3,982.2 1300.9,979.2 1301.6,981.2 1302.2,982.9 1302.9,981.2 1303.5,980.7 1304.1,980.4 1304.8,978.9 1305.4,980.5 1306.1,983.5 1306.7,980.1 1307.3,980.1 1308,982 1308.6,979.3 1309.3,981.1 1309.9,977.6 1310.5,979.6 1311.2,977.5 1311.8,977.9 1312.5,979.5 1313.1,979.3 1313.7,979.9 1314.4,977.4 1315,984.6 1315.7,981.7 1316.3,981 1316.9,981.3 1317.6,982.4 1318.2,980.1 1318.9,980.4 1319.5,979 1320.1,980.2 1320.8,977.8 1321.4,979.4 1322.1,979.1 1322.7,978.1 1323.3,980.5 1324,978.4 1324.6,977.9 1325.3,980 1325.9,980.1 1326.5,980.1 1327.2,980.2 1327.8,983.2 1328.5,980.1 1329.1,981 1329.7,979.3 1330.4,981.6 1331,979.7 1331.7,978.1 1332.3,978.3 1332.9,981.7 1333.6,982.1 1334.2,977.8 1334.9,979.2 1335.5,980.9 1336.1,981.4 1336.8,978.3 1337.4,979.3 1338.1,981 1338.7,979 1339.3,979.3 1340,978.8 1340.6,978.4 1341.3,980.2 1341.9,980.4 1342.5,977.8 1343.2,980.2 1343.8,981.8 1344.5,980.2 1345.1,982.4 1345.7,979.3 1346.4,982.7 1347,979.1 1347.7,983.3 1348.3,979.3 1348.9,979.6 1349.6,980.1 1350.2,979.6 1350.9,980.4 1351.5,979.3 1352.1,980.1 1352.8,981.8 1353.4,982.4 1354.1,980.4 1354.7,982.6 1355.3,979.7 1356,979.5 1356.6,980.1 1357.3,982.6 1357.9,979.4 1358.5,979.7 1359.2,982.7 1359.8,983.1 1360.5,983.7 1361.1,979.9 1361.7,981.6 1362.4,983.3 1363,982.3 1363.7,979.7 1364.3,982.4 1364.9,980.3 1365.6,980 1366.2,984.7 1366.9,983 1367.5,979.5 1368.1,978.9 1368.8,981.5 1369.4,979.3 1370.1,981.3 1370.7,979.5 1371.3,979.5 1372,980.9 1372.6,978.5 1373.3,976.8 1373.9,978.2 1374.5,979.5 1375.2,980 1375.8,980.4 1376.5,980.4 1377.1,980.3 1377.7,979 1378.4,983.2 1379,984.7 1379.7,981.7 1380.3,982.3 1380.9,984.2 1381.6,983.8 1382.2,983.6 1382.9,982.9 1383.5,981.8 1384.1,981.1 1384.8,984.9 1385.4,985.3 1386.1,981.7 1386.7,983.4 1387.3,983.2 1388,982.9 1388.6,982.6 1389.3,983.4 1389.9,980.3 1390.5,983 1391.2,982.5 1391.8,985.9 1392.5,984.4 1393.1,982.2 1393.7,982.7 1394.4,984.4 1395,984.5 1395.7,982.7 1396.3,982.3 1396.9,980.1 1397.6,981.9 1398.2,981.4 1398.9,980.5 1399.5,984.6 1400.1,979.3 1400.8,981.7 1401.4,982.7 1402.1,983.2 1402.7,984.9 1403.3,980.8 1404,982.6 1404.6,983.7 1405.3,983.5 1405.9,982.9 1406.5,982 1407.2,984.8 1407.8,982 1408.5,982.6 1409.1,984.6 1409.7,985.4 1410.4,984.2 1411,981.5 1411.7,981.6 1412.3,981.8 1412.9,981.4 1413.6,982.7 1414.2,986 1414.9,984.2 1415.5,983.1 1416.1,982.8 1416.8,982.6 1417.4,984.8 1418.1,980.1 1418.7,983.2 1419.3,979.9 1420,980.9 1420.6,980.2 1421.3,984.6 1421.9,983.3 1422.5,988.5 1423.2,983 1423.8,983 1424.5,986.5 1425.1,986.3 1425.7,984.5 1426.4,981.3 1427,985.7 1427.7,983.9 1428.3,983.9 1428.9,982.5 1429.6,984 1430.2,981.6 1430.9,982.5 1431.5,982.9 1432.1,984.6 1432.8,981.8 1433.4,980.8 1434.1,982.6 1434.7,981.8 1435.3,981.4 1436,981.7 1436.6,983.6 1437.3,981.6 1437.9,983.5 1438.5,986.7 1439.2,984.7 1439.8,981.4 1440.5,980.7 1441.1,982.9 1441.7,979.9 1442.4,979.7 1443,981.6 1443.7,980.8 1444.3,983.4 1444.9,980.3 1445.6,984.8 1446.2,980.5 1446.9,981.5 1447.5,981.9 1448.1,980.8 1448.8,981.9 1449.4,979.2 1450.1,977.2 1450.7,981.1 1451.3,979.1 1452,981.2 1452.6,983.4 1453.3,981.8 1453.9,980.5 1454.5,979.7 1455.2,980.8 1455.8,979.8 1456.5,977.5 1457.1,979.9 1457.7,978.6 1458.4,980 1459,979.9 1459.7,982.3 1460.3,982.7 1460.9,982.3 1461.6,981.7 1462.2,983.5 1462.9,984.5 1463.5,984.2 1464.1,981.9 1464.8,982.1 1465.4,983 1466.1,978.3 1466.7,982 1467.3,979.5 1468,982.7 1468.6,979.9 1469.3,980.6 1469.9,978.6 1470.5,981.2 1471.2,981.7 1471.8,983.2 1472.5,978.6 1473.1,980 1473.7,986.8 1474.4,982.8 1475,981.4 1475.7,981.3 1476.3,976.4 1476.9,982.5 1477.6,980 1478.2,977.7 1478.9,981.7 1479.5,978.6 1480.1,977.9 1480.8,980.6 1481.4,980.4 1482.1,979.3 1482.7,979.7 1483.3,977.1 1484,976.5 1484.6,979.4 1485.3,979.7 1485.9,978.1 1486.5,977.7 1487.2,976.4 1487.8,976.6 1488.5,974.8 1489.1,979 1489.7,976.1 1490.4,977.1 1491,975.8 1491.7,973.7 1492.3,978 1492.9,973.5 1493.6,973.3 1494.2,973.7 1494.9,971.2 1495.5,972.8 1496.1,970.7 1496.8,971.8 1497.4,970.5 1498.1,968.5 1498.7,971.1 1499.3,969.4 1500,966.7 1500.6,968 1501.3,967.2 1501.9,968.6 1502.5,963.7 1503.2,964.7 1503.8,962 1504.5,961.7 1505.1,959.1 1505.7,957.7 1506.4,957.2 1507,954.2 1507.7,951.5 1508.3,954.6 1508.9,953 1509.6,953 1510.2,953.3 1510.9,951.8 1511.5,953.5 1512.1,951.3 1512.8,951.3 1513.4,951.9 1514.1,951.7 1514.7,951.5 1515.3,951.7 1516,951.6 1516.6,952.9 1517.3,954.2 1517.9,955.9 1518.5,955.4 1519.2,958.3 1519.8,960.1 1520.5,961.7 1521.1,959 1521.7,961.9 1522.4,962.1 1523,963.8 1523.7,964.9 1524.3,965.9 1524.9,967.7 1525.6,967.6 1526.2,968.2 1526.9,969.8 1527.5,970.7 1528.1,972.1 1528.8,970 1529.4,971.1 1530.1,972.2 1530.7,969.5 1531.3,971 1532,972 1532.6,972.5 1533.3,971.6 1533.9,975.6 1534.5,974.7 1535.2,974.2 1535.8,978.8 1536.5,974 1537.1,976.5 1537.7,975.2 1538.4,976.7 1539,978.3 1539.7,975.5 1540.3,976.2 1540.9,976.9 1541.6,975.1 1542.2,978.7 1542.9,977.6 1543.5,976.8 1544.1,975.8 1544.8,976.9 1545.4,978.2 1546.1,977.3 1546.7,980.6 1547.3,975.4 1548,976.3 1548.6,979.6 1549.3,977.8 1549.9,980.7 1550.5,980.3 1551.2,982 1551.8,981.7 1552.5,982.8 1553.1,981.7 1553.7,982.6 1554.4,981.1 1555,981.5 1555.7,980.3 1556.3,979.5 1556.9,978.4 1557.6,979.1 1558.2,981.5 1558.9,977 1559.5,981.8 1560.1,980.7 1560.8,983.3 1561.4,981.6 1562.1,979.8 1562.7,980.7 1563.3,978.3 1564,982.7 1564.6,983 1565.3,979.5 1565.9,983.7 1566.5,981.7 1567.2,982.7 1567.8,980.2 1568.5,983.4 1569.1,983.7 1569.7,982.7 1570.4,981.5 1571,983.9 1571.7,985.4 1572.3,984.3 1572.9,985.2 1573.6,982.8 1574.2,983.2 1574.9,982.4 1575.5,981.5 1576.1,986.6 1576.8,983.6 1577.4,982 1578.1,983.9 1578.7,980.9 1579.3,983.3 1580,984.6 1580.6,982.4 1581.3,981.2 1581.9,979.9 1582.5,981.9 1583.2,980.9 1583.8,984.8 1584.5,983.1 1585.1,981.8 1585.7,980.8 1586.4,986.8 1587,985.4 1587.7,984.7 1588.3,983.8 1588.9,983.5 1589.6,982.7 1590.2,986.7 1590.9,983.8 1591.5,980.7 1592.1,982 1592.8,978.6 1593.4,984.2 1594.1,983.2 1594.7,984.3 1595.3,984.3 1596,980.5 1596.6,982.8 1597.3,983.7 1597.9,983.1 1598.5,980.2 1599.2,983.4 1599.8,982.2 1600.5,983.3 1601.1,980.8 1601.7,980.5 1602.4,979.7 1603,980.2 1603.7,980.4 1604.3,980.9 1604.9,983.4 1605.6,983.8 1606.2,985.3 1606.9,985.1 1607.5,984.9 1608.1,982.2 1608.8,984.7 1609.4,984.5 1610.1,980.3 1610.7,980.2 1611.3,980.3 1612,979.6 1612.6,980.6 1613.3,979.1 1613.9,981.3 1614.5,980.2 1615.2,981.9 1615.8,981.6 1616.5,980.7 1617.1,983.6 1617.7,981.9 1618.4,982.6 1619,981 1619.7,982.2 1620.3,982.6 1620.9,981 1621.6,979.4 1622.2,983.3 1622.9,983.1 1623.5,982.9 1624.1,983.1 1624.8,982.1 1625.4,981.6 1626.1,980.2 1626.7,980.6 1627.3,981.4 1628,979.9 1628.6,979.2 1629.3,983.8 1629.9,982.3 1630.5,980.6 1631.2,980.7 1631.8,978.4 1632.5,981 1633.1,982.9 1633.7,985.4 1634.4,979.1 1635,981.7 1635.7,985.6 1636.3,982.7 1636.9,981.6 1637.6,982.5 1638.2,981 1638.9,980.4 1639.5,982.4 1640.1,982.9 1640.8,980.1 1641.4,984.6 1642.1,980.2 1642.7,981.9 1643.3,986.9 1644,980.7 1644.6,982.5 1645.3,979.9 1645.9,981 1646.5,980.1 1647.2,980 1647.8,981.3 1648.5,983.1 1649.1,982.8 1649.7,983.9 1650.4,981 1651,984.2 1651.7,983.1 1652.3,984.2 1652.9,981.2 1653.6,981.4 1654.2,984.3 1654.9,983.3 1655.5,982 1656.1,980.9 1656.8,982 1657.4,983.1 1658.1,983.8 1658.7,981.5 1659.3,981.3 1660,983 1660.6,981.1 1661.3,984.1 1661.9,982.8 1662.5,983 1663.2,979 1663.8,980.4 1664.5,981 1665.1,981.1 1665.7,980.3 1666.4,983 1667,982.3 1667.7,981 1668.3,978.9 1668.9,984.2 1669.6,982 1670.2,983.1 1670.9,981.1 1671.5,981.2 1672.1,982.4 1672.8,982.4 1673.4,983.5 1674.1,982 1674.7,984.9 1675.3,979.4 1676,981.2 1676.6,983.4 1677.3,981.4 1677.9,980.6 1678.5,978.5 1679.2,982.6 1679.8,978.7 1680.5,982.3 1681.1,982.1 1681.7,983.4 1682.4,984.4 1683,981.5 1683.7,981.3 1684.3,982.2 1684.9,979.2 1685.6,983.2 1686.2,981.6 1686.9,982.6 1687.5,981.1 1688.1,981.7 1688.8,980.8 1689.4,982 1690.1,980.9 1690.7,983.1 1691.3,980.3 1692,977.3 1692.6,981.5 1693.3,980.5 1693.9,979.3 1694.5,983 1695.2,979.1 1695.8,977.4 1696.5,978.2 1697.1,979.4 1697.7,978.6 1698.4,981.8 1699,981.4 1699.7,979.5 1700.3,979.9 1700.9,980.9 1701.6,978.7 1702.2,978.9 1702.9,981 1703.5,979.5 1704.1,977.3 1704.8,978.3 1705.4,979.2 1706.1,979.6 1706.7,979 1707.3,981.7 1708,978 1708.6,978 1709.3,979.3 1709.9,975.4 1710.5,977.8 1711.2,980.6 1711.8,977.9 1712.5,978.8 1713.1,981.5 1713.7,980.8 1714.4,980 1715,981 1715.7,979.3 1716.3,980.6 1716.9,980.2 1717.6,984.2 1718.2,982.2 1718.9,980.9 1719.5,981.3 1720.1,981 1720.8,979.3 1721.4,980 1722.1,983.4 1722.7,978.8 1723.3,980 1724,982.5 1724.6,984.1 1725.3,980.5 1725.9,983.5 1726.5,981.5 1727.2,984.2 1727.8,981.9 1728.5,980.7 1729.1,982.2 1729.7,981.2 1730.4,979.5 1731,984.2 1731.7,980 1732.3,983 1732.9,981.7 1733.6,978.9 1734.2,979.6 1734.9,981.9 1735.5,983.3 1736.1,984.6 1736.8,982.4 1737.4,981 1738.1,979.4 1738.7,980.8 1739.3,981.6 1740,978.2 1740.6,983.7 1741.3,983.2 1741.9,983.5 1742.5,979.1 1743.2,980.6 1743.8,981.2 1744.5,979.1 1745.1,978.6 1745.7,977.7 1746.4,979.8 1747,980.2 1747.7,981.3 1748.3,978.7 1748.9,977.3 1749.6,979.7 1750.2,980 1750.9,980.3 1751.5,981.4 1752.1,979.1 1752.8,980.9 1753.4,977.8 1754.1,979.1 1754.7,980.6 1755.3,979.1 1756,980 1756.6,977.4 1757.3,978.6 1757.9,979.8 1758.5,977.4 1759.2,977.9 1759.8,981.9 1760.5,978.8 1761.1,977 1761.7,976.8 1762.4,979.8 1763,973.9 1763.7,977.5 1764.3,979.6 1764.9,978.5 1765.6,980.7 1766.2,978.8 1766.9,981.1 1767.5,981.6 1768.1,981.9 1768.8,982.4 1769.4,981.8 1770.1,983.5 1770.7,981.1 1771.3,980.5 1772,980.4 1772.6,980.7 1773.3,978.3 1773.9,977.9 1774.5,978.9 1775.2,980.9 1775.8,979.3 1776.5,979.7 1777.1,984.8 1777.7,981.7 1778.4,980.5 1779,979.8 1779.7,983.1 1780.3,980.5 1780.9,983.9 1781.6,982.6 1782.2,983.2 1782.9,980.5 1783.5,982.5 1784.1,978.5 1784.8,980.7 1785.4,982.8 1786.1,981.9 1786.7,978.1 1787.3,981.6 1788,981 1788.6,980.5 1789.3,979 1789.9,979.5 1790.5,978.9 1791.2,981.4 1791.8,981.1 1792.5,982.6 1793.1,981.9 1793.7,979.3 1794.4,981.5 1795,985.1 1795.7,979.7 1796.3,982.4 1796.9,980.3 1797.6,980.1 1798.2,981.7 1798.9,982.3 1799.5,982.2 1800.1,981.3 1800.8,982.5 1801.4,977.8 1802.1,982.1 1802.7,981.9 1803.3,981 1804,981.3 1804.6,980.8 1805.3,982.9 1805.9,979.5 1806.5,978.5 1807.2,980.5 1807.8,979.3 1808.5,980.3 1809.1,982.9 1809.7,980.1 1810.4,981.1 1811,984.6 1811.7,979.6 1812.3,981.8 1812.9,982.9 1813.6,982.5 1814.2,983.4 1814.9,978.2 1815.5,980.3 1816.1,978.4 1816.8,977 1817.4,976.1 1818.1,974.5 1818.7,977.4 1819.3,978.2 1820,975.4 1820.6,977.5 1821.3,976 1821.9,975.1 1822.5,972.1 1823.2,977.4 1823.8,976.1 1824.5,973.6 1825.1,973 1825.7,970.4 1826.4,972 1827,971.1 1827.7,972.4 1828.3,971.2 1828.9,968.6 1829.6,968 1830.2,970.4 1830.9,966.9 1831.5,970.5 1832.1,970.8 1832.8,967.3 1833.4,970.8 1834.1,970.3 1834.7,971.5 1835.3,971.3 1836,973.8 1836.6,975.1 1837.3,978.1 1837.9,977.7 1838.5,978.1 1839.2,975.3 1839.8,979 1840.5,978 1841.1,979.6 1841.7,979.7 1842.4,981.5 1843,980.9 1843.7,980.2 1844.3,980.5 1844.9,982.6 1845.6,978.5 1846.2,979.7 1846.9,982.1 1847.5,979.6 1848.1,980.7 1848.8,981.4 1849.4,983.2 1850.1,982.2 1850.7,978.1 1851.3,980.7 1852,981.8 1852.6,982.8 1853.3,981.9 1853.9,984 1854.5,983.1 1855.2,979.2 1855.8,980.2 1856.5,978.5 1857.1,984.4 1857.7,981.2 1858.4,981.3 1859,979.1 1859.7,980.9 1860.3,982.3 1860.9,980.7 1861.6,980 1862.2,978.5 1862.9,982.3 1863.5,979.2 1864.1,978.7 1864.8,980.2 1865.4,980 1866.1,980.7 1866.7,981.5 1867.3,981.3 1868,983.1 1868.6,983.5 1869.3,979.8 1869.9,984.7 1870.5,984.9 1871.2,979.6 1871.8,981 1872.5,982.8 1873.1,983.1 1873.7,984.3 1874.4,978.7 1875,979.9 1875.7,979.9 1876.3,981.9 1876.9,979.6 1877.6,981.5 1878.2,981.4 1878.9,981.5 1879.5,979.3 1880.1,981.7 1880.8,981.8 1881.4,980.4 1882.1,982.4 1882.7,979.7 1883.3,982.3 1884,979.3 1884.6,982.3 1885.3,982.4 1885.9,978.2 1886.5,980.2 1887.2,980.6 1887.8,978.9 1888.5,981 1889.1,980.3 1889.7,978.4 1890.4,978.8 1891,980.7 1891.7,979.5 1892.3,978.7 1892.9,982.8 1893.6,979.5 1894.2,981.8 1894.9,983.2 1895.5,983.7 1896.1,979.8 1896.8,981.9 1897.4,982.2 1898.1,982.1 1898.7,983 1899.3,982.6 1900,981.5 1900.6,980.7 1901.3,981.5 1901.9,981.7 1902.5,976.9 1903.2,983 1903.8,979 1904.5,982.1 1905.1,977.8 1905.7,979.8 1906.4,978.1 1907,981.8 1907.7,981.9 1908.3,981.3 1908.9,981 1909.6,981.3 1910.2,979.7 1910.9,980.5 1911.5,981.1 1912.1,982.9 1912.8,981.3 1913.4,978.5 1914.1,981.4 1914.7,981.7 1915.3,982.9 1916,979.9 1916.6,980.7 1917.3,983 1917.9,979 1918.5,979 1919.2,979.8 1919.8,977.6 1920.5,979.4 1921.1,978.8 1921.7,979.2 1922.4,983.1 1923,981.7 1923.7,982 1924.3,983.7 1924.9,984.4 1925.6,984.4 1926.2,985.3 1926.9,986.3 1927.5,981.4 1928.1,982.9 1928.8,979.8 1929.4,982.3 1930.1,982.5 1930.7,980.9 1931.3,980.5 1932,979.8 1932.6,979 1933.3,981.9 1933.9,984.1 1934.5,979.7 1935.2,984.3 1935.8,981.1 1936.5,979.4 1937.1,983.2 1937.7,983.6 1938.4,983.6 1939,982.4 1939.7,985.5 1940.3,982.7 1940.9,985 1941.6,985.2 1942.2,982.4 1942.9,980.8 1943.5,979.8 1944.1,981.8 1944.8,982.8 1945.4,979.1 1946.1,980.9 1946.7,984.3 1947.3,979.6 1948,983 1948.6,984 1949.3,984.7 1949.9,981.8 1950.5,984.8 1951.2,982.5 1951.8,986.2 1952.5,982.9 1953.1,985.2 1953.7,983.6 1954.4,985.2 1955,982.5 1955.7,985.4 1956.3,985.9 1956.9,985.8 1957.6,988.1 1958.2,986.2 1958.9,986.5 1959.5,986.4 1960.1,988.6 1960.8,985.2 1961.4,985.9 1962.1,985.6 1962.7,987.8 1963.3,987.2 1964,988.1 1964.6,987.1 1965.3,985.9 1965.9,986.2 1966.5,986 1967.2,981.8 1967.8,986.7 1968.5,983.4 1969.1,984.1 1969.7,985.1 1970.4,984.5 1971,982.9 1971.7,985.4 1972.3,987.8 1972.9,987.5 1973.6,988.4 1974.2,985.2 1974.9,985.6 1975.5,987.3 1976.1,986.7 1976.8,984.5 1977.4,983.4 1978.1,982.4 1978.7,987.4 1979.3,983.5 1980,986.1 1980.6,986.8 1981.3,991.3 1981.9,986.6 1982.5,986.1 1983.2,986.8 1983.8,987.5 1984.5,988.1 1985.1,987.2 1985.7,986.1 1986.4,984.7 1987,988 1987.7,986.3 1988.3,989.9 1988.9,985 1989.6,988.3 1990.2,986.4 1990.9,985.5 1991.5,988.7 1992.1,987 1992.8,987.2 1993.4,988.1 1994.1,986.5 1994.7,987.2 1995.3,988.1 1996,992.4 1996.6,989.5 1997.3,989.4 1997.9,990 1998.5,988.1 1999.2,988.2 1999.8,985.4 2000.5,987.9 2001.1,986.8 2001.7,986.1 2002.4,989.1 2003,983.9 2003.7,986.5 2004.3,983.8 2004.9,984.3 2005.6,986 2006.2,989.1 2006.9,985.5 2007.5,985.5 2008.1,985.7 2008.8,991.1 2009.4,988 2010.1,988.2 2010.7,990.8 2011.3,988.2 2012,983.9 2012.6,987.4 2013.3,985.7 2013.9,990.5 2014.5,985.4 2015.2,987.3 2015.8,985.7 2016.5,985.8 2017.1,987.7 2017.7,986.8 2018.4,986.3 2019,985.9 2019.7,987 2020.3,986.3 2020.9,987.5 2021.6,988.4 2022.2,987.3 2022.9,989.1 2023.5,987.9 2024.1,990.9 2024.8,986.8 2025.4,987.7 2026.1,990.3 2026.7,987.7 2027.3,989.3 2028,990.1 2028.6,988.2 2029.3,988.2 2029.9,989.5 2030.5,987.8 2031.2,986.6 2031.8,986 2032.5,987 2033.1,985.4 2033.7,987.2 2034.4,987.2 2035,990 2035.7,990.9 2036.3,989.2 2036.9,990 2037.6,988.9 2038.2,988 2038.9,989 2039.5,990 2040.1,990.1 2040.8,990.6 2041.4,989.2 2042.1,984.9 2042.7,991.2 2043.3,991.6 2044,990.8 2044.6,990.2 2045.3,990.2 2045.9,992.8 2046.5,988.7 2047.2,990.8 2047.8,989.8 2048.5,989.1 2049.1,988.2 2049.7,988.5 2050.4,988.1 2051,990.2 2051.7,988.1 2052.3,986 2052.9,986.4 2053.6,986.5 2054.2,990.4 2054.9,987.1 2055.5,987.2 2056.1,984.5 2056.8,985.5 2057.4,989.3 2058.1,987.1 2058.7,988.4 2059.3,991.2 2060,991.7 2060.6,989.3 2061.3,988.6 2061.9,988.3 2062.5,987.8 2063.2,991.6 2063.8,985.8 2064.5,987.8 2065.1,984.8 2065.7,986 2066.4,989.4 2067,989.5 2067.7,989.2 2068.3,988.5 2068.9,988.1 2069.6,987.7 2070.2,988.2 2070.9,990.8 2071.5,991.3 2072.1,989.4 2072.8,988.1 2073.4,986.7 2074.1,988.5 2074.7,988.9 2075.3,986.7 2076,991.3 2076.6,989.3 2077.3,988.7 2077.9,987.1 2078.5,987.6 2079.2,990.4 2079.8,986.2 2080.5,988.3 2081.1,989 2081.7,990.9 2082.4,989.3 2083,988.7 2083.7,987.4 2084.3,988.6 2084.9,989.3 2085.6,986.7 2086.2,988.2 2086.9,986.9 2087.5,984.9 2088.1,985.5 2088.8,990.2 2089.4,992.2 2090.1,990.8 2090.7,989.4 2091.3,989 2092,991.6 2092.6,990.3 2093.3,987.9 2093.9,989.6 2094.5,987.5 2095.2,990.6 2095.8,990.3 2096.5,991.2 2097.1,991.1 2097.7,991.4 2098.4,988.1 2099,988.5 2099.7,991.6 2100.3,989.6 2100.9,986.1 2101.6,984.7 2102.2,989.9 2102.9,991.7 2103.5,989.4 2104.1,987.4 2104.8,988.1 2105.4,983.6 2106.1,986.6 2106.7,989.6 2107.3,988.4 2108,983.9 2108.6,988.8 2109.3,989.1 2109.9,989.5 2110.5,987.6 2111.2,988 2111.8,987.1 2112.5,990.2 2113.1,991 2113.7,988.5 2114.4,989.7 2115,988.6 2115.7,991.9 2116.3,992 2116.9,986.6 2117.6,990.8 2118.2,990.7 2118.9,988.3 2119.5,989.3 2120.1,989.2 2120.8,987.3 2121.4,988.4 2122.1,990.7 2122.7,988.4 2123.3,990.1 2124,989.6 2124.6,989.7 2125.3,987.9 2125.9,988.2 2126.5,990.2 2127.2,989 2127.8,987.8 2128.5,986.8 2129.1,985.7 2129.7,987.1 2130.4,988.4 2131,985.5 2131.7,988.5 2132.3,989 2132.9,988.1 2133.6,987.2 2134.2,991.7 2134.9,989.9 2135.5,986.1 2136.1,987.5 2136.8,990.2 2137.4,989.7 2138.1,989.5 2138.7,989.1 2139.3,989.5 2140,988.9 2140.6,987.8 2141.3,989.8 2141.9,984.3 2142.5,988.1 2143.2,991.3 2143.8,988.3 2144.5,988 2145.1,992.6 2145.7,991 2146.4,989.1 2147,989.1 2147.7,988.7 2148.3,988.1 2148.9,988.3 2149.6,986.4 2150.2,988.9"/>
<polyline stroke="#00AE64" stroke-width="10.5" points="215.5,712.6 216.1,713 216.8,714.2 217.4,713.9 218.1,712.6 218.7,713.2 219.3,712.9 220,713.5 220.6,712.5 221.3,713.5 221.9,713.6 222.5,714.7 223.2,713.9 223.8,713.9 224.5,713.2 225.1,715.4 225.7,713.2 226.4,714.9 227,714.1 227.7,713.9 228.3,713.9 228.9,714.2 229.6,714.9 230.2,714.8 230.9,715.9 231.5,714.1 232.1,715.2 232.8,714.6 233.4,715.2 234.1,713.7 234.7,714.5 235.3,714.8 236,714 236.6,715.6 237.3,715.5 237.9,715.9 238.5,716.2 239.2,715.1 239.8,714.9 240.5,715.2 241.1,715.5 241.7,715.7 242.4,714.8 243,714.8 243.7,714.9 244.3,715.2 244.9,715.6 245.6,715.4 246.2,716.6 246.9,715.1 247.5,715.1 248.1,715.5 248.8,714.5 249.4,715.1 250.1,715.4 250.7,716 251.3,714.7 252,716.1 252.6,715.2 253.3,715.3 253.9,715.8 254.5,715.6 255.2,715.8 255.8,715.3 256.5,715.2 257.1,715.4 257.7,714.6 258.4,715.9 259,714.9 259.7,714.5 260.3,716.4 260.9,715.5 261.6,715 262.2,716.7 262.9,715.6 263.5,716.4 264.1,715.6 264.8,715.6 265.4,714.9 266.1,714.9 266.7,715.5 267.3,716.1 268,716.5 268.6,717.7 269.3,715.5 269.9,716.9 270.5,716 271.2,716.1 271.8,715.3 272.5,715.3 273.1,715.8 273.7,715.4 274.4,716.2 275,715.9 275.7,716.9 276.3,716.2 276.9,716.2 277.6,716.4 278.2,716 278.9,715.9 279.5,716.1 280.1,716 280.8,716.6 281.4,716.7 282.1,716.4 282.7,716.8 283.3,716 284,716.6 284.6,715.6 285.3,717.1 285.9,716.3 286.5,716.6 287.2,716.7 287.8,716.5 288.5,716.2 289.1,716.8 289.7,716.1 290.4,715.3 291,715.9 291.7,714.7 292.3,716.8 292.9,715.9 293.6,716.2 294.2,717.5 294.9,717.4 295.5,716 296.1,716.1 296.8,716.4 297.4,716.9 298.1,715.8 298.7,716 299.3,716.8 300,716.3 300.6,716.4 301.3,716 301.9,715.1 302.5,715 303.2,713.8 303.8,715 304.5,716 305.1,714.9 305.7,716.1 306.4,716.6 307,716.2 307.7,716.3 308.3,716.3 308.9,715.8 309.6,716.2 310.2,716.4 310.9,716.7 311.5,716.8 312.1,715.9 312.8,716.8 313.4,715.5 314.1,715.7 314.7,716 315.3,715.9 316,716 316.6,716.3 317.3,716.3 317.9,716.4 318.5,716.7 319.2,717.3 319.8,716.6 320.5,717.3 321.1,716.4 321.7,714.6 322.4,715.7 323,717 323.7,716.2 324.3,716.1 324.9,715.5 325.6,716.9 326.2,716.7 326.9,716.2 327.5,716.2 328.1,717 328.8,716.8 329.4,715.3 330.1,716.6 330.7,716.3 331.3,716 332,716.6 332.6,716.1 333.3,714.7 333.9,717.1 334.5,716.9 335.2,716.4 335.8,716.2 336.5,716.4 337.1,715.7 337.7,717 338.4,716.5 339,716.4 339.7,716 340.3,716.2 340.9,717.2 341.6,717 342.2,716.8 342.9,716.3 343.5,715.9 344.1,716.8 344.8,717.1 345.4,715.3 346.1,716.7 346.7,715 347.3,715.7 348,716.2 348.6,715.3 349.3,715.3 349.9,716.2 350.5,716.7 351.2,716.1 351.8,717.1 352.5,715.8 353.1,717.2 353.7,716.3 354.4,716.4 355,716.7 355.7,716.8 356.3,717.4 356.9,717.5 357.6,716.6 358.2,716 358.9,715.3 359.5,715.4 360.1,716.1 360.8,715.9 361.4,715.9 362.1,716 362.7,716.4 363.3,715.2 364,715.5 364.6,716.8 365.3,716.9 365.9,716.3 366.5,717.2 367.2,716.2 367.8,716.3 368.5,715.5 369.1,716.8 369.7,716.4 370.4,717.2 371,716.9 371.7,716.3 372.3,716.2 372.9,716.9 373.6,716 374.2,715.8 374.9,716.1 375.5,716.8 376.1,716.8 376.8,717.1 377.4,716 378.1,716.8 378.7,715.6 379.3,716.5 380,716.5 380.6,717.5 381.3,717 381.9,716.3 382.5,717.1 383.2,716.6 383.8,716 384.5,715.9 385.1,715.6 385.7,717.7 386.4,716.1 387,716.7 387.7,715.6 388.3,715.9 388.9,716.2 389.6,716.3 390.2,716.7 390.9,715.5 391.5,716.4 392.1,716.8 392.8,715.5 393.4,716.5 394.1,715.6 394.7,716.5 395.3,716.5 396,717.4 396.6,715.9 397.3,716.5 397.9,717.2 398.5,715.9 399.2,716.5 399.8,716.1 400.5,716.3 401.1,716.8 401.7,716.7 402.4,717.5 403,716.9 403.7,716.8 404.3,715.9 404.9,715.8 405.6,715.8 406.2,714.4 406.9,716.7 407.5,715.2 408.1,715.5 408.8,715.9 409.4,716.7 410.1,717 410.7,716.1 411.3,716.7 412,716.2 412.6,715.7 413.3,716.6 413.9,716.7 414.5,715.8 415.2,717.3 415.8,715.7 416.5,716.6 417.1,715.7 417.7,715.8 418.4,715.8 419,716.6 419.7,715.6 420.3,716.3 420.9,717.3 421.6,715.8 422.2,716.4 422.9,716.8 423.5,716 424.1,716.7 424.8,716.1 425.4,716.9 426.1,716.5 426.7,716.1 427.3,717.5 428,716.4 428.6,716 429.3,715.9 429.9,716 430.5,715.9 431.2,716 431.8,716.6 432.5,715.4 433.1,715.9 433.7,716.9 434.4,716.3 435,716.4 435.7,717.2 436.3,716.5 436.9,716.6 437.6,716.2 438.2,717.3 438.9,716.9 439.5,715.9 440.1,716.5 440.8,715.6 441.4,716.5 442.1,716.3 442.7,716.2 443.3,716 444,715.5 444.6,716.9 445.3,716.7 445.9,716.6 446.5,717 447.2,716.5 447.8,716.3 448.5,716.4 449.1,716.1 449.7,718.1 450.4,716.6 451,716.4 451.7,717.2 452.3,714.7 452.9,716.1 453.6,716.3 454.2,715.5 454.9,716.2 455.5,714.6 456.1,715.7 456.8,716.3 457.4,714.4 458.1,715.1 458.7,716 459.3,716.3 460,716.1 460.6,716.9 461.3,717 461.9,715.9 462.5,716.4 463.2,715.6 463.8,715.1 464.5,714.5 465.1,716.3 465.7,715.9 466.4,717.1 467,715.2 467.7,715.8 468.3,716.1 468.9,715.8 469.6,716.2 470.2,715.8 470.9,715.5 471.5,714.4 472.1,715.4 472.8,716.8 473.4,716.3 474.1,717 474.7,716 475.3,716.5 476,716.2 476.6,717 477.3,717.1 477.9,717.1 478.5,717.8 479.2,716.1 479.8,716.7 480.5,715.6 481.1,716.8 481.7,716 482.4,716.1 483,716.4 483.7,717.3 484.3,716.3 484.9,716.2 485.6,716 486.2,716.8 486.9,716 487.5,716.4 488.1,716.8 488.8,717 489.4,716.3 490.1,717.1 490.7,717.7 491.3,715.8 492,717 492.6,717.5 493.3,715.8 493.9,716.4 494.5,715.5 495.2,716.3 495.8,715.7 496.5,716.2 497.1,715.5 497.7,715.7 498.4,715.9 499,716.1 499.7,716.3 500.3,716.6 500.9,716.1 501.6,716.5 502.2,716.9 502.9,715.3 503.5,716.8 504.1,716 504.8,716 505.4,715.7 506.1,715.9 506.7,715.8 507.3,716.6 508,715.7 508.6,716.9 509.3,716 509.9,716.7 510.5,716.9 511.2,715.5 511.8,716.8 512.5,717.3 513.1,715.8 513.7,716.6 514.4,716.2 515,716.5 515.7,716.3 516.3,716.1 516.9,716.9 517.6,716.8 518.2,716.3 518.9,717.1 519.5,716.8 520.1,716.4 520.8,715.6 521.4,716.7 522.1,716.4 522.7,714.5 523.3,715 524,715.5 524.6,716.3 525.3,716.6 525.9,716 526.5,716.2 527.2,716.6 527.8,715.5 528.5,716.5 529.1,716.1 529.7,716.2 530.4,716.1 531,715.6 531.7,715.8 532.3,716.4 532.9,716.7 533.6,716.5 534.2,717.3 534.9,716.5 535.5,716 536.1,716.7 536.8,716.6 537.4,716.6 538.1,717.2 538.7,716.9 539.3,717.3 540,716.7 540.6,716.4 541.3,716.8 541.9,715.9 542.5,716.2 543.2,715.4 543.8,716.3 544.5,715.8 545.1,716.4 545.7,717.4 546.4,717.5 547,716.7 547.7,716.1 548.3,716.8 548.9,716.1 549.6,715.6 550.2,716 550.9,716.1 551.5,715.8 552.1,716.8 552.8,716 553.4,715.9 554.1,716.5 554.7,715.7 555.3,715.7 556,715.9 556.6,716.8 557.3,717 557.9,717 558.5,716.5 559.2,716 559.8,716.8 560.5,715.6 561.1,716.4 561.7,716 562.4,716.3 563,716.6 563.7,717.4 564.3,715.4 564.9,717.4 565.6,715.9 566.2,716.8 566.9,717.2 567.5,716.2 568.1,716.5 568.8,716.6 569.4,716.3 570.1,715.7 570.7,716 571.3,716 572,714.8 572.6,716.5 573.3,715.7 573.9,714.3 574.5,715.3 575.2,716.5 575.8,716.4 576.5,715.8 577.1,714.8 577.7,715.8 578.4,716.2 579,716 579.7,715.7 580.3,715.5 580.9,716.5 581.6,715.7 582.2,716 582.9,716.2 583.5,716.8 584.1,715.8 584.8,715.5 585.4,714.4 586.1,716 586.7,715.8 587.3,715.3 588,714.1 588.6,715.1 589.3,715.2 589.9,716 590.5,715.1 591.2,715.3 591.8,715.3 592.5,715.8 593.1,714.6 593.7,715.3 594.4,715.2 595,715.6 595.7,715.7 596.3,715.7 596.9,714.9 597.6,715.5 598.2,715 598.9,716.4 599.5,714.8 600.1,716.5 600.8,715.9 601.4,714.3 602.1,715.4 602.7,715.5 603.3,714.3 604,715.7 604.6,715 605.3,715.2 605.9,714.5 606.5,714.8 607.2,714.9 607.8,714.4 608.5,714.5 609.1,714.7 609.7,714.1 610.4,714.7 611,713.1 611.7,715.2 612.3,714.5 612.9,714.6 613.6,714.8 614.2,713.5 614.9,715.4 615.5,713.7 616.1,714.3 616.8,714.4 617.4,714.9 618.1,714.3 618.7,713.6 619.3,714.5 620,712.9 620.6,714.1 621.3,714 621.9,715.1 622.5,713.6 623.2,712.9 623.8,712.7 624.5,712.6 625.1,712.8 625.7,713.4 626.4,712.7 627,713.5 627.7,713 628.3,713.5 628.9,713.5 629.6,712.6 630.2,713 630.9,713.6 631.5,714 632.1,714.2 632.8,713.5 633.4,712.9 634.1,712.3 634.7,713.5 635.3,713.8 636,713.5 636.6,714.3 637.3,713.3 637.9,713.6 638.5,714.6 639.2,713.2 639.8,713.9 640.5,713.4 641.1,713.3 641.7,714 642.4,712.6 643,712.8 643.7,711.8 644.3,712.6 644.9,712.9 645.6,713.2 646.2,713.2 646.9,713.5 647.5,712.9 648.1,712.4 648.8,713.4 649.4,713.4 650.1,712.6 650.7,712.6 651.3,714.2 652,713.6 652.6,713.6 653.3,713.5 653.9,713.3 654.5,712.9 655.2,713.4 655.8,712.8 656.5,712.8 657.1,712.9 657.7,712.7 658.4,713.1 659,712.1 659.7,713.8 660.3,711.8 660.9,712.2 661.6,713.2 662.2,712.5 662.9,712.6 663.5,712.9 664.1,711.5 664.8,712.8 665.4,712.3 666.1,712.4 666.7,712.9 667.3,713.1 668,713.5 668.6,713.5 669.3,713.1 669.9,712.7 670.5,713.1 671.2,711.9 671.8,712.3 672.5,712.9 673.1,712.7 673.7,711.4 674.4,712.1 675,713 675.7,712.5 676.3,712.7 676.9,710.9 677.6,710.9 678.2,711.2 678.9,710.6 679.5,711.2 680.1,711.2 680.8,711.4 681.4,710.9 682.1,711.2 682.7,711.3 683.3,711.2 684,710.5 684.6,712 685.3,711.5 685.9,711.8 686.5,711.5 687.2,710.4 687.8,711.5 688.5,710.7 689.1,710.7 689.7,712 690.4,711.4 691,711.5 691.7,712.1 692.3,712.4 692.9,710.4 693.6,711.1 694.2,712.1 694.9,711.4 695.5,709.8 696.1,712.3 696.8,712.4 697.4,712.8 698.1,712.3 698.7,712.2 699.3,712.9 700,712.7 700.6,712.3 701.3,712.5 701.9,712.5 702.5,711.7 703.2,712.8 703.8,712.6 704.5,712.8 705.1,710.9 705.7,712.9 706.4,712.6 707,712.3 707.7,713.2 708.3,712.3 708.9,713.9 709.6,713.3 710.2,713 710.9,713.7 711.5,713.1 712.1,712.8 712.8,711.8 713.4,712.9 714.1,713.1 714.7,712.8 715.3,711.4 716,712.9 716.6,713.1 717.3,712.5 717.9,712 718.5,711.6 719.2,712 719.8,712.1 720.5,712.4 721.1,712.6 721.7,712 722.4,711.4 723,711.9 723.7,711.5 724.3,713.1 724.9,711.6 725.6,712.5 726.2,712.8 726.9,712.3 727.5,713.2 728.1,712.3 728.8,711.9 729.4,711.6 730.1,712.1 730.7,712.3 731.3,710.7 732,712.5 732.6,712.1 733.3,711.8 733.9,712.1 734.5,712 735.2,711.7 735.8,712.1 736.5,711.1 737.1,712.6 737.7,711.8 738.4,711.2 739,710.6 739.7,711.5 740.3,711.4 740.9,712 741.6,712 742.2,712.8 742.9,711.4 743.5,711.8 744.1,711 744.8,710.8 745.4,711.8 746.1,710.5 746.7,710.8 747.3,710.9 748,711.3 748.6,711.7 749.3,711.1 749.9,710.7 750.5,711.1 751.2,710.3 751.8,710.3 752.5,710.6 753.1,710.5 753.7,708.8 754.4,711.1 755,710.4 755.7,711 756.3,710.9 756.9,709 757.6,709.2 758.2,709.5 758.9,709.6 759.5,708.5 760.1,708.6 760.8,709.5 761.4,708.1 762.1,708.7 762.7,709.5 763.3,708.5 764,709 764.6,708.3 765.3,707.4 765.9,707.5 766.5,707.4 767.2,707.4 767.8,707.5 768.5,707.5 769.1,707.4 769.7,707.4 770.4,707.1 771,707 771.7,707 772.3,706.8 772.9,707.9 773.6,705.9 774.2,706.8 774.9,705.8 775.5,705.9 776.1,706.4 776.8,705.7 777.4,706.5 778.1,705.2 778.7,705.2 779.3,705.1 780,705.3 780.6,704.9 781.3,704.6 781.9,704.7 782.5,705.1 783.2,704.1 783.8,703.6 784.5,703 785.1,702.4 785.7,701.6 786.4,701.4 787,701.6 787.7,700.3 788.3,701.5 788.9,700.7 789.6,700 790.2,699.9 790.9,700.1 791.5,699.7 792.1,699.1 792.8,699.2 793.4,698.9 794.1,696.1 794.7,696.9 795.3,695.4 796,694.5 796.6,694.6 797.3,694.9 797.9,693.8 798.5,692.8 799.2,693.3 799.8,692.3 800.5,691.2 801.1,691.7 801.7,690.6 802.4,689 803,688 803.7,687.7 804.3,687.4 804.9,687.2 805.6,686.4 806.2,686 806.9,685.1 807.5,685.8 808.1,685.2 808.8,684.4 809.4,684.2 810.1,685.3 810.7,685.6 811.3,686 812,685.3 812.6,687.7 813.3,686.3 813.9,687.7 814.5,689.2 815.2,690 815.8,689.6 816.5,691.1 817.1,692.2 817.7,692.5 818.4,692.2 819,694.3 819.7,693.1 820.3,694.5 820.9,694.5 821.6,695.6 822.2,695.8 822.9,696.5 823.5,695.7 824.1,696.5 824.8,696.8 825.4,695.7 826.1,695.8 826.7,695.4 827.3,694.5 828,694.6 828.6,694.7 829.3,694.6 829.9,695 830.5,694.4 831.2,692.6 831.8,692.1 832.5,691.2 833.1,689.9 833.7,691 834.4,689.8 835,687.8 835.7,687.9 836.3,688.3 836.9,686 837.6,685.3 838.2,684.3 838.9,682.6 839.5,681.2 840.1,679.9 840.8,679.5 841.4,677.8 842.1,676.8 842.7,675.9 843.3,673.9 844,672.6 844.6,670.1 845.3,667.8 845.9,667.9 846.5,665.2 847.2,663.2 847.8,660.1 848.5,657 849.1,656.1 849.7,651.8 850.4,650.3 851,647 851.7,644.2 852.3,641 852.9,637.6 853.6,631.7 854.2,629 854.9,622.9 855.5,619.6 856.1,614 856.8,608.1 857.4,602.7 858.1,596.1 858.7,590.7 859.3,585.2 860,579 860.6,571.9 861.3,566 861.9,558.6 862.5,551.5 863.2,542.4 863.8,532.9 864.5,523.6 865.1,513.7 865.7,504.8 866.4,496.8 867,490 867.7,484.4 868.3,479.8 868.9,477.8 869.6,477 870.2,479.3 870.9,482.7 871.5,489.7 872.1,497.8 872.8,508.3 873.4,515.6 874.1,526.1 874.7,535.5 875.3,544.9 876,556 876.6,565.5 877.3,574 877.9,582.4 878.5,592.2 879.2,599.3 879.8,608.5 880.5,616.1 881.1,624.5 881.7,631.5 882.4,639.4 883,645.2 883.7,650.6 884.3,653.4 884.9,655.6 885.6,657.1 886.2,658.8 886.9,660 887.5,660.4 888.1,663.6 888.8,663.5 889.4,665.7 890.1,667.3 890.7,668.1 891.3,670.6 892,671.5 892.6,672.9 893.3,673.1 893.9,674.7 894.5,675.6 895.2,677.1 895.8,676.5 896.5,678.3 897.1,679.1 897.7,678.6 898.4,678.8 899,680.7 899.7,680.1 900.3,680.9 900.9,680.9 901.6,681.2 902.2,680.8 902.9,679.9 903.5,681.8 904.1,681.4 904.8,682.4 905.4,682.3 906.1,683.9 906.7,683.2 907.3,684.2 908,685.2 908.6,685 909.3,685.9 909.9,686.3 910.5,686.6 911.2,688.7 911.8,688 912.5,688.4 913.1,689.5 913.7,690.4 914.4,690.9 915,691.3 915.7,691.4 916.3,690.9 916.9,692.8 917.6,694.4 918.2,693.7 918.9,693.7 919.5,696.1 920.1,696.3 920.8,694.9 921.4,697.2 922.1,697.2 922.7,697.9 923.3,700.1 924,700 924.6,699.6 925.3,700 925.9,701.3 926.5,700.1 927.2,701.4 927.8,700.9 928.5,702.2 929.1,702.3 929.7,702 930.4,703.2 931,703.2 931.7,704.3 932.3,703.3 932.9,703.6 933.6,703.3 934.2,704.4 934.9,703.3 935.5,703.8 936.1,704.9 936.8,704.9 937.4,704.7 938.1,704.8 938.7,704.9 939.3,704.9 940,704.3 940.6,703.3 941.3,705.2 941.9,703.8 942.5,705.6 943.2,704.6 943.8,706.3 944.5,705.4 945.1,704.9 945.7,705.2 946.4,704.1 947,705.2 947.7,705.1 948.3,705.1 948.9,704.2 949.6,704.5 950.2,706.2 950.9,705.9 951.5,705.3 952.1,705.8 952.8,705.5 953.4,705.7 954.1,706.6 954.7,706.2 955.3,707.1 956,706.5 956.6,706.3 957.3,707 957.9,707.3 958.5,706.8 959.2,707.2 959.8,707.1 960.5,707.7 961.1,707.6 961.7,707.5 962.4,706.6 963,707.2 963.7,707.6 964.3,706.9 964.9,706.6 965.6,706.3 966.2,707 966.9,706.4 967.5,706.8 968.1,705.8 968.8,706.9 969.4,705.4 970.1,704.7 970.7,705.6 971.3,705.7 972,706.2 972.6,705.3 973.3,705.2 973.9,705 974.5,704.7 975.2,703.4 975.8,704.8 976.5,704.6 977.1,703.1 977.7,703 978.4,703.3 979,703 979.7,704.1 980.3,703.2 980.9,704 981.6,702.7 982.2,702.4 982.9,701.9 983.5,702 984.1,702.8 984.8,702.9 985.4,702.2 986.1,702.2 986.7,700.6 987.3,701.9 988,700.3 988.6,701.1 989.3,701.2 989.9,699.4 990.5,699.1 991.2,698.9 991.8,697.3 992.5,697 993.1,697 993.7,696.9 994.4,696.9 995,695.8 995.7,695.8 996.3,694.2 996.9,693.1 997.6,693.5 998.2,692.8 998.9,691.2 999.5,692 1000.1,690.2 1000.8,689.6 1001.4,689.3 1002.1,687.8 1002.7,688.2 1003.3,687.5 1004,687.3 1004.6,686.6 1005.3,686.1 1005.9,685.8 1006.5,686 1007.2,686.5 1007.8,686 1008.5,685.8 1009.1,686.3 1009.7,686.8 1010.4,685.8 1011,686.8 1011.7,688 1012.3,687.4 1012.9,687.8 1013.6,688.9 1014.2,688.9 1014.9,690.1 1015.5,689.7 1016.1,690.6 1016.8,692 1017.4,691.6 1018.1,690.5 1018.7,690.8 1019.3,690.7 1020,691.1 1020.6,690.1 1021.3,690.5 1021.9,690.5 1022.5,689.8 1023.2,687.5 1023.8,686.7 1024.5,685.7 1025.1,684.5 1025.7,685 1026.4,682.3 1027,681.4 1027.7,681.9 1028.3,681.4 1028.9,681.8 1029.6,681.7 1030.2,681 1030.9,680.3 1031.5,682.2 1032.1,682.9 1032.8,684.3 1033.4,683.2 1034.1,684.9 1034.7,687.3 1035.3,688.6 1036,689.7 1036.6,690.4 1037.3,693 1037.9,693 1038.5,694.3 1039.2,696.3 1039.8,697.8 1040.5,699.4 1041.1,700.7 1041.7,700.3 1042.4,702.4 1043,703.7 1043.7,703.8 1044.3,705.1 1044.9,705.9 1045.6,706.8 1046.2,706.7 1046.9,707.2 1047.5,707.3 1048.1,708.4 1048.8,708.2 1049.4,708.4 1050.1,709.3 1050.7,709.2 1051.3,709.1 1052,710.8 1052.6,711 1053.3,711.1 1053.9,710.7 1054.5,712.3 1055.2,711.3 1055.8,710.7 1056.5,712 1057.1,713.2 1057.7,712.1 1058.4,712.5 1059,713.4 1059.7,713.1 1060.3,713.1 1060.9,713.5 1061.6,714.1 1062.2,713.9 1062.9,714.7 1063.5,715.2 1064.1,714.8 1064.8,715.6 1065.4,716.1 1066.1,716.2 1066.7,716.5 1067.3,717.1 1068,717.3 1068.6,717.5 1069.3,716.8 1069.9,717.6 1070.5,717.9 1071.2,717.9 1071.8,717.2 1072.5,717.9 1073.1,718.1 1073.7,717.1 1074.4,718.1 1075,717.8 1075.7,717.9 1076.3,718.3 1076.9,718.2 1077.6,717.2 1078.2,718.7 1078.9,718.1 1079.5,718.5 1080.1,719.1 1080.8,718.7 1081.4,718.5 1082.1,718.8 1082.7,718.7 1083.3,718.2 1084,718.4 1084.6,719.3 1085.3,720 1085.9,719.3 1086.5,720.1 1087.2,719.2 1087.8,719.8 1088.5,719.7 1089.1,719 1089.7,719.6 1090.4,719.7 1091,718.6 1091.7,720 1092.3,720 1092.9,719.8 1093.6,720 1094.2,718.9 1094.9,718.9 1095.5,719.1 1096.1,718.9 1096.8,719.1 1097.4,720.1 1098.1,718.7 1098.7,719.5 1099.3,720.6 1100,719.5 1100.6,719.3 1101.3,720 1101.9,720.3 1102.5,720 1103.2,719 1103.8,720.3 1104.5,720.2 1105.1,721.1 1105.7,720.4 1106.4,720.1 1107,720.5 1107.7,720.7 1108.3,720.2 1108.9,720.1 1109.6,720.6 1110.2,720.1 1110.9,720.4 1111.5,719.5 1112.1,720.5 1112.8,719.2 1113.4,721.3 1114.1,720.1 1114.7,720.7 1115.3,721.4 1116,719.8 1116.6,721.3 1117.3,720.7 1117.9,721.3 1118.5,720.3 1119.2,720 1119.8,721.2 1120.5,720.7 1121.1,720.2 1121.7,719.5 1122.4,720.9 1123,719.8 1123.7,720.1 1124.3,719.6 1124.9,720.2 1125.6,720.6 1126.2,720.2 1126.9,720.5 1127.5,720 1128.1,721.1 1128.8,721.2 1129.4,720 1130.1,720 1130.7,720.6 1131.3,719.7 1132,720.9 1132.6,720.9 1133.3,720.9 1133.9,721.5 1134.5,721.4 1135.2,720.9 1135.8,720.4 1136.5,721.3 1137.1,721.1 1137.7,719.8 1138.4,720.2 1139,720 1139.7,719.3 1140.3,719.5 1140.9,721.2 1141.6,719.5 1142.2,720.4 1142.9,719.7 1143.5,720.5 1144.1,720.1 1144.8,720.7 1145.4,719.5 1146.1,720.9 1146.7,720.4 1147.3,721.3 1148,721.2 1148.6,720.7 1149.3,720.7 1149.9,720.6 1150.5,720.6 1151.2,720.2 1151.8,720.4 1152.5,720.4 1153.1,719.8 1153.7,720.9 1154.4,719.8 1155,721.1 1155.7,720.6 1156.3,719.1 1156.9,719.3 1157.6,720.4 1158.2,719.6 1158.9,720.1 1159.5,720.6 1160.1,720.3 1160.8,719.5 1161.4,719.4 1162.1,720.4 1162.7,719.5 1163.3,720.4 1164,720.6 1164.6,719.4 1165.3,719.6 1165.9,720 1166.5,718.8 1167.2,719.6 1167.8,719.8 1168.5,718.6 1169.1,719.5 1169.7,719.7 1170.4,719.3 1171,720.2 1171.7,719.2 1172.3,721 1172.9,719.9 1173.6,718.8 1174.2,719.3 1174.9,718.9 1175.5,719.7 1176.1,719.4 1176.8,718.5 1177.4,719.3 1178.1,719.7 1178.7,719.2 1179.3,718.5 1180,719.3 1180.6,719.4 1181.3,717.8 1181.9,719.3 1182.5,717.6 1183.2,718.7 1183.8,718.5 1184.5,718.4 1185.1,718.7 1185.7,718.1 1186.4,718.4 1187,719.8 1187.7,719 1188.3,719.7 1188.9,719.2 1189.6,717.7 1190.2,719.7 1190.9,718.9 1191.5,718.8 1192.1,718.1 1192.8,718 1193.4,717.8 1194.1,718 1194.7,717.8 1195.3,717.5 1196,717.7 1196.6,716.7 1197.3,717.3 1197.9,717.3 1198.5,717.9 1199.2,717.7 1199.8,717.5 1200.5,717.7 1201.1,717.5 1201.7,717.7 1202.4,718.5 1203,717.9 1203.7,717.7 1204.3,718.4 1204.9,718.4 1205.6,718.1 1206.2,717 1206.9,717.9 1207.5,717.1 1208.1,717.4 1208.8,717.3 1209.4,717.4 1210.1,717.4 1210.7,717.7 1211.3,717 1212,716.5 1212.6,716.9 1213.3,716.5 1213.9,717 1214.5,716.7 1215.2,717 1215.8,716.2 1216.5,717 1217.1,717 1217.7,716.1 1218.4,716.2 1219,716.4 1219.7,716 1220.3,715.9 1220.9,716.7 1221.6,717 1222.2,717.6 1222.9,716.2 1223.5,716.6 1224.1,716 1224.8,718 1225.4,716.2 1226.1,716.8 1226.7,718 1227.3,717.7 1228,716 1228.6,717.6 1229.3,716.7 1229.9,716 1230.5,716.5 1231.2,716.9 1231.8,717.1 1232.5,715.8 1233.1,718 1233.7,715.9 1234.4,716.7 1235,717.4 1235.7,717 1236.3,716.9 1236.9,716.5 1237.6,717.3 1238.2,717.7 1238.9,716.9 1239.5,717.3 1240.1,716.6 1240.8,716.6 1241.4,716 1242.1,717.1 1242.7,717.4 1243.3,716.8 1244,717.8 1244.6,717.4 1245.3,717.5 1245.9,717.2 1246.5,716.7 1247.2,716.6 1247.8,716.6 1248.5,716.7 1249.1,716 1249.7,716.3 1250.4,715.8 1251,715.8 1251.7,717 1252.3,716.6 1252.9,717 1253.6,716.6 1254.2,716.6 1254.9,717.3 1255.5,715.9 1256.1,716.5 1256.8,717.2 1257.4,717.5 1258.1,716.7 1258.7,716.5 1259.3,715.8 1260,716.4 1260.6,716.5 1261.3,716.4 1261.9,716.8 1262.5,717.1 1263.2,716.6 1263.8,716.4 1264.5,716.8 1265.1,717.1 1265.7,717.9 1266.4,716 1267,717.5 1267.7,716.7 1268.3,717.4 1268.9,717.5 1269.6,716.5 1270.2,715.4 1270.9,715.9 1271.5,716.2 1272.1,716.1 1272.8,716.4 1273.4,715.9 1274.1,716.5 1274.7,716.1 1275.3,716.9 1276,716.5 1276.6,716.9 1277.3,715.4 1277.9,715.9 1278.5,715.7 1279.2,715.6 1279.8,715.5 1280.5,715.4 1281.1,716.9 1281.7,716 1282.4,715.6 1283,716.3 1283.7,717.3 1284.3,716.5 1284.9,715.8 1285.6,716.1 1286.2,716.3 1286.9,716.5 1287.5,715.8 1288.1,716.4 1288.8,716.7 1289.4,715.6 1290.1,716.1 1290.7,716.1 1291.3,716.4 1292,716.3 1292.6,715.7 1293.3,715.9 1293.9,716.6 1294.5,716.9 1295.2,716.6 1295.8,716.5 1296.5,716.9 1297.1,717.2 1297.7,716.6 1298.4,716.8 1299,717 1299.7,715.6 1300.3,715.5 1300.9,715.3 1301.6,715.9 1302.2,716.1 1302.9,715.3 1303.5,716.7 1304.1,715.6 1304.8,716 1305.4,715.8 1306.1,716.7 1306.7,715.6 1307.3,716.8 1308,715.6 1308.6,715.1 1309.3,715.4 1309.9,715.6 1310.5,716.7 1311.2,715.4 1311.8,715.9 1312.5,716.9 1313.1,715.8 1313.7,715.2 1314.4,715.4 1315,715.3 1315.7,716.1 1316.3,716.7 1316.9,716.1 1317.6,715.9 1318.2,716.3 1318.9,716 1319.5,716.1 1320.1,716.3 1320.8,716 1321.4,715.5 1322.1,716.3 1322.7,714.7 1323.3,715.4 1324,715.8 1324.6,715.3 1325.3,717.1 1325.9,715.1 1326.5,716.7 1327.2,716.3 1327.8,716 1328.5,715.8 1329.1,715.3 1329.7,715.1 1330.4,716.2 1331,715.5 1331.7,714.8 1332.3,715.1 1332.9,714.7 1333.6,715.6 1334.2,716 1334.9,715.1 1335.5,715.4 1336.1,715 1336.8,715.8 1337.4,716.1 1338.1,716.1 1338.7,716.9 1339.3,715.4 1340,716.5 1340.6,715.1 1341.3,716 1341.9,716.2 1342.5,716 1343.2,716 1343.8,715.6 1344.5,715.5 1345.1,716.5 1345.7,715.4 1346.4,716.1 1347,715 1347.7,715.7 1348.3,715.6 1348.9,714.9 1349.6,715.3 1350.2,715.9 1350.9,715.7 1351.5,715.8 1352.1,715.3 1352.8,715.6 1353.4,714.8 1354.1,715.1 1354.7,716.1 1355.3,715.6 1356,715.5 1356.6,715.6 1357.3,714.9 1357.9,715.8 1358.5,715.1 1359.2,715.3 1359.8,716 1360.5,715.3 1361.1,715.2 1361.7,715.5 1362.4,715.2 1363,716.3 1363.7,714.6 1364.3,715.2 1364.9,716 1365.6,715.4 1366.2,715.7 1366.9,715 1367.5,715.5 1368.1,715.9 1368.8,716.1 1369.4,715.7 1370.1,716.5 1370.7,715.9 1371.3,714.8 1372,715.9 1372.6,714.5 1373.3,715.4 1373.9,715.2 1374.5,714.5 1375.2,715 1375.8,714.8 1376.5,715 1377.1,714.8 1377.7,715.2 1378.4,714.9 1379,715.5 1379.7,715.4 1380.3,715.8 1380.9,715.6 1381.6,715.5 1382.2,716 1382.9,715.8 1383.5,714.1 1384.1,714.5 1384.8,716 1385.4,714.6 1386.1,716.3 1386.7,715 1387.3,715 1388,714.1 1388.6,714.4 1389.3,714.6 1389.9,715.1 1390.5,714.4 1391.2,714.5 1391.8,714.3 1392.5,714.7 1393.1,714.9 1393.7,715 1394.4,714.9 1395,714.5 1395.7,714.9 1396.3,713.7 1396.9,714.2 1397.6,714.3 1398.2,714.9 1398.9,714.4 1399.5,714.2 1400.1,715.1 1400.8,714.5 1401.4,715.2 1402.1,714.4 1402.7,714 1403.3,714.2 1404,715.3 1404.6,715.6 1405.3,715.1 1405.9,715.5 1406.5,714.3 1407.2,715.6 1407.8,715 1408.5,714.4 1409.1,714.2 1409.7,714.4 1410.4,714.2 1411,714.6 1411.7,714.3 1412.3,715.8 1412.9,714.5 1413.6,714.9 1414.2,715.5 1414.9,715.4 1415.5,715.2 1416.1,714.3 1416.8,714.3 1417.4,714.5 1418.1,713.4 1418.7,714.7 1419.3,713.5 1420,714.3 1420.6,714.8 1421.3,714.9 1421.9,714.1 1422.5,714.6 1423.2,714.9 1423.8,713.3 1424.5,714 1425.1,714.2 1425.7,714.3 1426.4,714.2 1427,714.1 1427.7,715.3 1428.3,714.2 1428.9,715 1429.6,713.9 1430.2,714.7 1430.9,714.9 1431.5,713.9 1432.1,713.4 1432.8,714.5 1433.4,713.2 1434.1,713.9 1434.7,712.4 1435.3,714.3 1436,712.3 1436.6,713 1437.3,713.2 1437.9,713.4 1438.5,713.6 1439.2,714.2 1439.8,714.3 1440.5,714.3 1441.1,713.7 1441.7,713.3 1442.4,712.1 1443,712.8 1443.7,712.7 1444.3,712.8 1444.9,711.8 1445.6,711.8 1446.2,711.5 1446.9,712.4 1447.5,712.1 1448.1,711.5 1448.8,711.1 1449.4,711.5 1450.1,711.5 1450.7,711.3 1451.3,711.4 1452,711.6 1452.6,711.2 1453.3,710.4 1453.9,710.4 1454.5,711.5 1455.2,710.6 1455.8,711 1456.5,710.6 1457.1,710.5 1457.7,710.7 1458.4,709.6 1459,709.9 1459.7,709.3 1460.3,708.9 1460.9,708.7 1461.6,708.2 1462.2,708.9 1462.9,708.8 1463.5,707.6 1464.1,707.8 1464.8,706.3 1465.4,707.1 1466.1,707.9 1466.7,705.8 1467.3,706.6 1468,706.4 1468.6,706.6 1469.3,706 1469.9,706.2 1470.5,704.7 1471.2,705.5 1471.8,704.8 1472.5,704.3 1473.1,705.1 1473.7,703.3 1474.4,703.4 1475,702.7 1475.7,703.5 1476.3,703.2 1476.9,702.5 1477.6,702.9 1478.2,702.3 1478.9,702.5 1479.5,701.8 1480.1,701 1480.8,699.7 1481.4,698.9 1482.1,698.7 1482.7,699 1483.3,697.3 1484,696.3 1484.6,696.1 1485.3,695.4 1485.9,695.9 1486.5,693 1487.2,692.5 1487.8,691 1488.5,690.2 1489.1,689.7 1489.7,687.8 1490.4,685.9 1491,685.7 1491.7,684.6 1492.3,682.5 1492.9,680.1 1493.6,678.2 1494.2,677.6 1494.9,675 1495.5,673.2 1496.1,671.1 1496.8,671 1497.4,667.8 1498.1,666.1 1498.7,663.5 1499.3,661.5 1500,658.8 1500.6,657.8 1501.3,654.7 1501.9,653.7 1502.5,650.2 1503.2,648.8 1503.8,647.1 1504.5,644 1505.1,642.7 1505.7,640.1 1506.4,637.8 1507,636.4 1507.7,633.6 1508.3,632.8 1508.9,630.7 1509.6,630.6 1510.2,629.9 1510.9,628.9 1511.5,627.1 1512.1,626.6 1512.8,627 1513.4,626.3 1514.1,626.1 1514.7,625 1515.3,626.6 1516,628.9 1516.6,629.4 1517.3,630.3 1517.9,632.1 1518.5,635.2 1519.2,636.1 1519.8,636.4 1520.5,638.1 1521.1,640.7 1521.7,643.1 1522.4,643.4 1523,645 1523.7,645.3 1524.3,647.3 1524.9,648.9 1525.6,649.4 1526.2,648.9 1526.9,650.9 1527.5,650.9 1528.1,651.2 1528.8,652.8 1529.4,652.6 1530.1,654.3 1530.7,655.3 1531.3,656.8 1532,658.5 1532.6,659.6 1533.3,661 1533.9,662.8 1534.5,663.6 1535.2,667.1 1535.8,670.5 1536.5,671.8 1537.1,674.5 1537.7,676.2 1538.4,678.5 1539,680.6 1539.7,682.5 1540.3,684.4 1540.9,685.4 1541.6,687.5 1542.2,688 1542.9,690.9 1543.5,691.6 1544.1,692.8 1544.8,693.7 1545.4,696.1 1546.1,698 1546.7,698.9 1547.3,700.6 1548,700.7 1548.6,702.4 1549.3,702.7 1549.9,701.8 1550.5,704.2 1551.2,704 1551.8,705.2 1552.5,705.3 1553.1,705.4 1553.7,706.9 1554.4,706.4 1555,707.4 1555.7,707.8 1556.3,707.8 1556.9,707.8 1557.6,708.4 1558.2,708.5 1558.9,708 1559.5,708.8 1560.1,709.6 1560.8,709.4 1561.4,710.2 1562.1,710 1562.7,709.6 1563.3,709.7 1564,709.2 1564.6,710.5 1565.3,710 1565.9,710.9 1566.5,711.9 1567.2,711.1 1567.8,710.3 1568.5,710.8 1569.1,710.9 1569.7,711.8 1570.4,710.9 1571,711.2 1571.7,710.8 1572.3,711.9 1572.9,712 1573.6,712.5 1574.2,711.8 1574.9,712.6 1575.5,711.7 1576.1,712.1 1576.8,712.1 1577.4,712.5 1578.1,713 1578.7,711.8 1579.3,713 1580,713 1580.6,712.4 1581.3,712.7 1581.9,713 1582.5,712.4 1583.2,712.4 1583.8,713.2 1584.5,712.6 1585.1,714.1 1585.7,713.8 1586.4,713.9 1587,714.1 1587.7,714.6 1588.3,713.5 1588.9,714.4 1589.6,713.5 1590.2,714.4 1590.9,714.6 1591.5,714.2 1592.1,713.7 1592.8,713.8 1593.4,713.8 1594.1,714.3 1594.7,714.4 1595.3,714.6 1596,713.2 1596.6,713.8 1597.3,714 1597.9,713.7 1598.5,713.8 1599.2,714.1 1599.8,715 1600.5,715.3 1601.1,715.6 1601.7,714 1602.4,715.4 1603,714.5 1603.7,714.9 1604.3,713.8 1604.9,714.2 1605.6,713.4 1606.2,713.7 1606.9,714.9 1607.5,713.1 1608.1,714.3 1608.8,713.8 1609.4,713.4 1610.1,714.7 1610.7,714.1 1611.3,713.8 1612,714.6 1612.6,714.3 1613.3,715.5 1613.9,713.7 1614.5,714.4 1615.2,713.6 1615.8,714.8 1616.5,714.8 1617.1,715 1617.7,715.6 1618.4,714.5 1619,714.1 1619.7,714.6 1620.3,713.9 1620.9,714.2 1621.6,713.6 1622.2,713.4 1622.9,713.9 1623.5,714.8 1624.1,714.7 1624.8,714.3 1625.4,712.9 1626.1,714.2 1626.7,714.8 1627.3,714.8 1628,714.1 1628.6,714.9 1629.3,714.5 1629.9,713.4 1630.5,714.8 1631.2,715.3 1631.8,714.5 1632.5,714 1633.1,715.4 1633.7,715 1634.4,713.2 1635,714.8 1635.7,714.3 1636.3,714.2 1636.9,712.8 1637.6,712.7 1638.2,713.6 1638.9,714.5 1639.5,713.8 1640.1,713.8 1640.8,713.2 1641.4,713.5 1642.1,714.2 1642.7,713.4 1643.3,715 1644,714.2 1644.6,714.4 1645.3,714.4 1645.9,713.9 1646.5,713.9 1647.2,712.9 1647.8,713.8 1648.5,712.7 1649.1,715.1 1649.7,714.1 1650.4,713.3 1651,714.3 1651.7,713.8 1652.3,713.5 1652.9,713.9 1653.6,713 1654.2,713.4 1654.9,713.2 1655.5,714 1656.1,713.5 1656.8,713.6 1657.4,712.2 1658.1,714.1 1658.7,713.9 1659.3,714.1 1660,713.5 1660.6,714.3 1661.3,713.5 1661.9,713.7 1662.5,713.5 1663.2,712.6 1663.8,712.5 1664.5,713.3 1665.1,713.3 1665.7,713.1 1666.4,713.9 1667,713.5 1667.7,713.3 1668.3,713.6 1668.9,713.4 1669.6,712.9 1670.2,712.4 1670.9,712.7 1671.5,712.9 1672.1,713.9 1672.8,711.3 1673.4,714.4 1674.1,712.8 1674.7,713.9 1675.3,713.5 1676,713.5 1676.6,712.7 1677.3,713.8 1677.9,713.2 1678.5,713.3 1679.2,712.5 1679.8,713 1680.5,712.6 1681.1,713.2 1681.7,713.4 1682.4,713 1683,713.4 1683.7,713.6 1684.3,713.5 1684.9,713.4 1685.6,712.3 1686.2,713.8 1686.9,713 1687.5,712.9 1688.1,713.1 1688.8,712.6 1689.4,712.8 1690.1,713.3 1690.7,711.9 1691.3,712.4 1692,712.5 1692.6,711.2 1693.3,711.5 1693.9,713 1694.5,713.7 1695.2,712.5 1695.8,712.6 1696.5,712.1 1697.1,713.1 1697.7,712.2 1698.4,712.4 1699,712.8 1699.7,712.3 1700.3,712.4 1700.9,713.1 1701.6,712.5 1702.2,712.7 1702.9,711.5 1703.5,712.4 1704.1,712.9 1704.8,713.1 1705.4,712.8 1706.1,711.9 1706.7,712.3 1707.3,711.6 1708,711.8 1708.6,713 1709.3,712.2 1709.9,712.3 1710.5,712.4 1711.2,712.9 1711.8,712.2 1712.5,712.1 1713.1,712.6 1713.7,712.1 1714.4,712.3 1715,711.3 1715.7,711.9 1716.3,712 1716.9,711.4 1717.6,713.1 1718.2,713.3 1718.9,712.8 1719.5,711.3 1720.1,711.9 1720.8,711.9 1721.4,711.6 1722.1,710.2 1722.7,711.5 1723.3,712.1 1724,711.9 1724.6,712.6 1725.3,711.4 1725.9,711.9 1726.5,712.3 1727.2,711.1 1727.8,711.1 1728.5,710.6 1729.1,711.3 1729.7,710.4 1730.4,711.2 1731,710.9 1731.7,712 1732.3,711.4 1732.9,711.9 1733.6,712.3 1734.2,711.8 1734.9,711.9 1735.5,711.8 1736.1,711.6 1736.8,711.8 1737.4,711.2 1738.1,711.9 1738.7,711.6 1739.3,711.4 1740,711.4 1740.6,710.9 1741.3,711.4 1741.9,712 1742.5,711.4 1743.2,712.6 1743.8,710.9 1744.5,711.4 1745.1,710.5 1745.7,711.9 1746.4,710.6 1747,711.3 1747.7,711.3 1748.3,712.6 1748.9,712 1749.6,711.5 1750.2,711.4 1750.9,712.4 1751.5,711.2 1752.1,710.5 1752.8,711.6 1753.4,711.1 1754.1,710.5 1754.7,711.2 1755.3,711.2 1756,710.2 1756.6,711.7 1757.3,712.4 1757.9,711 1758.5,710.2 1759.2,711.2 1759.8,710.9 1760.5,711.2 1761.1,711.3 1761.7,710.7 1762.4,711.6 1763,709.7 1763.7,710.2 1764.3,710.7 1764.9,710.8 1765.6,710.6 1766.2,710.9 1766.9,710.1 1767.5,709.5 1768.1,711.2 1768.8,711.5 1769.4,710.8 1770.1,710 1770.7,710.2 1771.3,711.1 1772,710.9 1772.6,711.3 1773.3,711.4 1773.9,711.2 1774.5,710.2 1775.2,710.4 1775.8,709.9 1776.5,709.6 1777.1,709.3 1777.7,709 1778.4,708.2 1779,709 1779.7,707.9 1780.3,707.4 1780.9,707.4 1781.6,706.7 1782.2,704.7 1782.9,704.7 1783.5,703.9 1784.1,704.2 1784.8,702.5 1785.4,702.5 1786.1,700.6 1786.7,699.8 1787.3,698.1 1788,697.2 1788.6,696.4 1789.3,695.6 1789.9,693.4 1790.5,693.5 1791.2,691.6 1791.8,691 1792.5,689 1793.1,688.4 1793.7,688.3 1794.4,687.3 1795,684.9 1795.7,685.7 1796.3,683.9 1796.9,683.4 1797.6,683 1798.2,682.1 1798.9,681.7 1799.5,681.3 1800.1,681.5 1800.8,681.5 1801.4,681.2 1802.1,681.2 1802.7,681.8 1803.3,682.9 1804,683.9 1804.6,684 1805.3,684.4 1805.9,685.7 1806.5,685.4 1807.2,686.4 1807.8,686.8 1808.5,686.8 1809.1,687.9 1809.7,688 1810.4,687.4 1811,687.8 1811.7,687.7 1812.3,687.9 1812.9,687.8 1813.6,688 1814.2,687.1 1814.9,686.6 1815.5,686.2 1816.1,685.6 1816.8,685.5 1817.4,683.3 1818.1,683.3 1818.7,681 1819.3,681.3 1820,679.4 1820.6,678 1821.3,677.3 1821.9,675.8 1822.5,675.1 1823.2,672.7 1823.8,673.9 1824.5,670.7 1825.1,671 1825.7,671.5 1826.4,668.8 1827,669.7 1827.7,668.9 1828.3,667.7 1828.9,667 1829.6,666.7 1830.2,666.7 1830.9,666.9 1831.5,666.9 1832.1,665.4 1832.8,667.1 1833.4,667.2 1834.1,666.7 1834.7,668.1 1835.3,668.9 1836,669.4 1836.6,670.1 1837.3,671.5 1837.9,672.7 1838.5,672.7 1839.2,673.8 1839.8,674.9 1840.5,677.1 1841.1,677.9 1841.7,679 1842.4,680.6 1843,682 1843.7,684.3 1844.3,686.2 1844.9,687.9 1845.6,687.8 1846.2,689.3 1846.9,690.5 1847.5,691.7 1848.1,692.5 1848.8,695.2 1849.4,696.1 1850.1,696.7 1850.7,697 1851.3,700.2 1852,701 1852.6,702 1853.3,703.1 1853.9,703.3 1854.5,704.8 1855.2,705 1855.8,706.4 1856.5,706.5 1857.1,706.4 1857.7,707.1 1858.4,708.8 1859,709.4 1859.7,709.1 1860.3,709.3 1860.9,710.1 1861.6,711.2 1862.2,710.6 1862.9,712.1 1863.5,711.4 1864.1,711.6 1864.8,712.2 1865.4,713.3 1866.1,711.7 1866.7,712 1867.3,711.5 1868,711.9 1868.6,712 1869.3,711.9 1869.9,711.9 1870.5,712.2 1871.2,712.3 1871.8,711.7 1872.5,711.7 1873.1,711.6 1873.7,711.5 1874.4,712.5 1875,711.4 1875.7,712.1 1876.3,712.5 1876.9,711.6 1877.6,712.3 1878.2,712.3 1878.9,711 1879.5,712.4 1880.1,711.5 1880.8,711.8 1881.4,710.8 1882.1,710.7 1882.7,711.4 1883.3,712.3 1884,713 1884.6,713.5 1885.3,712.7 1885.9,712.6 1886.5,712.4 1887.2,712.5 1887.8,711.6 1888.5,711.7 1889.1,712.1 1889.7,712.3 1890.4,711.6 1891,711.1 1891.7,711.2 1892.3,713 1892.9,710.7 1893.6,711.8 1894.2,711.8 1894.9,711.7 1895.5,710.8 1896.1,712.1 1896.8,711.2 1897.4,710.8 1898.1,710.5 1898.7,710.6 1899.3,711.6 1900,709.8 1900.6,709.9 1901.3,709.7 1901.9,709.7 1902.5,708.5 1903.2,708.3 1903.8,708.1 1904.5,708.5 1905.1,707.8 1905.7,707.7 1906.4,707.5 1907,707 1907.7,707.2 1908.3,705.9 1908.9,706.1 1909.6,705.3 1910.2,706 1910.9,705.9 1911.5,705.1 1912.1,705.5 1912.8,704.3 1913.4,705.3 1914.1,704.4 1914.7,704.4 1915.3,703.5 1916,704 1916.6,704.4 1917.3,703.4 1917.9,704.4 1918.5,705.4 1919.2,705.3 1919.8,705.5 1920.5,706.2 1921.1,705.8 1921.7,706.2 1922.4,707.2 1923,707.6 1923.7,708.6 1924.3,708.1 1924.9,709.2 1925.6,709.8 1926.2,709.4 1926.9,710.4 1927.5,710.7 1928.1,709.1 1928.8,712.1 1929.4,710.1 1930.1,712.6 1930.7,711.2 1931.3,710.7 1932,711.3 1932.6,712.5 1933.3,712.3 1933.9,712.9 1934.5,714 1935.2,712.9 1935.8,714.1 1936.5,714.6 1937.1,712.9 1937.7,713.3 1938.4,714.3 1939,714.3 1939.7,714.5 1940.3,713.7 1940.9,714.6 1941.6,715.6 1942.2,715.8 1942.9,716.2 1943.5,715.4 1944.1,715.5 1944.8,715.2 1945.4,715.3 1946.1,714.9 1946.7,717.2 1947.3,716.1 1948,715.8 1948.6,716.2 1949.3,716.6 1949.9,716.3 1950.5,715.7 1951.2,716.7 1951.8,716.3 1952.5,715.9 1953.1,715.9 1953.7,716.7 1954.4,716.6 1955,716.1 1955.7,716.9 1956.3,714.9 1956.9,716.6 1957.6,715.7 1958.2,715.8 1958.9,716 1959.5,717.2 1960.1,716.5 1960.8,716.8 1961.4,717.2 1962.1,715.8 1962.7,717 1963.3,717.4 1964,716.3 1964.6,717.2 1965.3,716.5 1965.9,716.2 1966.5,717.4 1967.2,717.3 1967.8,717.7 1968.5,717 1969.1,716.6 1969.7,717.7 1970.4,717.4 1971,717.3 1971.7,716.9 1972.3,716.6 1972.9,717.9 1973.6,717.5 1974.2,717.4 1974.9,717.1 1975.5,718.4 1976.1,717 1976.8,717.1 1977.4,718.7 1978.1,717.9 1978.7,718 1979.3,717.8 1980,718.8 1980.6,717.9 1981.3,718 1981.9,717.1 1982.5,717.8 1983.2,717.1 1983.8,717.7 1984.5,717.9 1985.1,718.4 1985.7,718.8 1986.4,717.5 1987,717.3 1987.7,718.2 1988.3,717.9 1988.9,719.3 1989.6,719.2 1990.2,717.9 1990.9,718.6 1991.5,719.4 1992.1,718 1992.8,718.3 1993.4,718.6 1994.1,719.5 1994.7,719 1995.3,718.2 1996,718.6 1996.6,718.4 1997.3,718.4 1997.9,718.6 1998.5,718.6 1999.2,719.1 1999.8,718.7 2000.5,718.6 2001.1,718.8 2001.7,718.2 2002.4,718.9 2003,720.4 2003.7,719.4 2004.3,719.7 2004.9,719.9 2005.6,719.2 2006.2,719.2 2006.9,719.6 2007.5,718.9 2008.1,719.7 2008.8,719.7 2009.4,719.4 2010.1,719.5 2010.7,719.8 2011.3,719.5 2012,718.4 2012.6,720.2 2013.3,719.6 2013.9,719.8 2014.5,719.9 2015.2,719.9 2015.8,718.9 2016.5,718.8 2017.1,719.9 2017.7,720 2018.4,720.1 2019,719.4 2019.7,720.3 2020.3,720.8 2020.9,719.9 2021.6,719.4 2022.2,720.6 2022.9,718.6 2023.5,718.9 2024.1,718.7 2024.8,719.2 2025.4,721.4 2026.1,719.5 2026.7,720 2027.3,719.9 2028,719.8 2028.6,720.7 2029.3,720.4 2029.9,721.2 2030.5,721.3 2031.2,720.2 2031.8,721.1 2032.5,719.8 2033.1,720.5 2033.7,720.6 2034.4,719.4 2035,719.9 2035.7,720.4 2036.3,720.4 2036.9,720.2 2037.6,721.5 2038.2,720.4 2038.9,721.3 2039.5,721.7 2040.1,720.4 2040.8,720.7 2041.4,720.3 2042.1,721.4 2042.7,721.7 2043.3,720.1 2044,720.6 2044.6,720.3 2045.3,721.8 2045.9,720.3 2046.5,720.9 2047.2,719.8 2047.8,720.8 2048.5,719.9 2049.1,720.5 2049.7,719.7 2050.4,720.2 2051,720.1 2051.7,720.4 2052.3,720.5 2052.9,721.4 2053.6,720.5 2054.2,721.4 2054.9,721 2055.5,720.7 2056.1,720.9 2056.8,720.9 2057.4,721 2058.1,720.9 2058.7,720.6 2059.3,720.5 2060,719.4 2060.6,720.9 2061.3,721.1 2061.9,721 2062.5,721.1 2063.2,720.4 2063.8,721.1 2064.5,721.4 2065.1,720 2065.7,720.2 2066.4,720.2 2067,721.3 2067.7,720.4 2068.3,719.6 2068.9,720.8 2069.6,721.5 2070.2,720.6 2070.9,720.3 2071.5,720.7 2072.1,721.4 2072.8,720.4 2073.4,720.3 2074.1,720.5 2074.7,720.1 2075.3,719.7 2076,721 2076.6,720.6 2077.3,721.1 2077.9,721.2 2078.5,721.1 2079.2,719.9 2079.8,720.5 2080.5,719.8 2081.1,720.6 2081.7,720 2082.4,721.3 2083,720 2083.7,719.2 2084.3,720.6 2084.9,720.3 2085.6,720.2 2086.2,721.1 2086.9,722.1 2087.5,721.3 2088.1,720.9 2088.8,722 2089.4,721.8 2090.1,721.2 2090.7,720.8 2091.3,721.5 2092,720.9 2092.6,720.8 2093.3,720.9 2093.9,721.7 2094.5,722.2 2095.2,721.5 2095.8,722.3 2096.5,720.3 2097.1,721.2 2097.7,720.2 2098.4,721.6 2099,721.5 2099.7,719.4 2100.3,720.1 2100.9,720.7 2101.6,719.9 2102.2,720.3 2102.9,720.3 2103.5,721.3 2104.1,720.7 2104.8,720 2105.4,720 2106.1,720.2 2106.7,720.4 2107.3,720.3 2108,720.9 2108.6,720.3 2109.3,720.7 2109.9,720.8 2110.5,720.1 2111.2,720.8 2111.8,720.8 2112.5,721 2113.1,720.2 2113.7,720.6 2114.4,721.3 2115,721.6 2115.7,720.5 2116.3,720.3 2116.9,719.9 2117.6,719.7 2118.2,721.1 2118.9,720.5 2119.5,720.8 2120.1,721 2120.8,720.5 2121.4,720.6 2122.1,720 2122.7,720.1 2123.3,720.7 2124,721.3 2124.6,720.9 2125.3,720.1 2125.9,719.8 2126.5,720.9 2127.2,720.8 2127.8,721.1 2128.5,721.2 2129.1,721.9 2129.7,721.6 2130.4,722 2131,721.5 2131.7,721.1 2132.3,720.2 2132.9,720.6 2133.6,721 2134.2,720.8 2134.9,720.4 2135.5,719.8 2136.1,720.6 2136.8,722 2137.4,720.3 2138.1,720.6 2138.7,720.8 2139.3,721.4 2140,720.4 2140.6,721.2 2141.3,721.5 2141.9,721 2142.5,721.7 2143.2,721.1 2143.8,721.6 2144.5,721.6 2145.1,721 2145.7,720.2 2146.4,721.4 2147,721 2147.7,720.8 2148.3,721.3 2148.9,720.6 2149.6,720.2 2150.2,720.5"/>
<polyline stroke="#C671E0" stroke-width="10.2" points="215.5,443.4 216.1,443.1 216.8,443.7 217.4,443.8 218.1,444.2 218.7,443.8 219.3,443.2 220,443 220.6,443.6 221.3,443.9 221.9,443.4 222.5,442.6 223.2,442.8 223.8,444.1 224.5,443.5 225.1,442.8 225.7,443.6 226.4,443.2 227,443.4 227.7,443.6 228.3,443.7 228.9,444.1 229.6,443.6 230.2,443.3 230.9,443.8 231.5,444.2 232.1,442.9 232.8,443.5 233.4,443.4 234.1,443.7 234.7,443.2 235.3,443.8 236,443.6 236.6,443.6 237.3,443.3 237.9,443.8 238.5,443.3 239.2,443.3 239.8,444.3 240.5,443.7 241.1,444.8 241.7,444.8 242.4,443.6 243,444.7 243.7,443.9 244.3,444.4 244.9,444.5 245.6,443.4 246.2,444.2 246.9,444 247.5,444.3 248.1,443.1 248.8,443.8 249.4,443 250.1,443.5 250.7,443.5 251.3,445 252,445 252.6,446.1 253.3,445 253.9,444.9 254.5,444.8 255.2,444 255.8,443.9 256.5,444.6 257.1,443.9 257.7,444.2 258.4,444 259,444.4 259.7,444.3 260.3,444.5 260.9,444.5 261.6,444.6 262.2,444.2 262.9,444.9 263.5,443.3 264.1,443.4 264.8,443.5 265.4,444.5 266.1,443.9 266.7,443.9 267.3,444.4 268,445 268.6,444.5 269.3,444.5 269.9,445.5 270.5,444.4 271.2,444.7 271.8,444.9 272.5,444.4 273.1,444.6 273.7,445.2 274.4,444.4 275,443.9 275.7,443.7 276.3,444.6 276.9,444.4 277.6,444.9 278.2,444.6 278.9,444.6 279.5,444.4 280.1,444.8 280.8,445.3 281.4,445 282.1,445.3 282.7,446 283.3,445.5 284,444.1 284.6,445.8 285.3,445.1 285.9,444.4 286.5,445.4 287.2,445.1 287.8,445.2 288.5,445 289.1,444.8 289.7,445.5 290.4,446 291,445.3 291.7,445.3 292.3,446.1 292.9,444.7 293.6,445.3 294.2,444.9 294.9,444.3 295.5,444.5 296.1,445.2 296.8,445.5 297.4,445 298.1,445.6 298.7,445.9 299.3,445.7 300,445.9 300.6,445.7 301.3,445.6 301.9,446.1 302.5,445.8 303.2,445.3 303.8,445.4 304.5,444.7 305.1,445 305.7,445.6 306.4,445.5 307,446.3 307.7,445.6 308.3,444.5 308.9,446.3 309.6,446 310.2,444.7 310.9,445.7 311.5,445.2 312.1,444.6 312.8,445.4 313.4,445.5 314.1,446.6 314.7,445.5 315.3,445.8 316,445.8 316.6,445.6 317.3,445 317.9,445.6 318.5,446.1 319.2,445.7 319.8,444.9 320.5,444.7 321.1,445.7 321.7,445.3 322.4,445.4 323,444.9 323.7,446.3 324.3,446 324.9,444.8 325.6,445.8 326.2,445.8 326.9,444.1 327.5,445.5 328.1,445.8 328.8,446.4 329.4,445.9 330.1,445.8 330.7,445.7 331.3,446.5 332,446.8 332.6,445.5 333.3,445.5 333.9,447.5 334.5,445.7 335.2,445.9 335.8,446 336.5,446.1 337.1,446.5 337.7,446.3 338.4,445.6 339,446.6 339.7,446.3 340.3,447.1 340.9,446.1 341.6,445.2 342.2,445.5 342.9,446.4 343.5,445.6 344.1,444.8 344.8,445.7 345.4,446 346.1,446.5 346.7,445.6 347.3,446.3 348,446.4 348.6,445.4 349.3,445.4 349.9,446.4 350.5,446 351.2,445.7 351.8,445.5 352.5,446.2 353.1,445.7 353.7,445.9 354.4,445.9 355,446.4 355.7,446.4 356.3,447.5 356.9,446.1 357.6,446.7 358.2,446.8 358.9,445.9 359.5,446.9 360.1,445.5 360.8,446.4 361.4,446.8 362.1,445.1 362.7,445.7 363.3,446.3 364,445.2 364.6,445.1 365.3,445.5 365.9,445.5 366.5,446.3 367.2,446.5 367.8,446.5 368.5,446.4 369.1,446.7 369.7,447.4 370.4,446.7 371,446.7 371.7,446.4 372.3,445.7 372.9,445.7 373.6,446.2 374.2,446.1 374.9,445.6 375.5,445.1 376.1,446 376.8,446.1 377.4,446.3 378.1,446 378.7,446.6 379.3,446.6 380,446.8 380.6,446.7 381.3,447.2 381.9,447.2 382.5,446.4 383.2,446.5 383.8,446.9 384.5,446.6 385.1,446.8 385.7,447.2 386.4,446.2 387,445.8 387.7,447.3 388.3,446.8 388.9,447.1 389.6,446 390.2,447.7 390.9,447.1 391.5,446.4 392.1,446.2 392.8,446.6 393.4,446.4 394.1,446.3 394.7,445.9 395.3,447.3 396,446.6 396.6,446.5 397.3,446.8 397.9,445.9 398.5,447.3 399.2,446.8 399.8,447.1 400.5,447.3 401.1,446.6 401.7,447.3 402.4,446.4 403,446.1 403.7,446 404.3,446.3 404.9,446.6 405.6,446.1 406.2,446 406.9,447.5 407.5,446.6 408.1,448.1 408.8,447.4 409.4,447.1 410.1,446.8 410.7,447 411.3,447.1 412,446.5 412.6,447.2 413.3,447.7 413.9,446.6 414.5,446.5 415.2,446.3 415.8,446.1 416.5,446.1 417.1,445.9 417.7,445.7 418.4,446.4 419,444.7 419.7,445.3 420.3,447.1 420.9,446.8 421.6,446.5 422.2,446.8 422.9,447.7 423.5,447.1 424.1,446.9 424.8,446.2 425.4,446.6 426.1,446.3 426.7,446.3 427.3,446.2 428,446.4 428.6,446.5 429.3,446.9 429.9,445.7 430.5,446.1 431.2,447.3 431.8,446.5 432.5,446.8 433.1,446.9 433.7,447.1 434.4,447.3 435,445.9 435.7,446.4 436.3,446.2 436.9,445.8 437.6,446.3 438.2,445.9 438.9,446.1 439.5,447.2 440.1,447.2 440.8,447 441.4,446.6 442.1,446.5 442.7,446.5 443.3,446.3 444,446.5 444.6,446 445.3,446.5 445.9,446.8 446.5,446.7 447.2,446.4 447.8,446.5 448.5,447.1 449.1,446.7 449.7,446.6 450.4,445.7 451,445.5 451.7,446.9 452.3,446.8 452.9,447.2 453.6,447 454.2,446.5 454.9,446.6 455.5,445.8 456.1,447.5 456.8,446.8 457.4,447.4 458.1,447.2 458.7,447.1 459.3,447.2 460,446.5 460.6,446.3 461.3,446 461.9,446.3 462.5,447.5 463.2,446.6 463.8,447.2 464.5,447.5 465.1,447.5 465.7,447.6 466.4,446.7 467,447.6 467.7,448.1 468.3,447 468.9,447.2 469.6,446.9 470.2,447.3 470.9,446.7 471.5,447.8 472.1,446.7 472.8,446 473.4,447.7 474.1,447.3 474.7,446.8 475.3,447.1 476,446.6 476.6,446.7 477.3,447.2 477.9,447.3 478.5,447 479.2,446.4 479.8,446.1 480.5,446.4 481.1,446.9 481.7,447 482.4,446.5 483,446.1 483.7,447 484.3,446.8 484.9,446.9 485.6,446 486.2,446.6 486.9,446.8 487.5,447.1 488.1,446.1 488.8,447.4 489.4,447.1 490.1,446.8 490.7,445.8 491.3,446.3 492,446.9 492.6,445.5 493.3,446.5 493.9,446.9 494.5,446.4 495.2,447.3 495.8,446.9 496.5,447.6 497.1,446.9 497.7,446.9 498.4,447.7 499,446.9 499.7,447.1 500.3,446 500.9,446.4 501.6,447 502.2,446.8 502.9,446.7 503.5,447 504.1,446.1 504.8,446.6 505.4,446 506.1,446.9 506.7,446.1 507.3,446 508,446.5 508.6,447.6 509.3,446.1 509.9,446.4 510.5,447.4 511.2,447 511.8,448.2 512.5,447.3 513.1,447.1 513.7,447.1 514.4,448 515,447.1 515.7,446.8 516.3,447 516.9,446 517.6,446.5 518.2,447.4 518.9,447.1 519.5,446.7 520.1,446.7 520.8,446 521.4,446.4 522.1,445.9 522.7,446.8 523.3,446.4 524,446.5 524.6,446.9 525.3,446.4 525.9,447 526.5,446.7 527.2,446.7 527.8,447.5 528.5,446.2 529.1,446 529.7,446.7 530.4,447 531,447.3 531.7,446.5 532.3,446.3 532.9,445.6 533.6,446.5 534.2,446.3 534.9,445.7 535.5,445.7 536.1,446.1 536.8,446.4 537.4,445.1 538.1,446.7 538.7,446.6 539.3,446.4 540,446.7 540.6,446.5 541.3,445.7 541.9,446.2 542.5,445.7 543.2,445.5 543.8,446.2 544.5,446.9 545.1,445.4 545.7,445.5 546.4,445.7 547,447.4 547.7,446.1 548.3,446.3 548.9,445.9 549.6,445.9 550.2,445.4 550.9,446.5 551.5,446.7 552.1,445.7 552.8,446.2 553.4,446.2 554.1,446.3 554.7,446.5 555.3,447 556,446.9 556.6,446.6 557.3,446.7 557.9,445.6 558.5,445.7 559.2,446.5 559.8,446.1 560.5,446.1 561.1,445 561.7,445 562.4,446.4 563,446.1 563.7,445.9 564.3,445.7 564.9,445.1 565.6,446.3 566.2,446.5 566.9,446.7 567.5,445.8 568.1,445.9 568.8,445.4 569.4,446.6 570.1,446.9 570.7,445.8 571.3,446.2 572,446 572.6,445.5 573.3,444.2 573.9,445.4 574.5,445.7 575.2,445.1 575.8,445.3 576.5,444.1 577.1,446.6 577.7,446 578.4,445.9 579,445.4 579.7,445.3 580.3,445.8 580.9,445.6 581.6,445.5 582.2,445.4 582.9,445.4 583.5,446.1 584.1,444.4 584.8,445.2 585.4,444.8 586.1,444.9 586.7,444.1 587.3,445.7 588,445 588.6,445.2 589.3,445.8 589.9,444.8 590.5,445.4 591.2,445 591.8,445.3 592.5,445.1 593.1,444.3 593.7,445.2 594.4,444.7 595,444.7 595.7,444.4 596.3,444.9 596.9,443.8 597.6,444.3 598.2,444.8 598.9,444 599.5,445.2 600.1,443.9 600.8,444.2 601.4,443.7 602.1,443.7 602.7,443.5 603.3,443.7 604,444.1 604.6,444.1 605.3,445.1 605.9,445.3 606.5,444.1 607.2,445.3 607.8,444.8 608.5,444.7 609.1,445.7 609.7,444.9 610.4,444 611,444 611.7,442.7 612.3,444.3 612.9,443.4 613.6,444 614.2,443.9 614.9,444.4 615.5,444.9 616.1,443.9 616.8,444.1 617.4,443.3 618.1,443.8 618.7,443.9 619.3,442.8 620,444.6 620.6,443.4 621.3,443 621.9,444.5 622.5,444.7 623.2,443.1 623.8,443.1 624.5,444.7 625.1,443.2 625.7,442.1 626.4,442.7 627,444 627.7,443.3 628.3,443.5 628.9,443.8 629.6,443.3 630.2,442.7 630.9,442.1 631.5,443.5 632.1,442.6 632.8,443.1 633.4,444.2 634.1,443.4 634.7,443.1 635.3,442.8 636,443 636.6,443 637.3,441.8 637.9,442.5 638.5,443 639.2,442.7 639.8,441.7 640.5,442 641.1,441.1 641.7,441.9 642.4,443.3 643,442.4 643.7,442.1 644.3,442 644.9,442.3 645.6,442.4 646.2,442.4 646.9,442 647.5,442.7 648.1,443.3 648.8,442.4 649.4,442.1 650.1,442.9 650.7,441.5 651.3,441.7 652,441.9 652.6,442.1 653.3,441.8 653.9,441.1 654.5,441.7 655.2,441.1 655.8,440.7 656.5,440.5 657.1,442 657.7,440.9 658.4,442.1 659,442.3 659.7,442.5 660.3,441.9 660.9,441.7 661.6,442.1 662.2,441.4 662.9,440.9 663.5,442.1 664.1,441.1 664.8,442.5 665.4,441.8 666.1,441.4 666.7,441.9 667.3,442.2 668,440.9 668.6,441.1 669.3,440.9 669.9,441.8 670.5,441.8 671.2,441.6 671.8,441.3 672.5,441.7 673.1,442.7 673.7,442.7 674.4,442.4 675,441.7 675.7,442.8 676.3,442.4 676.9,442.6 677.6,443.3 678.2,442.7 678.9,441.8 679.5,441.6 680.1,442.7 680.8,442 681.4,442.5 682.1,441.9 682.7,441.7 683.3,442.4 684,443.1 684.6,442.6 685.3,441.8 685.9,442.1 686.5,441.9 687.2,442.2 687.8,442.7 688.5,443.3 689.1,442.6 689.7,442 690.4,442.4 691,442.6 691.7,442.6 692.3,442.7 692.9,442.3 693.6,442.2 694.2,442.7 694.9,442.1 695.5,441.5 696.1,442.1 696.8,441.6 697.4,442.8 698.1,442.4 698.7,442.2 699.3,441.9 700,442.3 700.6,443 701.3,442.1 701.9,442.7 702.5,441.6 703.2,442.6 703.8,442.8 704.5,442.5 705.1,442.4 705.7,442.8 706.4,441.6 707,441.2 707.7,441.9 708.3,442.5 708.9,442 709.6,441.7 710.2,441.9 710.9,442.3 711.5,441.2 712.1,440.4 712.8,441.5 713.4,441.3 714.1,441.8 714.7,441.7 715.3,442 716,442.8 716.6,442.5 717.3,442.6 717.9,443.5 718.5,442.1 719.2,442.3 719.8,442.9 720.5,441.6 721.1,440.9 721.7,442.4 722.4,442.3 723,442.3 723.7,442.5 724.3,442.7 724.9,442 725.6,442.3 726.2,441.6 726.9,442.2 727.5,442 728.1,441.6 728.8,442.1 729.4,443.2 730.1,440.9 730.7,442 731.3,442.2 732,442.1 732.6,441 733.3,442 733.9,441.6 734.5,441.2 735.2,440.8 735.8,441.3 736.5,441.8 737.1,441.9 737.7,442.7 738.4,441 739,441.3 739.7,440.7 740.3,441.2 740.9,440.8 741.6,440.4 742.2,440.5 742.9,441 743.5,441.4 744.1,441.8 744.8,441.4 745.4,440.3 746.1,440.4 746.7,441 747.3,441 748,441.2 748.6,441.5 749.3,441.1 749.9,440.5 750.5,439.6 751.2,440.1 751.8,439.5 752.5,440.2 753.1,440.6 753.7,439.6 754.4,439.9 755,439.9 755.7,441.1 756.3,440.2 756.9,439 757.6,440.4 758.2,440.5 758.9,440.3 759.5,440.2 760.1,440.9 760.8,440.8 761.4,440.5 762.1,439.7 762.7,440.1 763.3,439.2 764,439.2 764.6,439.4 765.3,439.3 765.9,439.6 766.5,441.1 767.2,440.1 767.8,439.3 768.5,438.5 769.1,438.8 769.7,438.3 770.4,437.6 771,439 771.7,438.2 772.3,438.8 772.9,440.2 773.6,438.5 774.2,438.2 774.9,438.2 775.5,437.7 776.1,437.5 776.8,437.5 777.4,438.2 778.1,437.5 778.7,436.9 779.3,436.7 780,436.3 780.6,436.6 781.3,436.5 781.9,436.3 782.5,436.4 783.2,435.7 783.8,436.3 784.5,436 785.1,436.2 785.7,434.7 786.4,435.9 787,434.5 787.7,434.2 788.3,434.8 788.9,433.9 789.6,435 790.2,433.8 790.9,432.8 791.5,433.2 792.1,432.6 792.8,433.1 793.4,432.7 794.1,432 794.7,430.9 795.3,431 796,431 796.6,429.8 797.3,429 797.9,429.4 798.5,429 799.2,428 799.8,427.6 800.5,426.3 801.1,427.4 801.7,426.2 802.4,425.1 803,425.1 803.7,425.1 804.3,426.3 804.9,425.8 805.6,424.8 806.2,426.3 806.9,426 807.5,424.7 808.1,423.9 808.8,425.6 809.4,424.7 810.1,425 810.7,424.6 811.3,425.8 812,426 812.6,426 813.3,425.8 813.9,426.3 814.5,426.8 815.2,425.9 815.8,427.7 816.5,427 817.1,427.4 817.7,427.3 818.4,427.8 819,428.1 819.7,428.8 820.3,427.9 820.9,428 821.6,428.9 822.2,428.9 822.9,429.5 823.5,428.7 824.1,429.1 824.8,429.5 825.4,429.3 826.1,428.6 826.7,429.5 827.3,429.2 828,427.3 828.6,428.1 829.3,427.9 829.9,427.6 830.5,426.7 831.2,426.8 831.8,426.7 832.5,426.2 833.1,426.2 833.7,425.3 834.4,424 835,423.1 835.7,423.2 836.3,421.8 836.9,421.5 837.6,420.9 838.2,420.4 838.9,419.4 839.5,419.2 840.1,417.4 840.8,417 841.4,415.6 842.1,415.1 842.7,413.9 843.3,412.2 844,410 844.6,410.5 845.3,408.7 845.9,407 846.5,405.1 847.2,403.2 847.8,401.5 848.5,399 849.1,397.2 849.7,393.9 850.4,390.3 851,387.7 851.7,383.7 852.3,380.2 852.9,375.1 853.6,371.4 854.2,367 854.9,361.5 855.5,356.6 856.1,351.1 856.8,344.7 857.4,339.1 858.1,331.5 858.7,324.3 859.3,317.2 860,309.4 860.6,302.9 861.3,296.8 861.9,289.1 862.5,282.5 863.2,274.1 863.8,266 864.5,258.1 865.1,249.7 865.7,242.1 866.4,233.2 867,226.7 867.7,220.6 868.3,215.4 868.9,211.2 869.6,207.9 870.2,205.9 870.9,205.3 871.5,207.3 872.1,209.6 872.8,214.2 873.4,220.2 874.1,226.2 874.7,233.4 875.3,241.9 876,251.1 876.6,260.2 877.3,272 877.9,283.7 878.5,296 879.2,307.9 879.8,319.5 880.5,330 881.1,338.6 881.7,347.5 882.4,355.7 883,364.3 883.7,370.5 884.3,377.5 884.9,384.4 885.6,390.2 886.2,393.2 886.9,395.7 887.5,395.3 888.1,398.3 888.8,400.8 889.4,402.4 890.1,404.1 890.7,406.5 891.3,408.6 892,410.5 892.6,411.5 893.3,412.9 893.9,414.1 894.5,414.1 895.2,415.4 895.8,415.8 896.5,417.1 897.1,417.1 897.7,418.3 898.4,418.2 899,419.7 899.7,418.8 900.3,418.9 900.9,419 901.6,419.3 902.2,420.8 902.9,419.5 903.5,419.7 904.1,420.6 904.8,421.4 905.4,421 906.1,422 906.7,422.3 907.3,422 908,422.2 908.6,422.5 909.3,422.9 909.9,423.1 910.5,424.8 911.2,425.6 911.8,425.1 912.5,425.4 913.1,425.2 913.7,426.6 914.4,427.6 915,428.2 915.7,428.8 916.3,430.1 916.9,430.3 917.6,430.5 918.2,432.1 918.9,430.7 919.5,431.4 920.1,431.9 920.8,432.1 921.4,432.5 922.1,432.9 922.7,432.9 923.3,433.6 924,434 924.6,434.1 925.3,434.2 925.9,433.6 926.5,433.8 927.2,434.2 927.8,435.1 928.5,435 929.1,435.8 929.7,436.2 930.4,436.4 931,435.8 931.7,437.3 932.3,437.2 932.9,438.1 933.6,437.5 934.2,437.8 934.9,437.8 935.5,437.8 936.1,437.3 936.8,438 937.4,438.3 938.1,438.8 938.7,438 939.3,438.7 940,439.3 940.6,438.3 941.3,439.1 941.9,438.4 942.5,438.7 943.2,439.1 943.8,439.3 944.5,438.5 945.1,438.4 945.7,439.9 946.4,439.1 947,439.4 947.7,439.6 948.3,439.3 948.9,438.6 949.6,438.7 950.2,438.2 950.9,439.2 951.5,439.2 952.1,439.8 952.8,440.7 953.4,440 954.1,439.6 954.7,439 955.3,439.8 956,440.1 956.6,438.9 957.3,439.4 957.9,439.3 958.5,439.4 959.2,439.1 959.8,438.6 960.5,439.2 961.1,438.7 961.7,439.9 962.4,439.8 963,439.4 963.7,439.4 964.3,439.2 964.9,438.9 965.6,439 966.2,438.5 966.9,438.6 967.5,437.9 968.1,438.2 968.8,438.3 969.4,438.6 970.1,438.2 970.7,439.1 971.3,438.1 972,437.7 972.6,438.2 973.3,438 973.9,438.4 974.5,437.7 975.2,436.9 975.8,437.1 976.5,437.8 977.1,437.6 977.7,437.8 978.4,437.5 979,438.4 979.7,438.2 980.3,437.8 980.9,437.3 981.6,436.3 982.2,436.4 982.9,437.1 983.5,437.2 984.1,435.6 984.8,436.7 985.4,437.4 986.1,437 986.7,436.2 987.3,436.5 988,435.7 988.6,435.1 989.3,435.6 989.9,435.3 990.5,434.1 991.2,433.7 991.8,433.1 992.5,432.7 993.1,433.4 993.7,432.9 994.4,431.1 995,430.8 995.7,429.3 996.3,428.9 996.9,428.8 997.6,427.9 998.2,427.4 998.9,425.8 999.5,425.1 1000.1,424.9 1000.8,424 1001.4,423.4 1002.1,422.5 1002.7,422 1003.3,421.4 1004,421.1 1004.6,420.1 1005.3,419.2 1005.9,418.7 1006.5,418.5 1007.2,417.7 1007.8,416.9 1008.5,416.6 1009.1,417.4 1009.7,417.1 1010.4,417.9 1011,417.6 1011.7,418.6 1012.3,418.3 1012.9,418.5 1013.6,419.4 1014.2,420.2 1014.9,420.9 1015.5,420.9 1016.1,420.9 1016.8,420.6 1017.4,421.4 1018.1,421.5 1018.7,421.6 1019.3,421.1 1020,421 1020.6,421 1021.3,421 1021.9,420.5 1022.5,419.3 1023.2,419 1023.8,417.8 1024.5,417 1025.1,415.4 1025.7,415.6 1026.4,414.5 1027,414 1027.7,412.3 1028.3,411.9 1028.9,410.7 1029.6,410.7 1030.2,410 1030.9,410 1031.5,409.4 1032.1,410 1032.8,409.6 1033.4,410.4 1034.1,410.7 1034.7,411.2 1035.3,412.3 1036,413.4 1036.6,413.8 1037.3,415.3 1037.9,417.6 1038.5,418.9 1039.2,419.5 1039.8,421.3 1040.5,423.6 1041.1,425.7 1041.7,427.4 1042.4,429.4 1043,431.3 1043.7,433 1044.3,432.2 1044.9,434 1045.6,435.5 1046.2,435.3 1046.9,435.9 1047.5,437.5 1048.1,439 1048.8,440 1049.4,439.2 1050.1,440.1 1050.7,441.2 1051.3,441.9 1052,442.6 1052.6,443 1053.3,444.1 1053.9,443.4 1054.5,443.6 1055.2,443.7 1055.8,444.4 1056.5,443.4 1057.1,444.5 1057.7,444.2 1058.4,444.4 1059,445.6 1059.7,445.4 1060.3,445.9 1060.9,445.2 1061.6,445.7 1062.2,445.2 1062.9,445.4 1063.5,445.4 1064.1,446.4 1064.8,445.3 1065.4,446.5 1066.1,446 1066.7,447.1 1067.3,446.8 1068,447.2 1068.6,448.1 1069.3,447.5 1069.9,447.1 1070.5,447.7 1071.2,447.6 1071.8,446.1 1072.5,447.4 1073.1,447.6 1073.7,446.3 1074.4,447.1 1075,447.9 1075.7,447.3 1076.3,447.9 1076.9,447.9 1077.6,448.2 1078.2,448.3 1078.9,447.6 1079.5,447.3 1080.1,447.8 1080.8,447.6 1081.4,447.4 1082.1,448.4 1082.7,447.3 1083.3,448.3 1084,448 1084.6,448 1085.3,448.4 1085.9,448.1 1086.5,449.2 1087.2,448.3 1087.8,448.2 1088.5,449 1089.1,448.4 1089.7,447 1090.4,448 1091,448.6 1091.7,447.8 1092.3,448.3 1092.9,448.4 1093.6,449.1 1094.2,448.1 1094.9,447.8 1095.5,448.7 1096.1,449.1 1096.8,449.5 1097.4,448.3 1098.1,448.1 1098.7,448.7 1099.3,448.3 1100,449.3 1100.6,448.7 1101.3,447.8 1101.9,448.3 1102.5,448.4 1103.2,448.1 1103.8,448.5 1104.5,448.2 1105.1,448.4 1105.7,448.3 1106.4,449.3 1107,449.1 1107.7,448.9 1108.3,449.1 1108.9,448.4 1109.6,448.6 1110.2,448.2 1110.9,449 1111.5,448.2 1112.1,448.8 1112.8,449.1 1113.4,450.1 1114.1,449.4 1114.7,449 1115.3,449.8 1116,449.2 1116.6,449 1117.3,449.7 1117.9,448.9 1118.5,449.6 1119.2,449.7 1119.8,450.3 1120.5,449.2 1121.1,449.1 1121.7,449.6 1122.4,449.7 1123,449.8 1123.7,449.5 1124.3,450 1124.9,450.3 1125.6,450.1 1126.2,449.3 1126.9,450.3 1127.5,449.1 1128.1,449.7 1128.8,450 1129.4,449 1130.1,450.1 1130.7,450.5 1131.3,450.3 1132,449.6 1132.6,449.7 1133.3,449.2 1133.9,449.5 1134.5,449.6 1135.2,449.6 1135.8,449.8 1136.5,449.9 1137.1,449.1 1137.7,450.3 1138.4,450.3 1139,451 1139.7,450.2 1140.3,450 1140.9,450.3 1141.6,450.4 1142.2,450 1142.9,449.8 1143.5,449.5 1144.1,450.3 1144.8,451 1145.4,449.4 1146.1,449.5 1146.7,450.2 1147.3,449.7 1148,449.9 1148.6,448.9 1149.3,449.4 1149.9,450.1 1150.5,450.2 1151.2,450.2 1151.8,449.5 1152.5,449.9 1153.1,449.1 1153.7,449.5 1154.4,449.4 1155,450.7 1155.7,449.5 1156.3,449.8 1156.9,448.4 1157.6,449.8 1158.2,449.8 1158.9,448.6 1159.5,448.9 1160.1,450.7 1160.8,449.6 1161.4,450.9 1162.1,449.3 1162.7,448.4 1163.3,450 1164,449.4 1164.6,449.2 1165.3,448.5 1165.9,449.1 1166.5,449.4 1167.2,448.5 1167.8,447.9 1168.5,449.5 1169.1,449 1169.7,449.4 1170.4,448.7 1171,448.6 1171.7,448.7 1172.3,447.5 1172.9,449.1 1173.6,448.4 1174.2,448.5 1174.9,449.4 1175.5,448.7 1176.1,449.1 1176.8,448.6 1177.4,448.8 1178.1,448.5 1178.7,449 1179.3,448.2 1180,448.2 1180.6,447.7 1181.3,448.5 1181.9,446.9 1182.5,447.9 1183.2,447.7 1183.8,448 1184.5,447.6 1185.1,448.2 1185.7,448.4 1186.4,446.8 1187,446.2 1187.7,446.3 1188.3,446.5 1188.9,446.9 1189.6,447.1 1190.2,447.8 1190.9,447 1191.5,447.3 1192.1,447.3 1192.8,446.9 1193.4,446.8 1194.1,448.2 1194.7,446.6 1195.3,446.3 1196,445.5 1196.6,446.7 1197.3,445.9 1197.9,445.8 1198.5,447.5 1199.2,446.8 1199.8,445.1 1200.5,445.9 1201.1,446.9 1201.7,446.5 1202.4,445.6 1203,447.2 1203.7,447.2 1204.3,445.9 1204.9,445.4 1205.6,445.7 1206.2,446.7 1206.9,446.8 1207.5,446.5 1208.1,446 1208.8,445.9 1209.4,446.4 1210.1,445.5 1210.7,445.2 1211.3,446.1 1212,446.9 1212.6,446.7 1213.3,446.6 1213.9,446.3 1214.5,447.2 1215.2,445.7 1215.8,446.3 1216.5,445.7 1217.1,445.9 1217.7,445.4 1218.4,446.1 1219,445.8 1219.7,445.6 1220.3,446.2 1220.9,446.1 1221.6,445.7 1222.2,445.8 1222.9,446.4 1223.5,445.6 1224.1,446 1224.8,445.8 1225.4,446.5 1226.1,446.1 1226.7,447.3 1227.3,445.3 1228,446.2 1228.6,445.8 1229.3,446.2 1229.9,444.8 1230.5,446.2 1231.2,444.7 1231.8,446.3 1232.5,446.4 1233.1,446.1 1233.7,445.7 1234.4,445.8 1235,446.4 1235.7,445.9 1236.3,445.3 1236.9,445.3 1237.6,446.7 1238.2,446.3 1238.9,445.8 1239.5,445.5 1240.1,445.8 1240.8,446 1241.4,445.9 1242.1,445.6 1242.7,445.9 1243.3,445.8 1244,446 1244.6,445.3 1245.3,445.6 1245.9,446.5 1246.5,445.8 1247.2,446.4 1247.8,447.1 1248.5,445.6 1249.1,445.8 1249.7,446.8 1250.4,446 1251,446.6 1251.7,446.4 1252.3,445.6 1252.9,446.1 1253.6,446.7 1254.2,446.4 1254.9,445.8 1255.5,446.2 1256.1,445.9 1256.8,447.4 1257.4,446.2 1258.1,445.8 1258.7,445.9 1259.3,446.1 1260,445.8 1260.6,446.2 1261.3,446 1261.9,446.6 1262.5,446.8 1263.2,446.8 1263.8,446.6 1264.5,446.7 1265.1,446.3 1265.7,447.2 1266.4,447.1 1267,447 1267.7,445.6 1268.3,448.2 1268.9,447.7 1269.6,447.6 1270.2,446.7 1270.9,447 1271.5,448.1 1272.1,446.3 1272.8,447.1 1273.4,446.9 1274.1,446.7 1274.7,446.7 1275.3,446.1 1276,447.1 1276.6,445.7 1277.3,447.3 1277.9,446.7 1278.5,445.8 1279.2,445.1 1279.8,445.8 1280.5,446.1 1281.1,445.4 1281.7,446.6 1282.4,445.8 1283,445.4 1283.7,445.2 1284.3,446 1284.9,446 1285.6,446.6 1286.2,446.9 1286.9,446.6 1287.5,446.9 1288.1,447.2 1288.8,446.9 1289.4,446.5 1290.1,447 1290.7,446.2 1291.3,446.6 1292,446.6 1292.6,446.2 1293.3,447.3 1293.9,447.1 1294.5,447.5 1295.2,446.3 1295.8,447.4 1296.5,447.2 1297.1,446.4 1297.7,446.4 1298.4,446.3 1299,446.4 1299.7,447 1300.3,446.3 1300.9,445.9 1301.6,446.5 1302.2,447.8 1302.9,446.5 1303.5,445.9 1304.1,445.9 1304.8,446.5 1305.4,446.9 1306.1,445.8 1306.7,446.4 1307.3,446.7 1308,446.7 1308.6,446.3 1309.3,446.8 1309.9,446.8 1310.5,446.1 1311.2,447.7 1311.8,446.1 1312.5,446.2 1313.1,447.4 1313.7,446.8 1314.4,446.8 1315,447 1315.7,446.9 1316.3,446.6 1316.9,446.9 1317.6,446.8 1318.2,446.8 1318.9,447.1 1319.5,448.3 1320.1,447.7 1320.8,447.7 1321.4,447.1 1322.1,447.6 1322.7,446.1 1323.3,447 1324,447.1 1324.6,446.2 1325.3,445.9 1325.9,446.7 1326.5,446 1327.2,446.1 1327.8,446.5 1328.5,445.8 1329.1,446.4 1329.7,447.5 1330.4,446.4 1331,447.2 1331.7,446.2 1332.3,446.8 1332.9,446.4 1333.6,446.4 1334.2,446.9 1334.9,447.5 1335.5,446.6 1336.1,447.4 1336.8,447.1 1337.4,447.2 1338.1,446.5 1338.7,446.4 1339.3,446.3 1340,446.3 1340.6,446.6 1341.3,446.1 1341.9,446.5 1342.5,446.6 1343.2,447.8 1343.8,447.4 1344.5,446.8 1345.1,446.3 1345.7,447.1 1346.4,447.1 1347,446.1 1347.7,445.8 1348.3,445.3 1348.9,446.2 1349.6,447.3 1350.2,446.3 1350.9,446.8 1351.5,447 1352.1,447.1 1352.8,447.5 1353.4,445.9 1354.1,446.7 1354.7,447.1 1355.3,447 1356,447.6 1356.6,446.8 1357.3,447.5 1357.9,448 1358.5,447.1 1359.2,447.2 1359.8,447.1 1360.5,447.7 1361.1,446.2 1361.7,446.2 1362.4,446.7 1363,447.2 1363.7,446.9 1364.3,446.1 1364.9,447.1 1365.6,446.7 1366.2,446.4 1366.9,446.9 1367.5,447.5 1368.1,446.7 1368.8,446.1 1369.4,446.5 1370.1,446.6 1370.7,446.9 1371.3,445.9 1372,446.4 1372.6,445.6 1373.3,446.4 1373.9,445.7 1374.5,446.3 1375.2,445.5 1375.8,445.8 1376.5,445.5 1377.1,445.4 1377.7,447 1378.4,446.9 1379,446.6 1379.7,446 1380.3,447.2 1380.9,446.2 1381.6,446.5 1382.2,446.8 1382.9,446.1 1383.5,446.9 1384.1,446.1 1384.8,446.2 1385.4,446.3 1386.1,445.8 1386.7,446 1387.3,447.1 1388,446 1388.6,447.5 1389.3,447 1389.9,447.3 1390.5,446.9 1391.2,446.9 1391.8,447.2 1392.5,446.3 1393.1,446.3 1393.7,447.1 1394.4,446.7 1395,447.3 1395.7,447.4 1396.3,446.6 1396.9,446.2 1397.6,445.9 1398.2,447.6 1398.9,446.1 1399.5,446.1 1400.1,447 1400.8,446.8 1401.4,446.4 1402.1,446.5 1402.7,446.2 1403.3,446 1404,446.2 1404.6,446.9 1405.3,447.1 1405.9,446.9 1406.5,446.2 1407.2,444.7 1407.8,446.1 1408.5,445.6 1409.1,444.7 1409.7,446.7 1410.4,446.3 1411,446.4 1411.7,446.6 1412.3,446.8 1412.9,446.6 1413.6,446.4 1414.2,446.1 1414.9,446.4 1415.5,446.2 1416.1,447 1416.8,446.3 1417.4,446.2 1418.1,446.4 1418.7,446.6 1419.3,446.5 1420,446.6 1420.6,446.2 1421.3,446.6 1421.9,446.8 1422.5,447.2 1423.2,446.6 1423.8,446.3 1424.5,445.7 1425.1,445.3 1425.7,445.9 1426.4,445.9 1427,445.9 1427.7,445.6 1428.3,446 1428.9,445.1 1429.6,445.6 1430.2,445.6 1430.9,446.3 1431.5,445.1 1432.1,444.8 1432.8,445 1433.4,444.3 1434.1,444.6 1434.7,444 1435.3,443.9 1436,443.7 1436.6,444 1437.3,443.5 1437.9,443.3 1438.5,444.6 1439.2,444.2 1439.8,444.4 1440.5,444.7 1441.1,445.2 1441.7,443.1 1442.4,444 1443,445.2 1443.7,443.6 1444.3,444.8 1444.9,444.2 1445.6,443.9 1446.2,444.3 1446.9,443.3 1447.5,444.5 1448.1,444.8 1448.8,443.5 1449.4,443.7 1450.1,444.2 1450.7,443.7 1451.3,443 1452,443.8 1452.6,442.3 1453.3,442.8 1453.9,443.2 1454.5,443 1455.2,443.5 1455.8,442 1456.5,442.3 1457.1,442 1457.7,442.7 1458.4,442.5 1459,441.5 1459.7,441.3 1460.3,441.8 1460.9,441.1 1461.6,441 1462.2,441.1 1462.9,440.4 1463.5,441.6 1464.1,440.3 1464.8,439.4 1465.4,439.2 1466.1,439.3 1466.7,439.8 1467.3,439.1 1468,439.1 1468.6,439.2 1469.3,438.5 1469.9,437.8 1470.5,438 1471.2,438.3 1471.8,437.3 1472.5,437.9 1473.1,436.8 1473.7,436.6 1474.4,436 1475,435.8 1475.7,436.7 1476.3,434.4 1476.9,434.7 1477.6,435.7 1478.2,433.9 1478.9,434.1 1479.5,433.7 1480.1,433.7 1480.8,432.4 1481.4,432.9 1482.1,432.4 1482.7,432.6 1483.3,430.8 1484,429.5 1484.6,428.9 1485.3,427.1 1485.9,427.8 1486.5,427.5 1487.2,425.5 1487.8,424.8 1488.5,423.7 1489.1,422.3 1489.7,420.5 1490.4,420.8 1491,418.5 1491.7,417.3 1492.3,417.1 1492.9,414.9 1493.6,413 1494.2,412.3 1494.9,409.9 1495.5,408.2 1496.1,405.3 1496.8,402.8 1497.4,401.7 1498.1,400 1498.7,396.7 1499.3,394.6 1500,392.4 1500.6,389.9 1501.3,387.5 1501.9,385.4 1502.5,382.9 1503.2,380.4 1503.8,379 1504.5,376.5 1505.1,374.5 1505.7,372.7 1506.4,369.2 1507,369.3 1507.7,367.5 1508.3,365.3 1508.9,365.8 1509.6,364.2 1510.2,363 1510.9,362.2 1511.5,362.1 1512.1,361.3 1512.8,360.4 1513.4,360.5 1514.1,360.4 1514.7,360.2 1515.3,359.9 1516,358.7 1516.6,358.7 1517.3,359.4 1517.9,359.2 1518.5,360.1 1519.2,360 1519.8,361.2 1520.5,361.5 1521.1,362.5 1521.7,363.3 1522.4,363.5 1523,364.4 1523.7,366.3 1524.3,367.1 1524.9,368 1525.6,369.4 1526.2,372 1526.9,373.8 1527.5,375.3 1528.1,377.1 1528.8,377.8 1529.4,379.3 1530.1,380.1 1530.7,381.8 1531.3,384.6 1532,386 1532.6,387.8 1533.3,391 1533.9,393 1534.5,393.7 1535.2,397.1 1535.8,398.1 1536.5,401.5 1537.1,402.4 1537.7,404.9 1538.4,406.9 1539,410.3 1539.7,410.7 1540.3,413.9 1540.9,415.7 1541.6,417.1 1542.2,419.1 1542.9,421.4 1543.5,421.2 1544.1,422.3 1544.8,424.3 1545.4,425.3 1546.1,425.6 1546.7,427.3 1547.3,428.5 1548,428.7 1548.6,429.8 1549.3,430.6 1549.9,431 1550.5,432.8 1551.2,433.6 1551.8,432.9 1552.5,434.6 1553.1,435.6 1553.7,435.6 1554.4,436.8 1555,437.6 1555.7,437.1 1556.3,438.5 1556.9,438.1 1557.6,440.4 1558.2,440.1 1558.9,440 1559.5,440.4 1560.1,440.5 1560.8,442.2 1561.4,441.2 1562.1,441.5 1562.7,441.8 1563.3,441.4 1564,442.9 1564.6,441.3 1565.3,443.4 1565.9,442.5 1566.5,443.3 1567.2,443.6 1567.8,444 1568.5,442.7 1569.1,443.6 1569.7,443.6 1570.4,443.7 1571,443.4 1571.7,444.2 1572.3,444.1 1572.9,444.7 1573.6,444.3 1574.2,442.7 1574.9,443.8 1575.5,444.3 1576.1,443.1 1576.8,442.5 1577.4,442.1 1578.1,444.3 1578.7,442.7 1579.3,443.2 1580,442.8 1580.6,443.6 1581.3,444.4 1581.9,442.9 1582.5,443.7 1583.2,443.2 1583.8,442.6 1584.5,442.9 1585.1,443.3 1585.7,443.8 1586.4,443.7 1587,443.2 1587.7,442.3 1588.3,443.6 1588.9,443.3 1589.6,443.4 1590.2,442.9 1590.9,443.5 1591.5,444.4 1592.1,444.2 1592.8,444.2 1593.4,443.8 1594.1,443.3 1594.7,443.5 1595.3,443.8 1596,444.1 1596.6,443.6 1597.3,443.4 1597.9,444.5 1598.5,443.7 1599.2,444.2 1599.8,443.4 1600.5,443.8 1601.1,443.8 1601.7,444 1602.4,443.9 1603,443.1 1603.7,442.9 1604.3,443.6 1604.9,444.2 1605.6,442.8 1606.2,442.8 1606.9,444.4 1607.5,442.5 1608.1,443.2 1608.8,443.6 1609.4,443.5 1610.1,443.5 1610.7,444.3 1611.3,444.4 1612,444.3 1612.6,443.1 1613.3,444.7 1613.9,444.2 1614.5,444.4 1615.2,444.6 1615.8,444.5 1616.5,444.3 1617.1,444.5 1617.7,443.9 1618.4,443.8 1619,443.4 1619.7,444.4 1620.3,444 1620.9,444.3 1621.6,445.1 1622.2,445.3 1622.9,444.2 1623.5,444.3 1624.1,444.2 1624.8,443.6 1625.4,443.7 1626.1,445.6 1626.7,444.1 1627.3,445.2 1628,444.4 1628.6,445 1629.3,444.9 1629.9,444.5 1630.5,443.9 1631.2,445.4 1631.8,445.3 1632.5,445.1 1633.1,445.3 1633.7,444.5 1634.4,444.7 1635,444.5 1635.7,443.7 1636.3,443.6 1636.9,444.1 1637.6,442.8 1638.2,444.5 1638.9,444.5 1639.5,444 1640.1,444.4 1640.8,443.7 1641.4,445.1 1642.1,445.3 1642.7,445.2 1643.3,445.4 1644,444.9 1644.6,445.6 1645.3,444.6 1645.9,445 1646.5,445.4 1647.2,444.3 1647.8,444.2 1648.5,445.3 1649.1,444.1 1649.7,444.4 1650.4,444.9 1651,444.1 1651.7,444.1 1652.3,443.7 1652.9,443.9 1653.6,445.4 1654.2,444.7 1654.9,444.6 1655.5,443.2 1656.1,443.2 1656.8,444 1657.4,445 1658.1,445 1658.7,443.9 1659.3,443.9 1660,445.1 1660.6,444.8 1661.3,445 1661.9,445.2 1662.5,444.4 1663.2,445 1663.8,444.8 1664.5,445.6 1665.1,445 1665.7,444.2 1666.4,445.7 1667,446 1667.7,445.5 1668.3,444.8 1668.9,444.3 1669.6,445.3 1670.2,444.5 1670.9,445.2 1671.5,445.6 1672.1,444.9 1672.8,444.2 1673.4,445.6 1674.1,444.8 1674.7,444.5 1675.3,445.1 1676,445.6 1676.6,445.2 1677.3,445.7 1677.9,444.3 1678.5,445.4 1679.2,446 1679.8,444.7 1680.5,444.7 1681.1,444.8 1681.7,445.4 1682.4,444.6 1683,444.3 1683.7,444 1684.3,445.3 1684.9,445.4 1685.6,444.8 1686.2,446.1 1686.9,444.9 1687.5,445.6 1688.1,444.7 1688.8,444.7 1689.4,445.3 1690.1,445.3 1690.7,445.2 1691.3,444.3 1692,444.5 1692.6,444.5 1693.3,444.4 1693.9,444.4 1694.5,445 1695.2,445.1 1695.8,443.7 1696.5,445.3 1697.1,444.7 1697.7,445.1 1698.4,444.9 1699,445.2 1699.7,445.1 1700.3,444.2 1700.9,445.3 1701.6,444.1 1702.2,445.1 1702.9,445.1 1703.5,444.1 1704.1,444.8 1704.8,444.7 1705.4,444.4 1706.1,445.5 1706.7,444.5 1707.3,444.4 1708,445.5 1708.6,444.4 1709.3,444.3 1709.9,443.6 1710.5,444.8 1711.2,445 1711.8,445.5 1712.5,444.5 1713.1,445.4 1713.7,445.6 1714.4,445.4 1715,444.9 1715.7,443.9 1716.3,444.7 1716.9,444.6 1717.6,443.7 1718.2,444.8 1718.9,444.5 1719.5,444.5 1720.1,445.5 1720.8,444.2 1721.4,443.6 1722.1,443.7 1722.7,445 1723.3,444.7 1724,444.5 1724.6,443.8 1725.3,444.4 1725.9,444.3 1726.5,444.8 1727.2,444.3 1727.8,444.3 1728.5,444.7 1729.1,444.4 1729.7,445 1730.4,443.2 1731,444.4 1731.7,445.6 1732.3,444.9 1732.9,443.9 1733.6,444.2 1734.2,443.8 1734.9,443.8 1735.5,444.7 1736.1,443.9 1736.8,444.2 1737.4,443.7 1738.1,443.7 1738.7,443.2 1739.3,443.6 1740,443.7 1740.6,443.8 1741.3,444 1741.9,444.2 1742.5,444.4 1743.2,444 1743.8,444.7 1744.5,444.6 1745.1,445 1745.7,444 1746.4,444.7 1747,444.1 1747.7,443.1 1748.3,443.6 1748.9,443.5 1749.6,442.9 1750.2,443.1 1750.9,443.2 1751.5,444.6 1752.1,443.7 1752.8,444.5 1753.4,443.8 1754.1,443.7 1754.7,443.6 1755.3,442.5 1756,443.8 1756.6,442.6 1757.3,443.7 1757.9,443.2 1758.5,444.3 1759.2,444 1759.8,444.4 1760.5,443.5 1761.1,442.9 1761.7,443.3 1762.4,443.8 1763,442.5 1763.7,442 1764.3,441.1 1764.9,441.3 1765.6,441.5 1766.2,441.5 1766.9,441.4 1767.5,440.7 1768.1,440.5 1768.8,440.9 1769.4,440.9 1770.1,440.5 1770.7,440.4 1771.3,440.3 1772,440.5 1772.6,438.7 1773.3,438.6 1773.9,438.8 1774.5,438.4 1775.2,438.5 1775.8,436.7 1776.5,437.2 1777.1,437 1777.7,436 1778.4,436.1 1779,435.9 1779.7,435 1780.3,434.5 1780.9,434.1 1781.6,433.5 1782.2,433.3 1782.9,432.4 1783.5,432.2 1784.1,430.5 1784.8,430 1785.4,428.7 1786.1,428.6 1786.7,428.3 1787.3,426.7 1788,426.7 1788.6,426.2 1789.3,425.3 1789.9,425 1790.5,423.3 1791.2,423.6 1791.8,423.1 1792.5,423 1793.1,421.3 1793.7,420.4 1794.4,419.3 1795,419.6 1795.7,418.9 1796.3,417.4 1796.9,416.9 1797.6,416.8 1798.2,415.7 1798.9,414.9 1799.5,414.6 1800.1,414.9 1800.8,414.7 1801.4,413.7 1802.1,414.3 1802.7,413.8 1803.3,414.2 1804,413.8 1804.6,414.2 1805.3,413.3 1805.9,413.5 1806.5,413.3 1807.2,414.4 1807.8,415.7 1808.5,414.5 1809.1,414.2 1809.7,414.4 1810.4,414.3 1811,415.2 1811.7,415.2 1812.3,414.7 1812.9,414.4 1813.6,415.8 1814.2,416.1 1814.9,415.5 1815.5,414.8 1816.1,415 1816.8,414.8 1817.4,414.9 1818.1,414.5 1818.7,414.8 1819.3,413.3 1820,412.5 1820.6,413 1821.3,410.6 1821.9,409.3 1822.5,409.6 1823.2,407.5 1823.8,406.7 1824.5,403 1825.1,403.6 1825.7,401.7 1826.4,400.5 1827,399.1 1827.7,396.3 1828.3,396.2 1828.9,395.7 1829.6,396 1830.2,393.2 1830.9,394.4 1831.5,393.2 1832.1,393.5 1832.8,392.8 1833.4,394.3 1834.1,394.6 1834.7,395.7 1835.3,398.6 1836,399.2 1836.6,401.1 1837.3,403.6 1837.9,404.8 1838.5,406.4 1839.2,408.9 1839.8,411 1840.5,413.6 1841.1,414.1 1841.7,416.6 1842.4,418.1 1843,419.1 1843.7,420.7 1844.3,421.9 1844.9,422.9 1845.6,424 1846.2,426 1846.9,426.1 1847.5,427.1 1848.1,428.8 1848.8,428.8 1849.4,429.4 1850.1,429.9 1850.7,430.8 1851.3,431.5 1852,432.2 1852.6,433.9 1853.3,433.2 1853.9,432.9 1854.5,434.2 1855.2,435.4 1855.8,434.7 1856.5,435.9 1857.1,435.7 1857.7,435.8 1858.4,436.3 1859,436.3 1859.7,437.4 1860.3,438 1860.9,438.2 1861.6,440 1862.2,438.4 1862.9,440 1863.5,439.4 1864.1,440 1864.8,439.5 1865.4,438 1866.1,439.4 1866.7,440 1867.3,439.8 1868,439.2 1868.6,439.7 1869.3,440.3 1869.9,440.6 1870.5,439.7 1871.2,440.2 1871.8,440 1872.5,440 1873.1,440.2 1873.7,441.3 1874.4,441 1875,440.7 1875.7,441 1876.3,441.4 1876.9,441.2 1877.6,441.5 1878.2,441.8 1878.9,442.1 1879.5,441.5 1880.1,442.3 1880.8,441.3 1881.4,441.6 1882.1,441.5 1882.7,442.4 1883.3,441.7 1884,441.9 1884.6,442.3 1885.3,442.1 1885.9,442.1 1886.5,442.3 1887.2,441.9 1887.8,443 1888.5,442.8 1889.1,443.1 1889.7,444.1 1890.4,443.5 1891,443.2 1891.7,442.7 1892.3,443.8 1892.9,442.9 1893.6,442.4 1894.2,443.2 1894.9,442.9 1895.5,442.5 1896.1,442.9 1896.8,443.3 1897.4,442.4 1898.1,442.4 1898.7,441.6 1899.3,441.8 1900,442.3 1900.6,441.7 1901.3,441.7 1901.9,442.1 1902.5,441.2 1903.2,441.9 1903.8,440.5 1904.5,440.2 1905.1,439.9 1905.7,439.2 1906.4,439.9 1907,439.5 1907.7,440.1 1908.3,439 1908.9,439.1 1909.6,439.1 1910.2,438 1910.9,437.7 1911.5,436.2 1912.1,437.9 1912.8,436.8 1913.4,437.1 1914.1,436.2 1914.7,436.6 1915.3,435.8 1916,436.5 1916.6,436.4 1917.3,436 1917.9,436.8 1918.5,435.7 1919.2,436.6 1919.8,436.8 1920.5,437.7 1921.1,437.8 1921.7,437.1 1922.4,437.3 1923,439 1923.7,437.4 1924.3,439.1 1924.9,438.8 1925.6,439.2 1926.2,438.3 1926.9,440.3 1927.5,440 1928.1,440.3 1928.8,441.5 1929.4,441.3 1930.1,442.5 1930.7,442.1 1931.3,443.2 1932,443.7 1932.6,443.6 1933.3,443.7 1933.9,444 1934.5,444.3 1935.2,444.5 1935.8,445.9 1936.5,445 1937.1,444.9 1937.7,445 1938.4,445.2 1939,445.6 1939.7,445.6 1940.3,445.6 1940.9,445.8 1941.6,446.2 1942.2,445.7 1942.9,446.9 1943.5,446.4 1944.1,447.1 1944.8,447 1945.4,447.5 1946.1,446.9 1946.7,446.1 1947.3,446.4 1948,447 1948.6,447.3 1949.3,447.4 1949.9,447.6 1950.5,447.8 1951.2,447.8 1951.8,447.8 1952.5,447.6 1953.1,447.9 1953.7,447.3 1954.4,447.3 1955,447.1 1955.7,448 1956.3,445.5 1956.9,445.9 1957.6,446.1 1958.2,446.6 1958.9,446.6 1959.5,447.4 1960.1,446.1 1960.8,448.1 1961.4,446.5 1962.1,446.4 1962.7,446.8 1963.3,446.5 1964,446.4 1964.6,446 1965.3,445.9 1965.9,446.3 1966.5,446.3 1967.2,445.5 1967.8,445.6 1968.5,447 1969.1,447.5 1969.7,447.3 1970.4,447.4 1971,447.2 1971.7,448.5 1972.3,447 1972.9,447.3 1973.6,447.1 1974.2,448 1974.9,447 1975.5,447.2 1976.1,446.8 1976.8,446.6 1977.4,447.6 1978.1,447.5 1978.7,447.4 1979.3,447.4 1980,446.8 1980.6,446.8 1981.3,446.5 1981.9,446.9 1982.5,447.9 1983.2,447.5 1983.8,446.6 1984.5,447 1985.1,446.8 1985.7,446.7 1986.4,447 1987,446.2 1987.7,446.2 1988.3,447.5 1988.9,447.2 1989.6,446.3 1990.2,447.2 1990.9,446.3 1991.5,446.6 1992.1,447.4 1992.8,447 1993.4,447.3 1994.1,445.4 1994.7,447.1 1995.3,446.6 1996,446.7 1996.6,446.2 1997.3,446.8 1997.9,447.5 1998.5,447.2 1999.2,447.3 1999.8,447.3 2000.5,447.5 2001.1,446.9 2001.7,446.8 2002.4,446.8 2003,447.1 2003.7,447 2004.3,446.9 2004.9,447.4 2005.6,446.1 2006.2,446.6 2006.9,446.9 2007.5,447.4 2008.1,447.7 2008.8,447.3 2009.4,447.1 2010.1,447 2010.7,447.9 2011.3,447.7 2012,447 2012.6,447.5 2013.3,447.9 2013.9,448 2014.5,447.5 2015.2,448.6 2015.8,448.4 2016.5,447.3 2017.1,447.3 2017.7,446.9 2018.4,446.7 2019,447.3 2019.7,447.8 2020.3,448.3 2020.9,447.9 2021.6,447.7 2022.2,447.6 2022.9,448.1 2023.5,447.7 2024.1,448 2024.8,447.4 2025.4,447.7 2026.1,447.2 2026.7,448.5 2027.3,448.3 2028,448.1 2028.6,447.6 2029.3,448.4 2029.9,448.7 2030.5,447.7 2031.2,448.1 2031.8,448.6 2032.5,447.7 2033.1,447.1 2033.7,447.3 2034.4,448 2035,447.1 2035.7,447.2 2036.3,447.1 2036.9,447.4 2037.6,448.1 2038.2,447.9 2038.9,446.5 2039.5,447.7 2040.1,447.9 2040.8,448.3 2041.4,448.1 2042.1,447.8 2042.7,448.1 2043.3,447.8 2044,447.2 2044.6,447.8 2045.3,447.6 2045.9,448.8 2046.5,447.9 2047.2,448.7 2047.8,447.5 2048.5,447.3 2049.1,447.8 2049.7,446.9 2050.4,447.6 2051,446.9 2051.7,448 2052.3,447.1 2052.9,448.2 2053.6,447.3 2054.2,448.2 2054.9,448.5 2055.5,448.2 2056.1,447.8 2056.8,448.2 2057.4,448.6 2058.1,448.7 2058.7,449 2059.3,449.6 2060,448.7 2060.6,448.5 2061.3,448.2 2061.9,448.5 2062.5,448.7 2063.2,448.3 2063.8,448.7 2064.5,449.7 2065.1,448.2 2065.7,448.4 2066.4,448.2 2067,447.9 2067.7,448.8 2068.3,448.2 2068.9,448.7 2069.6,447.6 2070.2,448.7 2070.9,448.4 2071.5,447.8 2072.1,448.7 2072.8,448.7 2073.4,448.4 2074.1,448.3 2074.7,447.7 2075.3,448.8 2076,448.3 2076.6,448.7 2077.3,448.8 2077.9,449 2078.5,448.3 2079.2,448.6 2079.8,448.7 2080.5,449.2 2081.1,448.4 2081.7,449.6 2082.4,449.4 2083,449.4 2083.7,450.3 2084.3,449.9 2084.9,449.2 2085.6,449.4 2086.2,448.8 2086.9,448.7 2087.5,449 2088.1,449.2 2088.8,450.2 2089.4,449.4 2090.1,447.8 2090.7,448.7 2091.3,448.4 2092,448.6 2092.6,448.8 2093.3,448.9 2093.9,449.2 2094.5,448.5 2095.2,449.6 2095.8,448.9 2096.5,449.9 2097.1,449.2 2097.7,449.5 2098.4,449 2099,450.3 2099.7,449.7 2100.3,449.1 2100.9,449.5 2101.6,449.7 2102.2,448.7 2102.9,448.9 2103.5,449 2104.1,450 2104.8,449.7 2105.4,449.3 2106.1,449.3 2106.7,449.7 2107.3,448.3 2108,449.5 2108.6,450.4 2109.3,449 2109.9,449.1 2110.5,449.2 2111.2,449.7 2111.8,449 2112.5,450.4 2113.1,449.5 2113.7,449.1 2114.4,448.9 2115,450.4 2115.7,450.5 2116.3,450.2 2116.9,450.6 2117.6,450.7 2118.2,450.3 2118.9,450 2119.5,449.6 2120.1,449.9 2120.8,449.6 2121.4,450.6 2122.1,450.3 2122.7,450.1 2123.3,449.9 2124,450.2 2124.6,450.4 2125.3,449.9 2125.9,450 2126.5,449.3 2127.2,449.9 2127.8,450.3 2128.5,450 2129.1,450.2 2129.7,450.6 2130.4,450.2 2131,450.6 2131.7,449.9 2132.3,450.7 2132.9,450.1 2133.6,450.2 2134.2,450.7 2134.9,450.9 2135.5,450.3 2136.1,450.7 2136.8,451.4 2137.4,450.2 2138.1,450.8 2138.7,450 2139.3,449.3 2140,450.4 2140.6,450.1 2141.3,450.1 2141.9,449.4 2142.5,450.7 2143.2,450.6 2143.8,450.1 2144.5,450.7 2145.1,450.3 2145.7,450.3 2146.4,450.3 2147,450.9 2147.7,450.4 2148.3,451 2148.9,450 2149.6,450 2150.2,451.4"/>
</g>
<g fill="#000">
<rect x="212.95" y="1592.0" width="1940" height="13.9"/>
<rect x="212.9" y="1599" width="13.0" height="27.9"/>
<rect x="293.2" y="1599" width="13.0" height="13"/>
<rect x="373.4" y="1599" width="13.0" height="27.9"/>
<rect x="453.7" y="1599" width="13.0" height="13"/>
<rect x="534" y="1599" width="13.0" height="27.9"/>
<rect x="614.2" y="1599" width="13.0" height="13"/>
<rect x="694.5" y="1599" width="13.0" height="27.9"/>
<rect x="774.7" y="1599" width="13.0" height="13"/>
<rect x="855" y="1599" width="13.0" height="27.9"/>
<rect x="935.2" y="1599" width="13.0" height="13"/>
<rect x="1015.5" y="1599" width="13.0" height="27.9"/>
<rect x="1095.7" y="1599" width="13.0" height="13"/>
<rect x="1176" y="1599" width="13.0" height="27.9"/>
<rect x="1256.2" y="1599" width="13.0" height="13"/>
<rect x="1336.5" y="1599" width="13.0" height="27.9"/>
<rect x="1416.7" y="1599" width="13.0" height="13"/>
<rect x="1497" y="1599" width="13.0" height="27.9"/>
<rect x="1577.2" y="1599" width="13.0" height="13"/>
<rect x="1657.5" y="1599" width="13.0" height="27.9"/>
<rect x="1737.7" y="1599" width="13.0" height="13"/>
<rect x="1818" y="1599" width="13.0" height="27.9"/>
<rect x="1898.2" y="1599" width="13.0" height="13"/>
<rect x="1978.5" y="1599" width="13.0" height="27.9"/>
<rect x="2058.7" y="1599" width="13.0" height="13"/>
<rect x="2138.9" y="1599" width="13.0" height="27.9"/>
</g>
<g font-size="79.5" text-anchor="middle" fill="#000">
<text x="220.4" y="1707">10</text>
<text x="380.9" y="1707">15</text>
<text x="541.5" y="1707">20</text>
<text x="702" y="1707">25</text>
<text x="862.5" y="1707">30</text>
<text x="1023" y="1707">35</text>
<text x="1183.5" y="1707">40</text>
<text x="1344" y="1707">45</text>
<text x="1504.5" y="1707">50</text>
<text x="1665" y="1707">55</text>
<text x="1825.5" y="1707">60</text>
<text x="1986" y="1707">65</text>
<text x="2146.4" y="1707">70</text>
</g>
<text x="1181.4" y="1847.2" font-size="87" text-anchor="middle" fill="#000">2Theta (degree)</text>
<text transform="translate(107.2 888.2) rotate(-90)" font-size="80" text-anchor="middle" fill="#000">Intensity(a.u)</text>
<line x1="132.5" y1="1124.7" x2="132.5" y2="705" stroke="#000" stroke-width="6.8"/>
<polygon points="132.5,663 120.9,711.7 146,711.7" fill="#000"/>
<text x="1546.2" y="157.9" font-size="73.5" fill="#000">M: monoclinic</text>
<text x="1549.3" y="250.8" font-size="74.5" fill="#000">T: tetragonal</text>
<g stroke="#FF0000" stroke-width="5.2" fill="none">
<line x1="808.9" y1="170" x2="805.4" y2="1277"/>
<line x1="906.9" y1="165" x2="904" y2="1280.5"/>
</g>
<g fill="#FF0000">
<path d="M796.1,144.9 L809.5,162.6 L822.8,145.8 Q813,166 811,191 L806,191 Q804.5,166 796.1,144.9 Z"/>
<path d="M893.9,141.9 L906.6,158.8 L921,142.1 Q911.6,163 908.9,185 L903.9,185 Q901.2,163 893.9,141.9 Z"/>
</g>
<line x1="867.8" y1="146.5" x2="867.8" y2="1361.6" stroke="#000" stroke-width="6.2" stroke-dasharray="19 13.35" />
<polygon points="868.3,92.7 856.1,143.7 881.9,143.7" fill="#000"/>
<g font-size="75.5" text-anchor="middle" fill="#000">
<text transform="translate(446.8 1473) scale(0.965 1)">M</text>
<text transform="translate(671.7 1457) scale(0.965 1)">M</text>
<text transform="translate(760.1 1349.8) scale(0.965 1)">M</text>
<text transform="translate(917.9 1336.9) scale(0.965 1)">M</text>
<text transform="translate(1205.2 1469.5) scale(0.965 1)">M</text>
<text transform="translate(1355.2 1474.9) scale(0.965 1)">M</text>
<text transform="translate(1443.2 1392.7) scale(0.965 1)">M</text>
<text transform="translate(1675.2 1469.5) scale(0.965 1)">M</text>
<text transform="translate(865.4 1463.6) scale(0.94 1)">T</text>
<text transform="translate(1009.2 1437.8) scale(0.94 1)">T</text>
<text transform="translate(1510.7 1393.9) scale(0.94 1)">T</text>
<text transform="translate(1830.8 1463.1) scale(0.94 1)">T</text>
<text transform="translate(865.4 86.9) scale(0.94 1)">T</text>
</g>
<g font-size="75.5" text-anchor="middle" fill="#FF0000">
<text transform="translate(807.65 104.9) scale(0.965 1)">M</text>
<text transform="translate(931.45 112.7) scale(0.965 1)">M</text>
</g>
<g font-size="74" text-anchor="middle" fill="#000">
<text x="2234.5" y="1541.5">(a)</text>
<text x="2224.4" y="1280">(b)</text>
<text x="2234.5" y="998.5">(c)</text>
<text x="2236.3" y="716">(d)</text>
<text x="2228.6" y="459.5">(e)</text>
</g>
</svg>
</body></html>
